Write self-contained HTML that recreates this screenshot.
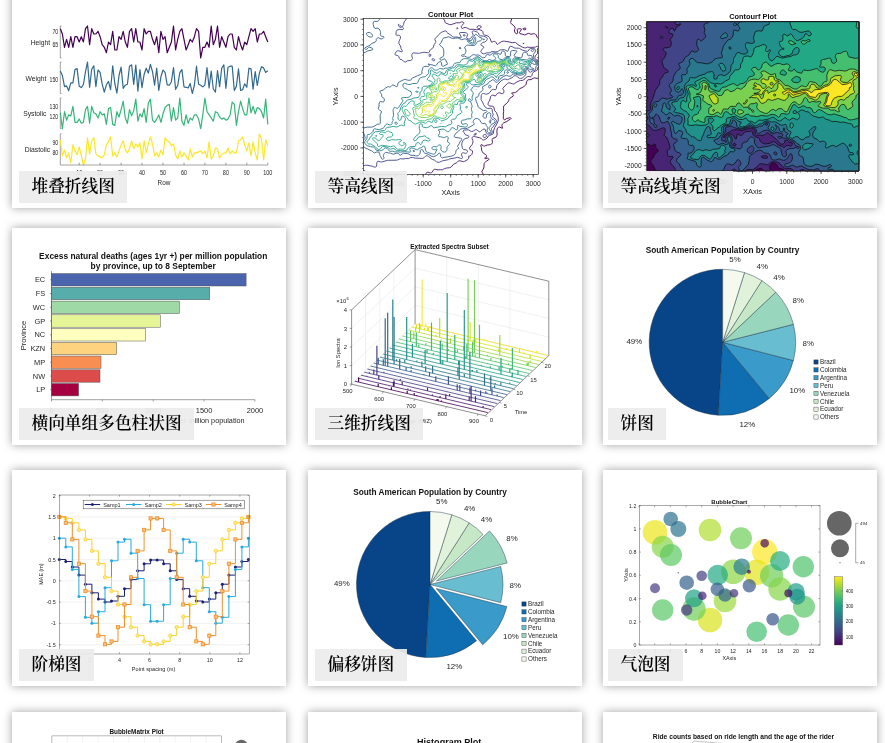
<!DOCTYPE html>
<html lang="zh"><head><meta charset="utf-8"><title>图表</title><style>
html,body{margin:0;padding:0;background:#fff}
body{width:885px;height:743px;overflow:hidden;position:relative;font-family:"Liberation Sans","Noto Sans CJK SC",sans-serif}
.card{position:absolute;background:#fff;box-shadow:0 0 9px rgba(0,0,0,.37);overflow:hidden}
.card svg{position:absolute;left:0;top:0;display:block}
.card svg text{font-family:"Liberation Sans",sans-serif}
.lab{position:absolute;left:7px;bottom:5.5px;height:31.5px;line-height:31px;padding:0 12.5px;background:rgba(236,236,236,.93);font-family:"Liberation Serif","Noto Serif CJK SC",serif;font-size:16.7px;font-weight:600;color:#000;white-space:nowrap}
</style></head><body>
<div class="card" style="left:12px;top:-9px;width:274px;height:217px">
<svg width="274" height="217" viewBox="12 -9 274 217">
<line x1="60.3" y1="26" x2="60.3" y2="58" stroke="#444" stroke-width="0.5"/>
<line x1="60.3" y1="26" x2="61.5" y2="26" stroke="#444" stroke-width="0.5"/>
<line x1="60.3" y1="58" x2="61.5" y2="58" stroke="#444" stroke-width="0.5"/>
<text x="58.2" y="33.7" font-size="6.7" text-anchor="end" fill="#262626" textLength="5.8" lengthAdjust="spacingAndGlyphs">70</text>
<text x="58.2" y="47.1" font-size="6.7" text-anchor="end" fill="#262626" textLength="5.8" lengthAdjust="spacingAndGlyphs">65</text>
<text x="50.2" y="44.8" font-size="6.75" text-anchor="end" fill="#262626">Height</text>
<polyline points="60.3,28.7 62.4,34 64.5,47.3 66.6,39.3 68.7,47.3 70.8,36.7 72.9,47.3 75,36.7 77.1,36.7 79.2,42 81.3,36.7 83.4,42 85.5,28.7 87.5,26 89.6,44.7 91.7,28.7 93.8,34 95.9,34 98,31.3 100.1,36.7 102.2,44.7 104.3,47.3 106.4,52.7 108.5,42 110.6,44.7 112.7,31.3 114.8,50 116.9,50 119,36.7 121.1,39.3 123.2,31.3 125.3,42 127.4,47.3 129.5,31.3 131.6,28.7 133.7,42 135.8,28.7 137.9,42 139.9,42 142,50 144.1,28.7 146.2,34 148.3,31.3 150.4,31.3 152.5,39.3 154.6,44.7 156.7,36.7 158.8,52.7 160.9,31.3 163,39.3 165.1,36.7 167.2,52.7 169.3,47.3 171.4,42 173.5,26 175.6,50 177.7,39.3 179.8,31.3 181.9,28.7 184,39.3 186.1,50 188.2,44.7 190.2,39.3 192.3,42 194.4,36.7 196.5,28.7 198.6,31.3 200.7,58 202.8,47.3 204.9,47.3 207,42 209.1,47.3 211.2,26 213.3,44.7 215.4,39.3 217.5,26 219.6,47.3 221.7,36.7 223.8,42 225.9,47.3 228,36.7 230.1,34 232.2,34 234.3,47.3 236.4,50 238.5,36.7 240.6,44.7 242.6,50 244.7,42 246.8,44.7 248.9,36.7 251,28.7 253.1,31.3 255.2,28.7 257.3,42 259.4,34 261.5,34 263.6,31.3 265.7,36.7 267.8,42" fill="none" stroke="#440154" stroke-width="1.2" stroke-linejoin="round"/>
<line x1="60.3" y1="62" x2="60.3" y2="93.5" stroke="#444" stroke-width="0.5"/>
<line x1="60.3" y1="62" x2="61.5" y2="62" stroke="#444" stroke-width="0.5"/>
<line x1="60.3" y1="93.5" x2="61.5" y2="93.5" stroke="#444" stroke-width="0.5"/>
<text x="58.2" y="82.4" font-size="6.7" text-anchor="end" fill="#262626" textLength="8.7" lengthAdjust="spacingAndGlyphs">150</text>
<text x="46.5" y="80.5" font-size="6.75" text-anchor="end" fill="#262626">Weight</text>
<polyline points="60.3,71 62.4,75.5 64.5,86.6 66.6,85.9 68.7,90.7 70.8,82.8 72.9,82.8 75,69.6 77.1,68.6 79.2,86.2 81.3,87.6 83.4,84.5 85.5,71.7 87.5,62 89.6,87.3 91.7,69.3 93.8,65.8 95.9,86.6 98,70 100.1,72.4 102.2,84.2 104.3,92.1 106.4,84.8 108.5,81.4 110.6,89.7 112.7,65.8 114.8,83.5 116.9,93.2 119,75.5 121.1,67.2 123.2,88.3 125.3,85.2 127.4,84.2 129.5,66.2 131.6,64.8 133.7,84.5 135.8,65.1 137.9,91.1 139.9,69.6 142,87.6 144.1,74.5 146.2,68.2 148.3,73.1 150.4,64.4 152.5,71.7 154.6,85.2 156.7,68.2 158.8,90.4 160.9,76.9 163,70 165.1,72.7 167.2,84.8 169.3,85.2 171.4,81.7 173.5,67.5 175.6,89.3 177.7,85.5 179.8,72.7 181.9,69.6 184,86.9 186.1,87.3 188.2,88 190.2,83.5 192.3,93.5 194.4,85.2 196.5,66.2 198.6,84.2 200.7,85.2 202.8,86.9 204.9,84.8 207,67.5 209.1,88 211.2,71 213.3,89 215.4,92.1 217.5,70.7 219.6,86.6 221.7,68.2 223.8,64.8 225.9,88.3 228,67.2 230.1,66.2 232.2,66.2 234.3,90.4 236.4,86.2 238.5,68.9 240.6,90.4 242.6,89.7 244.7,83.8 246.8,87.3 248.9,68.2 251,68.9 253.1,89.3 255.2,71.7 257.3,85.5 259.4,73.1 261.5,66.8 263.6,67.9 265.7,72.4 267.8,70.7" fill="none" stroke="#31688e" stroke-width="1.2" stroke-linejoin="round"/>
<line x1="60.3" y1="98" x2="60.3" y2="128.6" stroke="#444" stroke-width="0.5"/>
<line x1="60.3" y1="98" x2="61.5" y2="98" stroke="#444" stroke-width="0.5"/>
<line x1="60.3" y1="128.6" x2="61.5" y2="128.6" stroke="#444" stroke-width="0.5"/>
<text x="58.2" y="108.8" font-size="6.7" text-anchor="end" fill="#262626" textLength="8.7" lengthAdjust="spacingAndGlyphs">130</text>
<text x="58.2" y="119.4" font-size="6.7" text-anchor="end" fill="#262626" textLength="8.7" lengthAdjust="spacingAndGlyphs">120</text>
<text x="46.5" y="116.1" font-size="6.75" text-anchor="end" fill="#262626">Systolic</text>
<polyline points="60.3,112.8 62.4,128.6 64.5,111.7 66.6,120.2 68.7,114.9 70.8,115.9 72.9,106.4 75,122.3 77.1,122.3 79.2,119.1 81.3,123.3 83.4,122.3 85.5,109.6 87.5,106.4 89.6,123.3 91.7,106.4 93.8,112.8 95.9,113.8 98,118 100.1,111.7 102.2,114.9 104.3,113.8 106.4,124.4 108.5,108.6 110.6,107.5 112.7,124.4 114.8,125.4 116.9,111.7 119,117 121.1,109.6 123.2,101.2 125.3,118 127.4,123.3 129.5,109.6 131.6,115.9 133.7,110.7 135.8,99.1 137.9,121.2 139.9,113.8 142,117 144.1,108.6 146.2,122.3 148.3,103.3 150.4,99.1 152.5,120.2 154.6,122.3 156.7,119.1 158.8,114.9 160.9,122.3 163,113.8 165.1,107.5 167.2,105.4 169.3,104.3 171.4,121.2 173.5,107.5 175.6,120.2 177.7,118 179.8,98 181.9,121.2 184,125.4 186.1,114.9 188.2,123.3 190.2,118 192.3,120.2 194.4,114.9 196.5,114.9 198.6,119.1 200.7,128.6 202.8,114.9 204.9,98 207,111.7 209.1,114.9 211.2,118 213.3,121.2 215.4,111.7 217.5,112.8 219.6,117 221.7,119.1 223.8,118 225.9,120.2 228,119.1 230.1,114.9 232.2,102.2 234.3,104.3 236.4,125.4 238.5,111.7 240.6,101.2 242.6,108.6 244.7,114.9 246.8,114.9 248.9,98 251,112.8 253.1,106.4 255.2,113.8 257.3,107.5 259.4,108.6 261.5,111.7 263.6,118 265.7,99.1 267.8,124.4" fill="none" stroke="#35b779" stroke-width="1.2" stroke-linejoin="round"/>
<line x1="60.3" y1="133.8" x2="60.3" y2="165" stroke="#444" stroke-width="0.5"/>
<line x1="60.3" y1="133.8" x2="61.5" y2="133.8" stroke="#444" stroke-width="0.5"/>
<text x="58.2" y="145.3" font-size="6.7" text-anchor="end" fill="#262626" textLength="5.8" lengthAdjust="spacingAndGlyphs">90</text>
<text x="58.2" y="155.3" font-size="6.7" text-anchor="end" fill="#262626" textLength="5.8" lengthAdjust="spacingAndGlyphs">80</text>
<text x="50.2" y="152.2" font-size="6.75" text-anchor="end" fill="#262626">Diastolic</text>
<polyline points="60.3,139.8 62.4,155.9 64.5,149.9 66.6,158 68.7,152.9 70.8,163 72.9,144.9 75,150.9 77.1,154.9 79.2,146.9 81.3,155.9 83.4,165 85.5,159 87.5,137.8 89.6,153.9 91.7,140.8 93.8,137.8 95.9,153.9 98,155.9 100.1,156.9 102.2,158 104.3,154.9 106.4,144.9 108.5,141.9 110.6,136.8 112.7,155.9 114.8,152.9 116.9,156.9 119,150.9 121.1,144.9 123.2,140.8 125.3,149.9 127.4,152.9 129.5,148.9 131.6,140.8 133.7,148.9 135.8,143.9 137.9,146.9 139.9,142.9 142,159 144.1,140.8 146.2,152.9 148.3,143.9 150.4,136.8 152.5,143.9 154.6,155.9 156.7,152.9 158.8,156.9 160.9,149.9 163,154.9 165.1,137.8 167.2,140.8 169.3,141.9 171.4,145.9 173.5,143.9 175.6,154.9 177.7,159 179.8,150.9 181.9,156.9 184,152.9 186.1,155.9 188.2,160 190.2,148.9 192.3,156.9 194.4,152.9 196.5,152.9 198.6,151.9 200.7,150.9 202.8,153.9 204.9,150.9 207,158 209.1,141.9 211.2,159 213.3,155.9 215.4,147.9 217.5,148.9 219.6,158 221.7,154.9 223.8,152.9 225.9,152.9 228,147.9 230.1,153.9 232.2,150.9 234.3,152.9 236.4,152.9 238.5,140.8 240.6,139.8 242.6,136.8 244.7,144.9 246.8,150.9 248.9,142.9 251,155.9 253.1,141.9 255.2,152.9 257.3,160 259.4,133.8 261.5,138.8 263.6,160 265.7,139.8 267.8,145.9" fill="none" stroke="#fde725" stroke-width="1.2" stroke-linejoin="round"/>
<line x1="60.3" y1="165" x2="267.8" y2="165" stroke="#444" stroke-width="0.5"/>
<line x1="79.2" y1="165" x2="79.2" y2="162.6" stroke="#444" stroke-width="0.5"/>
<text x="79.2" y="174.6" font-size="6.9" text-anchor="middle" fill="#262626" textLength="6.1" lengthAdjust="spacingAndGlyphs">10</text>
<line x1="100.1" y1="165" x2="100.1" y2="162.6" stroke="#444" stroke-width="0.5"/>
<text x="100.1" y="174.6" font-size="6.9" text-anchor="middle" fill="#262626" textLength="6.1" lengthAdjust="spacingAndGlyphs">20</text>
<line x1="121.1" y1="165" x2="121.1" y2="162.6" stroke="#444" stroke-width="0.5"/>
<text x="121.1" y="174.6" font-size="6.9" text-anchor="middle" fill="#262626" textLength="6.1" lengthAdjust="spacingAndGlyphs">30</text>
<line x1="142" y1="165" x2="142" y2="162.6" stroke="#444" stroke-width="0.5"/>
<text x="142" y="174.6" font-size="6.9" text-anchor="middle" fill="#262626" textLength="6.1" lengthAdjust="spacingAndGlyphs">40</text>
<line x1="163" y1="165" x2="163" y2="162.6" stroke="#444" stroke-width="0.5"/>
<text x="163" y="174.6" font-size="6.9" text-anchor="middle" fill="#262626" textLength="6.1" lengthAdjust="spacingAndGlyphs">50</text>
<line x1="184" y1="165" x2="184" y2="162.6" stroke="#444" stroke-width="0.5"/>
<text x="184" y="174.6" font-size="6.9" text-anchor="middle" fill="#262626" textLength="6.1" lengthAdjust="spacingAndGlyphs">60</text>
<line x1="204.9" y1="165" x2="204.9" y2="162.6" stroke="#444" stroke-width="0.5"/>
<text x="204.9" y="174.6" font-size="6.9" text-anchor="middle" fill="#262626" textLength="6.1" lengthAdjust="spacingAndGlyphs">70</text>
<line x1="225.9" y1="165" x2="225.9" y2="162.6" stroke="#444" stroke-width="0.5"/>
<text x="225.9" y="174.6" font-size="6.9" text-anchor="middle" fill="#262626" textLength="6.1" lengthAdjust="spacingAndGlyphs">80</text>
<line x1="246.8" y1="165" x2="246.8" y2="162.6" stroke="#444" stroke-width="0.5"/>
<text x="246.8" y="174.6" font-size="6.9" text-anchor="middle" fill="#262626" textLength="6.1" lengthAdjust="spacingAndGlyphs">90</text>
<line x1="267.8" y1="165" x2="267.8" y2="162.6" stroke="#444" stroke-width="0.5"/>
<text x="267.8" y="174.6" font-size="6.9" text-anchor="middle" fill="#262626" textLength="9.2" lengthAdjust="spacingAndGlyphs">100</text>
<text x="164" y="184.8" font-size="7.0" text-anchor="middle" fill="#262626" textLength="12.8" lengthAdjust="spacingAndGlyphs">Row</text>
</svg>
<div class="lab">堆叠折线图</div>
</div>
<div class="card" style="left:308px;top:-9px;width:274px;height:217px">
<svg width="274" height="217" viewBox="308 -9 274 217">
<g fill="none" stroke-width="0.9" stroke-linejoin="round">
<path d="M483 174.5l-0.1 -0.7 -1 -1.9 0.1 -0.7 1.8 -3.2 0.3 -3.9 0.2 -0.7 0.6 -0.9 1.4 -1.4 2.1 -1 0.5 -0.6 -0.2 -0.7 -0.9 -0.5 -0.7 -0.2 -1.5 0.5 -1 -0.4 1.7 -0.8 0.2 -1.2 0 -0.6 -0.9 -1.1 -2.2 -1.3 -1.1 -1.5 -0.6 -1.3 -0.2 -2.6 -0.8 -2.7 0.5 -0.5 0.8 0.2 1.4 1.1 0.7 0.2 0.8 -0.1 2.2 -1 2.2 -0.2 1.4 -0.4 1.1 -0.6 0.5 -0.6 0.2 -0.7 -0.4 -2.6 0.1 -0.9 0.7 -0.7 2.2 -0.7 0.8 -0.4 1 -1.8 0.3 -1.3 -0.4 -2.7 0.6 -3.2 0.7 -0.7 0.7 -0.3 0.7 -0.1 2.9 1.2 0.1 -0.1 -0.6 -2.6 0.1 -0.7 0.4 -0.8 1.5 -1.4 2.9 -1.1 2.2 -1.7 1.5 -0.8 0.6 -0.7 -0.6 -0.6 -0.7 -0.1 -3 0.8 -2.2 1.2 -0.7 -0.1 -0.6 -1.2 0.1 -2.6 -0.1 -2 0.4 -2.6 -0.2 -2.6 0.2 -2.6 0.5 -0.6 1.9 -1.5 1.7 -1.8 0.9 -1.3 0.3 -1.4 0.8 -1.1 3.2 -2.1 0.3 -0.6 0 -0.7 -1.3 -1.3 -0.3 -0.6 2.5 -0.3 1.4 -0.4 1.5 -1 2.9 -2.8 2.2 -0.9 1.9 -1.2 1.5 -1.3 0.4 -0.6 0.6 -2.7 0.7 -1.4 0.8 -0.6 2.9 -0.2 2.2 -1.3 1.4 -0.5 2.2 0.6 1.5 -0.4M538.3 58.3l-0.4 -0.6 0.4 -0.9M538.3 38.5l-1 -1 -1.2 -2.7 -0.7 -0.7 -0.8 -0.3 -1.4 0 -2.2 0.5 -2.2 -0.9 -0.7 0 -2.2 1.2 -1.5 0.3 -2.2 -0.8 -2.3 -0.5 -0.5 -0.6 0.2 -0.7 1.7 -2.6 0 -0.7 -0.6 -0.2 -1.4 -0.1 -1.7 0.3 -0.4 0.7 0.5 3.3 -0.6 0.7 -0.8 0 -0.7 -0.4 -0.7 -1 -0.4 -1.3 0.1 -1.3 0.6 -1.3 -0.3 -1.3 -1 -1.3 -2.7 -2.2 -0.4 -0.4 -0.2 -0.7 1.1 -3.9M523.7 29.7l1.4 0.2 0.8 -0.7 0 -0.8 -0.8 -0.4 -1.8 0.4 -0.6 0.6 1 0.7" stroke="#440154"/>
<path d="M425.5 174.5l0.6 -1.3 1 -0.8 0.7 -0.2 2.9 0.8 0.8 -0.2 0.7 -0.8 1.5 -2.3 0.7 -0.4 0.7 0 2.9 0.6 2.2 -0.2 2.2 0.1 2.2 -1.3 2.2 -0.5 3 -0.3 1.4 -0.7 2.5 -2.9 2.6 -1.2 0.8 -0.5 1.4 -1.6 1.5 0 2.9 0.8 0.8 0 0.7 -0.2 3.4 -1.9 0.6 -0.7 0.3 -0.6 0.1 -1.3 -0.3 -0.7 0.3 -0.2 0.7 0.1 1.5 -0.8 0.9 -1 0.7 -2 -0.2 -1.4 -0.7 -0.7 -1.6 -0.5 -0.6 -0.6 0 -0.7 0.5 -1.3 2.2 -2.6 0.5 -1.3 0.3 -1.3 -0.1 -1.3 -0.9 -2 0 -0.6 0.4 -0.9 0.8 -0.8 0.7 -0.3 1.3 0.7 4.6 1.1 1.5 0.8 1.4 1.2 0.7 0.2 0.7 -0.1 1.5 -0.7 1.6 -1.2 1.1 -2 0.7 -0.6 3.2 -0.9 0.7 -0.4 0.5 -0.7 0.2 -2.6 1.1 -3.3 1.7 -2.6 0.8 -1.9 1 -2 0 -3.9 -1.8 -4.6 -1.8 -1.9 -0.5 -2.6 -0.4 -1.1 -0.8 -0.7 -2.9 -0.2 -0.7 -0.2 -0.7 -0.4 -0.5 -0.7 -0.1 -0.6 0.3 -1.4 1.5 -2.6 1 -3.9 0.7 -0.7 0.7 -0.3 0.7 -0.1 2.2 0.8 0.8 -0.3 0.7 -1.3 0.6 -0.7 1.6 -0.8 0.7 0 2.9 0.9 0.8 -0.3 0.6 -1.1 0.2 -1.3 -0.2 -0.6 -0.9 -1.4 -0.2 -0.6 1.2 -1.4 3.7 -3.7 0.7 -0.3 1.5 -0.1 2.9 0.9 0.7 0.2 0.8 -0.1 2.1 -1.5 3 -1.6 1.4 -0.3 2.2 -0.2 0.8 -0.3 1.7 -2 1.9 -1.3 0.8 -0.2 2.2 0.3 0.7 -0.2 0.7 -0.7 0.8 -2.5 0.7 -1 0.7 -0.6 3.2 -1.7 0.4 -0.6 0.4 -2 0.4 -0.7M474.6 135.1l-0.4 -0.4 0.2 -0.6 1 -0.7 0.8 0 0.2 0.7 -0.3 0.3 -1.5 0.7M538.3 60.3l-2.3 -0.6 -0.8 -0.7 -0.3 -0.6 -0.1 -0.7 0.6 -1.9 0.7 -0.9 1.2 -1.1 0.3 -0.6 -0.2 -2.6 0.1 -2 0.8 -1M538.3 46.4l-0.7 -0.1 -0.8 0.1 -1.4 0.7 -0.8 0.1 -4.3 0.2 -3 -0.2 -1.4 0.7 -1.5 -0.1 -1.8 -0.5 -4.6 -2.6 -2.4 -2.2 -0.7 -0.1 -2.2 0.3 -0.7 0 -3 -0.8 -4.4 -0.7 -1.4 0 -1.5 0.4 -2.9 1.8 -0.7 0.8 -0.8 0.3 -0.6 -0.5 -0.3 -1.3 -0.7 -0.6 -1.3 -0.7 -0.7 0 -1.5 0.6 -0.7 0.1 -1.3 -3.3 -0.8 -1.3 -1.6 -1.6 -2.9 -0.8 -0.6 -0.2 -0.8 -0.6 -0.3 -0.7 -0.4 -2 -0.8 -1 -3 -1.1 -2.2 0.3 -2.9 -0.5 -4.4 0 -2.9 -1.5 -1.5 -0.4 -1.3 0.3 -1.6 0.9 -0.7 -0.9 -0.2 -1.3 0.3 -0.6 1.3 -1.1 0.7 -0.9 0.2 -0.6 -0.1 -0.7 -0.8 -0.5 -1.4 -0.1 -2.2 0.9 -3 0 -5.1 1.8 -1.4 0.1 -4.4 -1.9 -0.5 -0.9 -0.4 -2 -1.6 -1.3M522.9 43.4l0.8 0.2 0.4 -0.2 -1.2 0M457.1 29.1l-0.2 -0.7 0.2 -0.8 0.3 0.1 0.4 0.7 -0.7 0.7M477.8 28.4l0.5 0.4 0.7 0 1.5 -0.9 0.8 -0.8 -0.2 -0.7 -1.3 -0.7 -1.4 0.1 -0.8 0.4 -0.6 0.9 0.2 0.6 0.6 0.7" stroke="#482475"/>
<path d="M367.2 174.5l-0.3 -1.3 -0.7 -1.3 -0.6 -0.6 -0.7 -0.4 -1.5 -0.3M363.4 165.7l2.2 -0.5 1.5 0 5.1 1 2.2 0.9 0.7 0.1 0.7 -0.2 0.8 -1 0.2 -3.2 0.5 -1.2 0.7 -0.4 0.8 0.1 1.4 0.5 1.5 0.2 5.8 -1.7 8.8 -0.1 1.5 -0.3 2.2 -1.1 0.7 -0.1 2.2 0.3 2.9 -0.5 2.2 0.1 0.8 -0.1 1.4 -0.8 0.8 -0.2 1.4 0 3 0.6 7.3 0.3 1.4 -0.7 1.5 -1.6 0.7 -0.3 0.8 0 1.4 0.6 3.7 3 2.2 0.7 2.2 1.7 1.4 0.5 1.5 -0.1 3.1 -1.4 5.7 -1.1 1.5 -0.9 5.1 -0.8 2.2 -0.6 0.7 0 2.9 1 0.8 0.1 0.7 -0.2 0.3 -0.8 -1 -2.6 0.2 -1.3 0.5 -0.6 0.7 -0.3 0.8 0.1 1.4 0.6 0.8 -0.1 0.7 -0.3 0.7 -0.7 0.2 -0.6 -0.1 -0.7 -0.8 -1 -2.9 -0.5 -0.8 -0.5 -0.4 -0.6 -0.8 -3.3 0.4 -2.6 0.9 -1.9 1.4 -1.7 0.7 -0.4 2.9 -0.5 0.7 -0.7 0.2 -0.6 -0.2 -0.7 -0.7 -0.5 -2.1 -0.5 -0.8 -0.5 -0.9 -1.7 -1.1 -1.4 0 -0.6 1.3 -0.7 3.6 -0.3 0.8 0.2 2.2 1.4 0.7 0.2 1.5 -0.5 2.2 -1.4 0.7 -0.1 0.7 0.3 2.2 1.6 0.8 0.3 0.7 -0.3 1.3 -1.4 0.9 -0.5 1.4 -0.6 0.8 0.1 1.7 4.3 0.5 0.4 1.4 0.2 2.2 -0.1 1.1 -0.5 0.4 -0.6 0 -1.4 -0.7 -1.9 -0.1 -0.7 0.3 -0.6 1.2 -1.3 2.2 -3 1.3 -2.2 0 -1.3 -0.4 -0.7 -2.5 -2 -0.7 -0.6 -0.3 -0.7 0.7 -1.9 -0.7 -2 -0.4 -3.2 -0.5 -0.7 -0.9 -0.3 -2.9 0.2 -1.3 -0.5 -1.6 -1.2 -1.5 -2.6 -0.8 -2.1 -1.3 -2 -0.2 -0.6 0.1 -3.9 0.5 -1.3 0.8 -0.7 0.9 -0.2 2.2 0.7 1.5 0 2.1 -1.1 0.8 -0.7 1.2 -1.9 1 -0.9 1.5 -0.1 1.4 0.3 0.8 -0.2 0.5 -1.1 0.3 -2.6 0.4 -0.7 3.9 -4.2 2.2 -1.3 1.4 -0.5 0.8 0 2.2 0.6 0.7 -0.2 1.5 -0.9 2.2 -0.9 1.8 -1.7 1.1 -0.4 1.4 0.4 1.1 0.7 1.9 1.5 1.4 0.3 1.5 -0.4 2.5 -2.1 0.9 -1.3 0.5 -2 -0.2 -2 0.1 -0.6 0.6 -0.5 0.7 0 1.1 0.5 1.1 1.9 0.8 0.3 0.7 -0.3 1.4 -1 2.2 -0.8 0.8 -0.5 0.4 -0.9 0 -1.9 0.4 -0.7 0.6 -0.6 1.5 -0.9M483.8 137.3l1.1 0.3 0.7 -0.3 0.6 -0.6 0.2 -0.7 -0.1 -0.6 -0.3 -0.7 -0.4 -0.2 -0.7 0 -0.9 0.2 -0.9 0.7 -0.2 0.6 0.2 0.7 0.7 0.6M538.3 61.1l-1.6 -0.1 -1.3 -0.4 -1.5 -0.9 -0.5 -0.7 -0.2 -1.3 0.4 -3.2 0.2 -0.7 1.4 -1.9 0.3 -1.3 -0.4 -1.3 -1.2 -0.8 -1.5 -0.2 -2.1 0.3 -1.1 0.7 -1.1 1.8 -0.8 0.3 -5.1 -1.3 -2.9 -1.8 -0.8 -0.1 -3.6 -0.1 -2.9 -1.5 -1.5 -0.3 -0.8 0.3 -1.4 3.7 -0.7 1.1 -3 -1.7 -2.2 0 -2.2 0.2 -0.7 0.3 -1 1 -1.2 0.5 -2.2 0.2 -2.9 -0.4 -2.9 1.4 -3 0 -2.2 0.9 -0.7 0 -1.4 -0.6 -0.8 -0.7 -0.3 -0.6 0 -0.7 0.3 -0.5 0.2 -0.8 2.2 -1.9 0.2 -0.7 -0.4 -0.8 -2.2 -1.2 -0.4 -0.6 0.2 -0.7 0.5 -0.6 1.1 -0.7 2.3 -0.8 1.6 -1.1 0.7 -1.3 0.1 -0.7 -0.2 -0.6 -0.8 -0.9 -2.9 -1.2 -2.9 -0.3 -0.7 -0.2 -0.6 -0.7 -0.8 -1.9 -0.8 -0.7 -3 -1.2 -1.4 -0.2 -0.8 0.4 -0.2 0.3 0 0.7 0.9 2.6 -0.1 0.7 -0.6 0.8 -1.4 1.1 -0.9 1.3 -0.6 0.3 -1.5 -0.1 -1.1 -0.8 -0.3 -0.7 0.9 -2.6 0 -0.6 -0.3 -0.7 -0.6 -0.6 -0.7 -0.4 -5.2 -0.1 -0.7 0.1 -0.6 0.4 0.1 0.6 1.7 3.3 0.1 0.6 -0.6 0.3 -3.6 -0.7 -3.7 0 -0.7 -0.3 -2.2 -2 -3 -1.8 -0.7 -0.7 -0.7 -1.3 -0.7 -0.2 -3 1 -1.4 0.8 -2.5 2.3 -1.6 2 -1.6 1.3 -0.3 0.6 -0.1 0.7 0.8 1.9 0 0.7 -0.2 0.6 -1.4 2 -0.8 2.6 -0.5 0.7 -2.5 1.9 -0.5 0.7 -0.5 1.5 -0.5 0.4 -0.3 0.2 -0.7 0 -3.7 -0.4 -1.8 0.2 -2.6 0.7 -1.4 0.1 -4.4 -0.4 -0.7 0.1 -0.8 0.4 -0.5 1.1 -0.1 1.3 0.7 2.6 -0.2 0.6 -0.5 0.7 -0.8 0.6 -0.8 0.2 -2.9 0.3 -1.5 1.2 -0.7 0 -1.5 -0.7 -1.4 -1.4 -2.2 -0.7 -0.7 -0.8 -0.2 -1.3 -0.3 -0.7 -1 -0.7 -2.2 -0.7 -0.7 -0.5 0.2 -0.7 1.2 -2.3 0.8 -0.6 1.4 -0.1 3 0.9 0.7 -0.1 0.1 -0.4 -0.1 -0.6 -1.1 -2 -0.6 -2.6 -1.4 -2 -0.2 -0.6 0.1 -2 1.4 -3.2 0.1 -1.3 -0.2 -0.7 -1 -0.9 -0.8 -0.1 -1.4 0.1 -0.8 -0.2 -0.4 -0.8 0.1 -1.3 0.3 -1.7 0.8 -1.2 2.2 -0.7 0.7 -0.1 2.2 0.4 0.7 -0.2 0.5 -0.5 0.1 -0.6 -0.6 -1 -0.5 -0.3 -0.1 -0.7 0.6 -0.5 0.7 -1.4 0.5 -2.6 1.7 -2 0.6 -1.3M432.9 60.6l-0.8 -0.9 0 -0.7 0.8 -0.2 0.8 0 0.7 0.4 0.3 0.5 -0.1 0.6 -0.2 0.3 -0.7 0.3 -0.8 -0.3M430 56.6l-0.7 -0.3 -0.3 -1.2 0.3 -0.8 0.7 -0.3 0.7 0.4 0.2 0.7 -0.2 0.9 -0.7 0.6M400 27.4l-0.7 -0.6 -0.8 -1.1 -0.1 -0.6 0.1 -0.8 0.8 0.5 0.7 0.8 1.4 0.8 0.2 0.7 -0.9 0.3 -0.7 0" stroke="#414487"/>
<path d="M413.9 151.9l-0.7 -0.9 0 -0.6 0.7 -0.1 0.6 0.7 -0.2 0.7 -0.4 0.2M363.4 146.5l1.2 0.6 1 1.3 2.2 0.6 2.2 1.3 1.4 0.3 0.8 0.4 1.4 1.6 0.8 0.4 2.2 -1 1.4 0 1.1 0.3 0.6 0.7 0.1 1.9 0.2 0.7 0.9 1.3 0.8 1.9 0.7 0.4 0.8 -0.1 0.4 -0.3 0.4 -0.6 0 -0.7 -0.7 -1.3 0 -0.6 0.6 -1.5 0.7 -1 0.8 -0.6 0.7 -0.2 2.2 0.6 2.2 0.3 2.2 0.9 0.7 0.1 2.9 -0.9 1.5 0.1 0.6 0.2 1.6 1.6 0.7 -0.2 2 -1.4 0.9 -0.3 3.7 0.3 1.5 0.4 1.2 0.9 1 0.4 2.9 0.1 1.5 0.4 1.4 0.2 1.4 -0.4 1.4 -1.3 0.6 -1.3 0.1 -2.6 0.5 -0.7 0.4 -0.2 0.7 0 0.8 0.4 1.1 2.4 0.7 0.7 3.8 1.3 3.9 2.3 1.5 0 2.9 -1.1 0.9 -0.6 1.3 -1.7 0.7 0 0.7 0.4 0.3 0.7 0 1.9 0.3 0.7 0.9 0.8 0.7 0.3 1.5 -0.6 6.6 -1 2.9 -1 0.8 -0.5 1.2 -1.3 0.4 -1.3 0.1 -1.3 0.4 -0.9 0.8 -0.7 1.6 -1 0 -0.6 -0.8 -0.7 -0.3 -0.6 0.2 -0.7 1.4 -2 0.7 -1.9 1.7 -2 0.1 -0.6 -0.2 -0.7 -0.8 -0.4 -5.9 -0.9 -0.5 -0.6 0.2 -1.3 1.8 -2.6 2 -1.4 1.7 -1.9 0.7 -0.4 1.5 -0.4 3.7 -0.1 1.7 -0.4 6.3 -3.6 0.4 -0.3 0 -0.7 -1.1 -1.3 -0.1 -0.6 0.5 -1.3 1.1 -1.3 1.4 -0.7 1.5 0.2 1.4 0.9 1.1 0.9 0.8 1.9 1.1 0.9 0.7 0.4 2.2 -0.2 0.7 0.3 0.8 1.9 1.3 1.9 0.1 0.7 -0.8 1.9 0.4 1.3 0.4 0.7 0.8 0.7 1.4 0.2 0.7 -0.2 0.3 -0.7 -0.2 -0.7 -1.2 -1.9 -0.5 -1.3 0.2 -0.7 1.5 -1.9 0.6 -1.3 1.5 -0.6 1.2 -0.7 0.9 -1.3 0 -0.7 -0.5 -0.6 -0.8 -0.7 -1.9 -0.6 -0.3 -0.3 -0.9 -2.4 0.2 -1.9 -0.1 -0.6 -0.7 -1 -0.7 -0.2 -0.8 0.2 -1.4 0.9 -0.5 1.3 -0.4 2.6 -0.6 0.5 -1.5 -0.4 -0.8 -0.7 -0.3 -0.7 0 -0.6 0.6 -2 0.5 -0.7 2.2 -0.7 0.5 -0.5 0.1 -0.7 -0.6 -0.6 -0.7 -0.2 -2.2 0.1 -0.7 -0.3 -4.2 -2.9 -0.4 -0.6 -0.5 -2 -1.5 -3.6 -0.5 -2.3 0 -0.6 0.2 -0.7 0.3 -0.2 1.5 -0.4 0.7 -0.5 0.4 -0.8 0.4 -2 0.3 -0.6 3.2 -2.6 0.3 -0.7 0.1 -0.7 -0.3 -1.1 -0.5 -0.8 3.1 -2 1.8 -0.7 0.7 -0.5 0.7 -1.4 0.7 -0.6 1.5 -0.7 1.5 -1.3 0.7 -0.2 0.8 0.2 1.4 1.7 0.8 0.5 0.7 0.2 0.7 -0.2 1.5 -1.2 2.2 -2.8 2.3 -1.4 2.8 -1.4 0.7 0 1.5 0.8 1.5 0.2 0.9 -0.3 1.3 -1.4 0.7 -0.4 0.7 -0.2 2.2 0.1 2.2 0.8 1.5 0.3 2.2 -0.1 1.4 -0.5 0.8 -0.3 0.9 -0.9 0.4 -1.3 0 -2.6 0.5 -0.7 1.1 -0.3 2.4 0.3 2 1.1 2.3 -0.4 0.6 -0.6 0 -0.1 -0.7 -0.5 -1.5 -0.3 -0.8 -0.5 -0.4 -0.6 -0.2 -1.3 0.3 -1.3 0.4 -0.6 0.7 -0.2 0.7 0 2.2 1 0.8 0.1 2.9 -0.8M363.4 132.3l1.4 3.7 0.2 1.3 -0.1 1.4 -0.8 1 -0.7 0.6M490 123.1l-0.2 -2.1 0.1 -0.6 0.8 -0.6 0.3 0.6 -0.5 1.9 0.2 0.7 -0.7 0.1M476.1 89.2l0 -0.2 0 0.2M489 87.7l0.3 0.4 0.7 -0.1 0.7 -0.6 0.4 -1 -0.4 -0.7 -0.7 -0.3 -0.7 0 -0.5 0.4 -0.1 0.6 0.3 1.3M507.6 73.2l-0.7 -0.5 -0.1 -0.6 0.8 -0.5 0.9 0.5 0 0.6 -0.9 0.5M538.3 61.9l-2.9 -0.3 -1.4 -0.6 -0.8 -0.6 -1.1 -1.4 -0.1 -2.6 -0.3 -0.7 -0.7 -0.4 -2.2 0.5 -0.7 -0.2 -0.4 -0.5 -0.1 -1.3 -0.4 -0.6 -1.3 -0.7 -1.5 -0.2 -0.8 0.2 -0.6 0.7 -1.1 3.9 -0.4 0.6 -0.8 0.1 -4.4 -0.6 -1.4 -0.6 -0.4 -0.2 -0.4 -0.6 0.1 -0.7 0.7 -1.1 1.7 -2.1 0.2 -0.7 -0.5 -0.4 -0.7 -0.1 -2.9 -0.2 -0.7 0.1 -0.8 0.4 -0.5 0.9 -0.1 0.6 0 3.3 -0.8 0.6 -0.8 0.1 -2.8 -0.1 -0.8 -0.6 -0.3 -3.3 -0.5 -0.8 -0.6 -0.5 -0.8 -0.2 -0.8 0.1 -0.7 0.5 -0.7 2.5 -0.8 0.3 -2.1 -1 -1.5 -0.4 -2.2 -0.1 -1.5 0.2 -1.2 0.7 -1 1.2 -0.7 0.3 -2.2 -0.8 -0.7 0.1 -0.8 0.5 -0.7 1.4 -0.7 0.9 -1 0.3 -1.2 0 -0.7 -0.3 -2.2 -1.8 -0.8 -0.4 -0.7 -0.2 -2.9 0.1 -2.2 -0.6 -0.8 0.4 -1.3 1.5 -1.3 0.7 -1 0.2 -1.5 0 -0.7 -0.2 -2.2 -1.1 -2.2 0.4 -0.7 -0.6 0.2 -0.7 0.5 -0.4 1.5 0 0.7 -0.2 0.7 -0.8 0.5 -1.2 0.3 -1.3 0 -1.3 -1.1 -1.9 -0.1 -0.7 1.1 -1.3 0.8 -0.7 0.7 -0.2 5.9 0.4 1.4 -0.2 0.9 -0.6 1.3 -2.3 0.8 -0.7 0.7 -0.4 2.2 -0.5 1 -0.7 0.4 -0.6 0.2 -1.3 -2.3 -0.9 -0.8 -0.4 -1.4 -1.5 -1.5 -0.9 -0.7 -0.2 -2.7 3.9 -0.9 1.9 -0.8 0.6 -1.5 -0.2 -4.4 -1.7 -3.6 0.9 -3 -1.5 -0.7 -0.2 -2.2 0 -2.2 0.5 -0.7 0 -1.5 -0.5 -2.2 -1.2 -0.7 0 -2.2 0.8 -2.2 0.3 -0.7 0.4 -0.7 1.2 -1.3 3.2 -1.6 1.3 -0.1 0.7 0.5 0.6 1.7 1.3 1.6 2 0.4 1.3 0.1 3.9 -0.3 2 -0.3 0.7 -0.8 0.5 -1.4 0.6 -0.8 0.6 -0.2 0.2 0 0.6 0.2 0.6 0.8 0.6 0.7 -0.1 2.2 -1.1 0.7 -0.1 0.8 0.7 1.8 3.4 0.2 0.6 0 0.7 -2 0.8 -1.5 0.9 -0.7 0.3 -0.8 -0.1 -0.5 -0.6 -0.6 -3.3 -0.3 -0.5 -0.8 -0.3 -1.6 0.8 -0.7 0.7 -1.3 1.9 -0.8 0.7 -0.7 0.2 -2.9 -0.9 -2.2 -0.3 -1.5 -0.8 -0.3 0.5 1.1 0.6 -0.1 0.7 -0.7 0.9 -0.7 0.2 -1.5 -0.4 -1.4 0.1 -1.4 0.5 -0.6 0.6 -0.2 1.3 -0.9 2.6 0.2 2 -0.5 0.6 -1.1 0.7 -2.8 0.9 -3 1.5 -2.3 0.9 -0.5 0.6 -0.2 0.7 -0.4 0.6 -1 0.3 -1.4 0.1 -1.5 -0.2 -2.2 -0.8 -0.7 0.1 -5.1 2.5 -0.9 0.6 -0.7 1.3 0 2 -0.6 0.8 -0.8 0 -2.2 -1.2 -1.4 -0.4 -0.8 0.4 -1.4 1.5 -0.8 0.1 -1.4 -0.3 -0.8 0.2 -2.1 1.3 -2.2 1.9 -3 0.8 -0.3 0.8 0.3 0.6 1.3 2 0.4 2.6 0.5 0.5 1.5 0.8 0.3 0.6 0.2 1.3 -0.5 1.5 -0.7 0.4 -0.8 0 -2.2 -0.7 -0.7 1.2 -0.5 1.6 0.1 1.9 -0.6 2 -0.1 0.6 0.2 0.7 0.7 0.6 2 1.3 0.2 0.7 -1.1 2.6 -0.3 1.3 0.3 5.9 -0.2 1.7 -0.7 0.8 -2.2 0.1 -3 1.9 -1.7 0.7 -1.9 0.3 -3.6 -0.1 -3.7 1M363.4 52.7l2.2 -0.6 2.2 -1.2 4.4 -1 0.7 -0.6 -0.1 -0.7 -0.6 -0.4 -2.2 -0.9 -0.7 -0.1 -0.8 0.2 -0.7 0.6 -0.7 1 -0.8 0.5 -0.7 -0.1 -0.7 -0.6 -0.2 -0.2 0 -0.6 3.5 -2 1.8 -0.6 1.1 -1.4 0.7 -0.6 3.2 -1.3 0.9 -0.7 0.4 -0.6 -0.1 -1.3 0.3 -0.7 0.7 -0.6 0.8 -0.4 0.8 0 2.2 1.2 1.4 -0.3 0.8 -0.4 0.7 -0.8 0 -0.6 -0.7 -0.5 -1.5 -0.2 -0.7 -0.3 -0.4 -0.3 -0.3 -1.3 0.3 -2 -0.1 -0.7 -0.5 -1.3 -0.8 -1.3 -0.4 -0.4 -0.8 -0.4 -2.9 0.2 -0.7 -0.4 -0.5 -0.9 -0.7 -2.6 -0.1 -1.3 0.5 -1.4 0.8 -0.4 2.9 0 0.7 -0.3 0.7 -0.5 0.5 -0.7 0.4 -1.3M531.6 51.2l0.8 0.4 0.8 -0.3 0.6 -0.7 -0.1 -0.7 -0.5 -0.4 -0.8 0 -0.9 0.4 -0.3 0.7 0.4 0.6M460 48.7l-1 -0.7 0.3 -0.4 0.7 -0.1 1 0.5 -0.2 0.6 -0.8 0.1M483.1 39.5l0.3 0.2 1 -0.2 -0.3 -0.7 -1 0.7M370 37l-1.5 -0.5 -1.1 -0.9 -0.8 -1.3 -0.1 -0.7 0.2 -0.6 1.1 -0.5 1.5 -0.1 1.4 0.5 0.7 0.7 1 1.3 0.2 0.7 0.1 0.6 -0.9 0.7 -1.8 0.1M463.3 35.6l1.1 0.4 0.7 -0.4 0 -0.7 -0.7 -0.2 -1 0.2 -0.1 0.7" stroke="#355f8d"/>
<path d="M431.2 153.6l1.7 0.5 0.8 0 1.2 -0.5 0.6 -0.6 0.6 -2 0.8 -1.3 -0.1 -0.6 -0.2 -0.1 -0.8 0.4 -1.4 0.3 -1.9 -0.6 -0.6 -0.7 0 -0.6 0.4 -0.7 0.6 -0.5 0.8 -0.2 0.7 0.1 2.2 0.5 1.1 -1.2 1 -0.7 0.8 -0.2 0.7 0.1 0.8 0.6 0.2 0.9 -0.4 3.2 1 1.3 0.9 0.7 1.2 0.3 0.7 0.1 1.3 -0.4 0.9 -1.2 0.2 -0.8 0 -2.6 0.3 -0.6 2.1 -2 0.2 -0.7 -0.1 -0.6 -0.5 -0.6 -1.5 -0.7 -0.1 -0.7 0.6 -1.9 0.2 -1.3 -0.2 -0.7 -0.4 -0.5 -0.8 -0.3 -0.7 0.1 -1.5 1 -0.7 0 -2.2 -0.6 -2.9 -0.4 -0.3 -0.6 0 -0.6 0.9 -2 0.3 -1.3 -0.2 -0.9 -0.3 -0.4 -0.4 -0.5 -0.6 -0.2 3.5 -0.9 1.5 -0.1 1.4 0.4 2.3 1.9 0.7 0.3 0.7 0 0.7 -0.3 1.2 -1.3 0.5 -0.6 0.5 -1.3 0.7 -0.5 0.8 0 1.4 0.5 1.5 1.3 0.7 0.3 0.8 -0.3 0.6 -1.3 -0.1 -2 0.2 -0.7 0.7 0 1.5 0.9 2.2 0.2 2.9 0.6 1.3 -0.3 0.7 -0.7 0.3 -0.6 0 -0.7 -0.3 -0.6 -0.5 -0.5 -0.7 -0.2 -0.8 0.1 -2.2 0.7 -0.7 -0.3 -0.7 -1.1 -0.2 -1.3 0.2 -0.9 0.7 -0.5 2.9 -0.5 2.2 -0.9 2.9 -0.1 0.8 -0.4 0.7 -0.7 0.2 -0.6 -0.3 -2 0 -0.6 0.7 -2 -0.1 -0.6 -0.8 -2 0 -0.6 0.6 -2.6 0 -1.3 -1.5 -4 -1.7 -0.3 -0.3 -0.3 -0.1 -0.7 0.4 -1 0.7 -0.3 1.1 0.7 0.4 0.9 0.7 0.2 0.6 -0.5 0.1 -0.6 -0.3 -1.3 0 -1.3 1 -2.6 0.1 -1.3 -0.2 -0.7 -0.6 -0.8 -1.5 -1.1 0.1 -0.7 1.9 -2.6 0.8 -0.7 0.9 -0.3 1.5 0.1 1.5 0.6 0.7 0 0.7 -0.3 1.6 -1.4 2.9 -1.3 0.6 -0.6 0.7 -2 1.5 -1.6 0.8 -0.6 2.2 -0.8 1.4 -1.2 0.8 -0.2 1.4 0.3 1.5 1.2 1.5 1.6 0.7 0.4 0.7 0 0.9 -1 0.6 -2.4 0.6 -0.9 3.8 -0.9 0.6 -0.4 0.6 -0.7 0.2 -0.6 0 -2 0.2 -0.6 0.6 -0.7 0.7 -0.2 2.2 0.3 1.5 0.5 1.4 1.4 0.8 0.5 3.6 0.6 2.9 0.8 1.5 0 2.9 -0.7 0.8 -0.4 0.4 -0.8 -0.1 -2.6 0.4 -1.1 0.7 -0.6 3 -0.1 0.5 -0.2 0.4 -0.6 0.2 -2 0.3 -1.3 0.8 -0.8 2.3 -1.1 -0.2 -0.7 -2.1 -3 -0.8 0.1 -0.6 0.3 -1.4 1.3 -0.9 0.3 -2.2 -0.4 -2.9 -0.1 -2.2 -0.9 -1.5 -0.4 -3.6 -0.2 -0.8 0.4 -0.4 0.6 -0.3 1.7 -0.6 1 -0.9 0.2 -0.7 -0.2 -0.2 -0.7 0 -2 -0.2 -0.6 -0.9 -0.7 -1.6 -0.2 -1.5 0.1 -1.5 0.5 -1.4 1.2 -0.8 0.3 -1.4 0 -1.4 -0.6 -0.9 -0.6 -0.4 -0.7 0 -1.9 -1 -1.3 -0.7 -0.4 -1.5 -0.3 -1.4 0.4 -0.4 0.3 -0.1 0.6 0.3 0.7 1.9 1.9 0.3 0.7 0 0.6 -0.8 0.7 -2 0.7 -1.9 -0.1 -1.7 -0.9 -1.5 0.9 -1.5 0.5 -2.2 -0.2 -2.1 -0.8 -0.8 -0.5 -2.2 -2.3 -1.4 -0.4 -0.8 0.1 -1.4 0.6 -3 2.1 -0.7 0.1 -2.2 -0.5 -5.1 -0.4 -1.2 0.4 -2.1 1.3 -1.1 2.1 -0.7 0.3 -2.2 0 -2.7 0.9 -0.7 0.7 -0.3 1.3 -0.6 0.6 -1.2 0.7 -2.6 0.9 -1.4 0.3 -2.2 0 -2.2 1 -3 -0.7 -0.7 0.1 -1.2 1 -1 0.5 -1.5 0.2 -1.4 -0.4 -2.2 -2 -0.7 -0.1 -0.8 0.3 -1.2 0.8 -0.6 0.7 -0.2 0.6 0 2.6 -0.1 0.7 -0.5 0.6 -2.5 2.5 -0.7 0.3 -2.2 0.2 -2.5 1 -0.7 0.6 -1.9 4.2 -0.8 0.6 -4.4 0.2 -2.4 0.9 -1.2 0.1 -1.5 -0.3 -2.2 -1 -0.7 0 -1.1 0.5 -0.4 1.3 0.1 1.3 0.3 0.7 1.1 1 3 1.6 1.4 1 2.2 0.9 0.6 2 0 0.7 -0.4 0.6 -1.7 2 -0.7 0.3 -2.2 0.4 -3 -0.2 -2.3 0.8 0.2 0.6 1.1 1.3 0.2 0.7 -0.1 0.6 -2.9 4 -1.3 2.2 -0.7 0.7 -0.7 0 -1.5 -0.7 -0.7 -0.2 -0.8 0.5 -0.4 0.7 -0.4 0.7 -0.2 1.3 0.5 4.5 -0.8 2.6 -0.1 0.7 0.5 2 -0.2 0.6 -0.7 0.7 -0.3 0.6 0.2 1.3 -0.4 0.7 -1.3 0.6 -0.8 0 -2.2 -0.8 -0.7 0 -0.7 0.3 -0.7 0.8 -1.5 2.3 -0.7 0.6 -3.7 1.5 -1.5 0.1 -2.9 -0.9 -0.7 0 -0.8 0.4 -0.2 0.3 -0.3 1.9 -0.5 0.7 -1.9 1.3 -0.7 0.8 -0.7 0.3 -1.5 -0.1 -0.4 0.3 -0.2 0.7 -0.3 3.2 -2 2.6 -0.3 0.7 0.3 1.3 0.8 1.3 1.8 1.3 3.2 0.9 2.8 0.4 0.9 0.5 0.7 0.8 0.7 1.3 1.2 0.7 2.5 0.4 2.2 -0.3 1.4 -0.8 1.1 -1.3 1.2 -0.4 0.7 0 0.9 0.4 0.7 0.7 1.3 1.7 0.7 0.4 0.8 0.2 2.2 -0.2 2.2 0.7 2.9 0 2.9 0.2 3.7 -0.4 5.8 0.5 0.4 -0.5 -0.1 -0.7 -0.7 -1.3 -0.1 -0.6 0.5 -0.7 1.5 -0.4 1.5 0.2 3.6 1.6 0.8 -0.1 1.6 -1.3 2 -0.8 2.2 -1.4 0.7 -0.2 0.8 0.8 0.7 3.6 0.7 1.3 1.1 0.6 3.8 1.3M396.3 124.3l-0.7 -0.2 -0.7 -0.5 -0.2 -0.6 0.4 -0.7 1.2 -0.1 1.1 0.8 0 0.6 -0.3 0.5 -0.8 0.2M418.3 88.4l-0.7 -0.7 0.7 -0.3 0.7 0.3 -0.7 0.7M503.2 66.5l-0.5 -0.3 -0.6 -0.6 0.3 -0.6 0.8 -0.2 0.7 0.1 0.7 0.6 0.4 0.7 -0.4 0.7 -1.4 -0.4M535 63l1.1 0.3 1.9 -0.3 -1.2 -0.3 -1.4 0.1 -0.4 0.2M471.4 44l1 0.2 1.5 -0.1 0.7 -0.6 1.2 -3.4 -0.2 -1.9 -0.2 -0.9 -0.8 0.4 -0.2 0.5 -0.5 1.8 -0.2 2.1 -0.5 0.9 -0.8 0 -4.4 -2.2 -0.7 -0.1 -0.3 0.1 0.4 0.6 1.4 1.4 0.9 0.6 1.7 0.6" stroke="#2a788e"/>
<path d="M396.4 150.4l1.4 0.3 2.9 -0.1 2.2 0.2 3.4 -0.4 0.9 -0.7 0.6 -1.3 0.5 -0.6 1.2 -0.7 1.5 -0.4 4.1 -0.2 0.5 -0.7 0.4 -2 0.8 -0.9 1.5 -0.3 0.7 0.2 0.5 0.4 0.7 1.3 0.3 0.2 0.7 -0.3 0.5 -0.6 0.4 -1.9 0.4 -0.7 1.6 -1 1.5 0 2.2 0.7 0.7 0.1 1.2 -0.4 0.4 -0.7 -0.2 -0.6 -0.6 -0.7 -2.2 -0.7 -1.1 -1.2 -1.1 -0.8 -0.8 0 -2.2 0.7 -2.9 0.3 -0.7 0.3 -1.5 2.4 -1.4 0.9 -0.8 0.2 -0.5 -0.1 -0.5 -0.7 0.3 -1.2 1.4 -2 3.3 -2.6 1 -1.3 0.4 -2 -0.7 -2.6 -0.1 -2.6 0.2 -0.7 0.3 -0.5 0.8 -0.5 0.7 -0.1 1.1 0.5 0.1 0.6 -0.2 1.3 0.3 0.7 0.9 0.4 2.9 0.4 1.3 -0.2 1.4 -0.6 1.7 -1.3 0.8 0.1 1.8 1.8 1.1 0.2 7.3 -1.3 3.7 0.4 0.7 -0.3 2.2 -1.4 2.6 -0.8 0.8 -0.7 0.1 -0.6 0 -0.7 -0.8 -1.9 0.2 -0.4 0.3 -0.3 1.2 -0.5 2.2 -0.1 0.7 -0.3 0.5 -1.1 0.3 -1.3 0.7 -0.9 3.9 -2.3 0.7 -0.7 0.1 -0.6 -0.3 -0.7 -1.2 -1.9 0.1 -2.6 -0.5 -2.6 0.3 -0.7 0.5 -0.3 3 0 0.6 -0.4 1.5 -2.6 0.1 -1.3 -0.4 -1.9 0.1 -2 -0.1 -0.6 -0.4 -0.5 -1.7 -0.8 -0.3 -0.7 0.6 -1.1 2.9 -2.2 1.2 -1.3 0.2 -0.6 -0.1 -0.7 -1.3 -1.3 -0.3 -0.6 0.1 -0.7 0.9 -0.6 1.5 -0.3 0.7 0 0.8 0.3 1.4 1.3 0.7 0.3 0.8 0 2.9 -0.4 2.2 0.4 3.5 -1.6 0.6 -0.7 1 -1.7 2.9 -3.1 3 -2.4 2.2 -0.8 1.4 -0.1 1.1 0.3 0.7 0.7 1.2 1.9 0.7 0.2 0.4 -1.5 0.4 -0.6 6.2 -5.9 0.3 -0.7 -0.2 -0.6 -2.5 -2 -0.3 -0.6 0.1 -0.7 0.7 -0.6 0.7 -0.2 1.5 0 0.7 0.2 0.8 0.4 1.4 1.5 0.4 2 0.4 0.4 0.7 0.4 2.2 0.5 2.2 2 5.8 1.7 1.5 0 2.2 -0.6 0.9 -0.5 0.3 -0.7 -0.5 -3.2 -0.1 -1.3 0.1 -0.5 0.8 -0.3 0.7 0 2.2 0.5 0.7 -0.1 0.4 -0.3 0.9 -2.6 0.9 -1.1 1.5 -0.8 0.5 -0.7 -0.4 -0.7 -0.8 -0.5 -0.8 0.2 -2.2 1.2 -1.4 0.4 -2.2 -0.6 -2.2 -0.4 -2.2 -1.2 -1.5 -0.5 -2.2 -0.1 -0.8 0.2 -0.6 0.7 -0.8 2.4 -0.6 0.9 -1.6 0.3 -1.2 -0.3 -0.7 -0.7 -0.2 -0.6 0.2 -2 -0.2 -0.7 -0.7 -0.6 -0.8 -0.2 -1.5 0.3 -2.7 1.8 -1.7 0.5 -3.6 0.4 -3 -0.5 -4.4 0.8 -5.1 0.1 -4.4 -0.3 -0.7 -0.5 -1.5 -2.4 -0.7 -0.5 -0.7 -0.2 -0.8 0.1 -1.4 0.8 -2.2 2.3 -0.8 0.4 -2.9 -0.8 -0.7 0.1 -0.7 0.4 -0.3 1.3 -0.7 1.3 -0.6 0.7 -1.2 0.6 -1.6 0.2 -5.9 -0.4 -1.5 0.4 -0.5 0.5 -0.9 1.5 -0.8 0.5 -3.6 1 -3.7 1.5 -0.6 0.7 -0.8 2.2 -0.8 0.5 -1.4 -0.2 -3 -1.5 -0.7 -0.1 -1.1 0.4 -1.1 1.2 -0.7 -0.1 -2.9 -1.3 -2.2 -1.9 -0.8 0.2 -0.2 0.6 0.1 1.9 -0.2 1.3 -1.2 2.7 -1.4 1.3 -0.4 0.6 -0.1 0.7 0.5 0.9 0.7 0.5 3.1 0.5 0.5 0.7 0.2 0.6 -0.1 0.7 -0.4 0.6 -1.5 1.3 -1.8 0.8 -1.4 0.4 -3 -0.1 -0.7 0.2 -0.7 0.5 -0.5 0.8 -0.3 2.7 -0.7 1.1 -1.3 0.8 -0.1 0.7 0.2 1.3 -0.2 1.3 -0.8 1.1 -0.7 0.6 -1.5 0.4 -2.9 0.3 -2.9 1.3 -3 0.5 -0.8 0.3 -0.7 0.7 -0.7 1.3 -0.8 0.6 -2 1.4 -0.8 0.8 -1.3 2.4 -1.2 3.9 -0.4 0.6 -1 0.7 -0.6 0.7 0.5 2.6 -0.2 1.9 0.1 1.4 0.3 0.6 0.9 0.6 0.7 0.1 0.7 -0.5 0.4 -0.8 0.4 -2.3 0.2 -0.4 0.5 -0.3 0.7 0.2 1.5 0.8 0.7 0.6 0.3 0.7 0 1.3 -1.3 3.3 0 0.6 0.4 1.3 -0.1 0.7 -0.8 0.2 -2.1 -0.8 -0.8 0.2 -3.6 1.7 -0.8 0.1 -2.9 -0.6 -3.7 0.8 -2.2 0.1 -0.7 0.2 -0.7 0.9 -0.7 1.3 -0.8 0.7 -0.7 0.2 -2.9 0.2 -3 0.9 -2.2 0 -0.7 0.2 -2.6 2.2 -0.4 0.6 -0.3 1.3 -1.8 1.3 -0.3 0.7 -0.2 1.3 -1.7 1.2 -0.6 0.7 -0.1 0.7 0.1 0.6 0.6 1 0.7 0.5 0.8 0.1 1.4 -0.2 0.7 0.2 0.9 1 2.8 1.4 2.2 2.4 0.7 0.4 0.8 0.1 1.3 -0.3 0.7 -0.7 0.9 -1.3 0.7 -0.5 1.5 -0.1 3.2 0.6 2.6 1.8 0.8 0.3 2.9 -0.7 0.7 0.2 2.3 1.7M375.8 136.3l-0.4 -0.3 0.4 -0.4 0.8 0.1 0.3 0.3 -0.3 0.3 -0.8 0M435.1 122.4l-0.5 -0.7 0 -0.7 0.3 -0.6 0.2 -0.3 0.7 -0.3 0.8 0.2 0.4 0.4 0.1 0.6 -0.2 0.7 -0.3 0.5 -0.8 0.4 -0.7 -0.2M465.6 107.3l0.3 0.4 0.7 0.2 0.8 -0.6 0 -0.6 -0.8 -0.3 -0.7 0.3 -0.3 0.6M416.8 92.3l0.9 0 0.6 -0.6 -1.4 -0.7 -0.8 0.1 -0.6 0.6 0.6 0.4 0.7 0.2M478.3 76l-0.6 -0.6 0.1 -0.7 1.2 -0.8 0.8 -0.1 0.5 0.2 0.3 0.7 -0.1 0.7 -0.8 0.6 -0.7 0.1 -0.7 -0.1M501.6 73.4l0.2 0 -0.2 0" stroke="#21918c"/>
<path d="M397.4 149.1l1.1 0.2 2.2 -0.2 2.2 0.2 0.9 -0.2 0.7 -0.7 1 -1.9 0.4 -1.4 -0.1 -1.3 -0.7 -0.9 -0.7 -0.5 -0.8 0 0.5 1.4 0 0.7 -0.4 0.6 -0.8 0.5 -0.7 0.1 -0.7 -0.1 -0.9 -0.5 -1.6 -1.3 -0.4 -0.6 0.2 -0.7 0.5 -0.4 0.7 -0.5 0.9 -0.4 0.7 -0.6 -0.5 -0.7 -1.1 -0.3 -1.5 0 -2.9 0.4 -3.7 -0.4 -0.7 0.2 -2.2 0.9 -0.7 -0.1 -1.2 -0.7 -0.6 -0.6 -0.2 -0.7 0.5 -0.6 1.5 -0.8 2.9 -0.3 0.4 -0.2 0.8 -0.7 0.4 -1.3 -0.2 -1.3 -0.5 -0.6 -2.4 -0.9 -1.4 -0.9 -0.8 0 -1 1.1 -1.1 0.6 -1.5 -0.1 -1 -0.5 -1.2 -0.1 -0.8 0.1 -1 0.7 -0.4 0.6 0.2 0.7 0.5 0.3 0.8 0.2 1.4 -0.1 0.6 0.2 0.2 0.7 -0.3 1.3 -0.5 0.6 -1.6 1.3 -0.7 1.3 -0.6 0.6 -0.7 0.2 -0.8 -0.1 -0.9 -0.7 -0.9 -1.3 -1.1 -0.6 -1.5 -0.2 -1 0.2 -0.2 0.6 0.4 0.7 1.7 1.9 3 2.6 0 2 0.5 0.7 0.8 0.1 2.2 -1.1 1.4 -0.2 4.4 0.6 3.7 0.9 2.9 -0.9 0.7 0.2 0.8 0.5 1.4 1.7 1.1 0.8M414.2 123.6l1.2 0.5 0.7 -0.2 3.5 -1.6 1.6 -0.2 1.5 0.2 2.2 0.9 0.7 0 0.7 -0.4 1.5 -1.3 0.7 -0.3 0.8 0.1 0.7 0.3 1.5 1 0.7 -0.1 1.5 -3.6 0.7 -0.7 0.7 -0.2 2.2 0.4 1.5 0.4 1.3 0.9 0.9 0.9 0.7 0.4 4.4 -1.6 1.5 -0.9 2.2 -2.7 2.1 -1.4 0.5 -0.6 0.3 -0.6 -0.2 -2.6 0.2 -0.7 1.1 -1.9 0.1 -0.7 -0.2 -1.9 0.1 -0.7 0.3 -0.4 0.8 -0.2 2.2 0.6 0.7 -2.2 0.7 -0.9 0.8 -0.2 2.9 0.2 0.7 -0.1 0.8 -0.5 0.6 -0.9 0.2 -1.3 -0.5 -2.6 -0.3 -0.8 -1.8 -1.8 -0.3 -1.3 0.3 -1.3 2.8 -3.3 0.3 -0.6 -0.7 -3.3 0.1 -0.6 0.7 -0.5 5.9 -1.2 1.4 -1.6 0.8 -0.4 0.7 0 1.3 0.4 0.4 0.7 0 1.3 0.5 0.3 2.2 0.7 1.5 0 0.7 -0.2 1.1 -0.8 3.7 -4.6 2.1 -1.9 1.1 -1.8 0.8 -0.3 3.6 -0.5 0.8 0.1 2.2 0.8 0.7 -0.1 2.4 -2.2 3.2 -1.9 0.5 -0.7 -0.1 -0.6 -2.2 -2 -0.3 -0.6 0.2 -0.7 0.6 -0.6 1.5 -0.7 1.5 -0.1 1.5 0.4 2.2 1.6 1.4 0.7 4.4 3.9 2.2 0.5 2.9 1.7 0.8 0.1 1.6 -0.3 1.2 -0.7 0.2 -0.6 -1.2 -3.9 -0.1 -0.7 0.2 -0.6 1 -0.7 4.4 -0.7 0.7 -0.4 3.3 -2.8 -0.3 -0.3 -0.8 0.2 -3.6 2.1 -3 0.1 -2.9 0.6 -0.3 -0.1 -0.4 -0.6 0.6 -1.3 -0.1 -0.7 -0.5 -0.7 -1.5 -0.8 -1.5 -0.1 -0.8 0.3 -0.7 0.6 -0.3 1.4 -0.1 1.9 -0.2 0.7 -0.8 0.1 -2.9 -0.5 -1.5 -0.7 -0.6 -0.9 0 -2.6 -0.8 -0.7 -0.8 0 -0.7 0.3 -2.5 1.7 -4.8 1.5 -0.7 0.1 -2.2 -1.1 -1.5 -0.1 -3.7 1 -3.6 -0.3 -3 0.1 -1.4 0.3 -1.5 0.6 -0.7 -0.1 -0.7 -0.7 -1.1 -2.6 -0.4 -0.6 -0.7 -0.3 -0.8 0.1 -0.7 0.3 -1.1 1.1 -0.6 1.4 -0.5 2 -0.7 0.8 -1.6 1.1 -1.4 0.6 -2.2 -0.2 -2.9 0.7 -3.6 -0.6 -2.2 -0.1 -1.5 0.2 -2.9 3.3 -0.3 1.3 -0.5 0.7 -1.1 -0.1 -1.9 -1.3 -1.3 0.1 -1.5 0.6 -0.7 0.6 -0.2 0.7 -0.1 1.9 -0.5 0.9 -0.7 0.5 -0.7 0.1 -3 -1.4 -1.4 -0.4 -0.8 0.2 -1.4 1.9 -0.8 0.3 -0.7 -0.1 -2.9 -1.7 -0.7 -0.2 -0.8 0.1 -0.5 0.5 -0.2 0.7 0.1 1.3 0.6 0.8 1.9 1.8 0.3 0.6 -0.1 0.7 -0.8 1.9 -0.3 0.7 -1.2 1.3 -2 1.3 -4.6 2.6 -1.2 1.3 -0.8 1.3 -0.3 1.3 0.1 0.7 1 1.8 0 0.8 -0.8 0.7 -2.2 0.2 -1.1 1 -0.8 1.3 0 0.7 1 1.9 0 0.7 -0.4 0.6 -3.8 2.2 -2.2 0.4 -0.7 -0.6 0.4 -2 -0.2 -1.3 -0.9 -0.5 -1.5 0.1 -1.5 0.5 -0.7 0.6 -1.3 2 -1.5 1.3 -0.9 1.2 -1.4 -0.6 -0.8 0.2 -0.7 0.7 -0.6 1.1 -0.3 1.3 0.3 1.3 1.9 3.9 0.8 1.3 2.2 1.9 0.9 2 0.7 0.5 2.2 0.8 1.3 1.3 1.9 1.3M440.9 123l0.1 0.4 0 -0.4 -0.1 0M449 78.9l-0.6 -0.3 0.1 -0.6 1.3 -1.3 1.4 -0.7 0.7 0 0.9 0.7 0.1 0.6 -0.2 0.7 -0.8 0.7 -1.4 0.4 -1.5 -0.2M476.8 76.7l-1.1 -1.3 0 -0.7 0.7 -0.7 1.9 -1 1.5 -0.5 1.4 0 0.7 0.2 0.2 0.7 0 1.3 -0.2 0.7 -0.7 0.8 -0.7 0.5 -1.5 0.5 -1.4 -0.1 -0.8 -0.4" stroke="#22a884"/>
<path d="M423.9 121l1 0 1.9 -1.3 1 -0.3 1.5 -0.3 2.2 -0.1 1.1 -1.9 0.7 -0.7 1.1 -0.5 0.7 0 2.2 1.2 2.2 0.4 2.2 0.9 0.7 0.2 2.2 -0.5 1.5 -0.8 0.6 -0.9 0.1 -1.3 -0.3 -0.6 -1.3 -1.3 0 -0.7 0.9 -0.6 0.7 0.3 0.8 0.7 0.7 0.3 1.5 -0.2 0.7 -0.5 0.3 -0.6 0.3 -2 1 -1.9 0.2 -0.7 -0.2 -3.2 0.6 -1.3 0.7 -0.6 1.5 -0.5 1.1 -1.6 1.1 -0.5 0.7 0 3.7 1 0.7 -0.2 0.5 -0.3 0.5 -0.6 0.1 -1.3 -0.3 -1.3 -0.8 -1.2 -1.1 -0.8 -0.3 -0.6 -0.4 -2.6 0.1 -0.7 0.4 -0.6 1.9 -2 0.7 -1.3 0 -1.3 -0.6 -2 -0.1 -0.6 0.2 -0.7 0.7 -0.6 0.7 -0.2 4.4 -0.5 1.4 -0.6 2.9 -3.3 -0.3 -1.3 0.1 -0.6 0.5 -0.7 0.8 -0.7 4.8 -2.2 3.7 -0.8 2.2 -1.1 0.7 -0.1 0.7 0.3 1.5 1.4 0.7 0.2 1.5 0.1 3.7 -0.4 2.2 0.5 4.3 -2 1.4 -1.1 0 -0.6 -1.9 -2 -0.2 -0.6 0.2 -0.7 0.5 -0.6 1 -0.7 1.2 -0.4 1.5 -0.2 1.5 0.2 2.2 1.4 2.9 1.2 0.5 0.4 1.5 2 0.9 0.5 0.8 0.2 2.1 -0.7 0.8 0.2 1.4 1.5 0.8 0.3 0.7 -0.8 0.1 -0.6 0 -1.3 -0.5 -1.3 0.2 -0.6 0.6 -0.7 -0.4 -0.1 -2.9 0.2 -1.5 1.4 -0.7 0.4 -0.7 0.1 -0.8 -0.4 -0.7 -0.9 -0.7 -0.5 -2.2 -0.8 -1.2 -0.7 -0.9 -1.3 -0.4 -2 -0.5 -0.3 -2.9 1.4 -5.1 1.9 -0.7 0.1 -0.8 -0.2 -1.4 -1 -1.5 -0.3 -1.5 0.3 -2.2 0.9 -0.7 0 -2.9 -0.5 -3 0.2 -1.2 0.8 -0.9 2.4 -0.8 0.3 -0.7 -0.8 -0.6 -1.2 -1.5 -2 -0.7 -2 -0.9 -0.2 -0.9 0.9 -0.5 2 -0.8 1.4 -1.1 1.2 -1.8 1 -1.5 0.5 -2.9 0.3 -0.7 0.3 -1.5 1.3 -0.7 -0.2 -1.5 -1.2 -1.4 -0.2 -0.8 0.2 -3.6 1.9 -0.5 0.6 -0.1 0.7 0.9 1.9 0 0.7 -0.3 0.2 -0.8 0.2 -2.2 -0.2 -1.3 0.4 1.1 2 0.3 1.3 -0.7 1.3 -1.6 1.1 -3.6 1.2 -3.7 0 -2.2 1.1 -1.4 0 -0.7 -0.1 -0.6 -0.7 0.3 -1.9 -0.2 -0.7 -0.3 -0.3 -0.7 -0.2 -0.8 0.1 -0.6 0.4 -0.2 0.7 0 3.2 -0.3 0.7 -0.3 0.3 -2.9 1.2 -3.8 2.4 -0.6 0.6 -0.1 0.7 0.3 0.6 2 1.9 0.2 0.8 -0.2 0.6 -0.8 0.7 -1.4 0.1 -1.5 -0.2 -0.8 0.1 -0.4 3.2 0.3 2 -0.1 0.6 -0.5 0.5 -0.7 0.2 -2.3 0 -0.5 0.6 0.1 2 -0.3 0.6 -0.5 0.7 -2.4 1.4 -1.4 1.5 -0.7 0.4 -3 0.3 -1.9 1 -0.1 0.6 0.8 2 0.3 2.6 0.6 1.9 0 0.7 -0.7 1.9 0.3 0.6 0.7 0.3 2.7 0.5 0.7 0.6 0.4 0.7 0.6 0.4 3.7 -0.1 1.2 0.3M406.4 115.1l0.9 0.5 1.5 0.1 0.8 -0.6 0.3 -0.6 0.1 -0.7 -0.2 -0.6 -1.8 -2 -0.7 -1.3 -0.7 -0.4 -0.8 -0.2 -0.7 0.1 -0.5 0.5 -0.1 0.7 1.3 3.9 0.6 0.6M441 108.1l-0.3 -0.8 0.3 -0.9 0.7 -0.4 0.7 0.1 0.6 0.6 0.3 0.6 -0.1 0.6 -0.8 0.6 -0.7 0.1 -0.7 -0.5M430.7 100.3l-0.4 -0.2 -0.3 -0.6 0.7 -0.6 1.1 -0.1 0.2 0.7 -0.5 0.6 -0.8 0.2M435.8 89.8l-0.2 -0.8 0.2 -0.5 0.8 -0.6 0.3 0.5 0 0.6 -0.3 0.7 -0.8 0.1M478.9 81.9l0.9 0 0.7 -0.2 0.7 -0.6 2.3 -2.5 0.7 -1.9 0.5 -0.7 1 -0.6 0.5 -0.7 0 -0.7 -0.6 -0.5 -0.7 -0.1 -0.8 0.2 -0.3 0.4 -0.6 2 -0.9 0.7 -1.8 0.9 -2.9 1 -0.3 0.7 0.1 1.3 0.4 0.6 1.1 0.7M450.2 73.4l0.3 0.3 0.5 -0.3 -0.5 -0.4 -0.3 0.4M515.8 63l0.5 0.4 0.8 0.1 0.7 -0.7 0.3 -0.5 -0.3 -0.3 -0.7 0.4 -0.9 -0.7 0.1 -0.8 0.8 -0.3 0.7 -0.1 0.1 -0.2 -1.6 -0.1 -0.7 0.5 -0.3 1 0.1 0.6 0.4 0.7" stroke="#44bf70"/>
<path d="M420.2 117.1l1.7 0.4 4.4 0.1 1.5 -0.3 4.4 -1.7 2.2 -1.3 1.1 -1.1 1.1 -3.1 1 -0.8 0.4 -0.6 0.6 -2 1.6 -1.8 1.5 -0.7 2.2 -0.5 1.3 -1 2.4 -1.2 0.7 -0.3 2.2 0.3 3.6 -3.1 0.5 -0.2 0.3 -0.4 0.7 -0.3 -1.5 -0.2 -0.7 -0.4 -0.6 -0.7 -0.2 -0.6 0.1 -0.7 0.7 -1.2 0.7 -0.5 0.8 -0.2 1.4 0.2 1.5 0.7 0.7 0 0.3 -0.3 0.2 -0.6 -0.2 -2 0.3 -0.6 0.6 -0.7 1.8 -1.3 0.9 -1.3 -0.1 -1.3 -0.8 -2 0 -0.6 0.7 -1.3 0.7 -0.7 0.8 -0.3 4.3 -0.1 1.5 -0.5 0.7 -0.8 0.6 -0.9 0.4 -2.6 0.3 -0.6 1.7 -1.7 5.8 -2.8 3 -0.6 1.4 -0.6 2.5 -1.5 1.2 -1.8 0.7 -0.4 0.4 0.2 0.5 0.7 -0.1 0.6 -0.9 1.3 0.1 0.7 0.7 0.8 0.8 0.2 2.9 -0.2 0.7 -0.2 2.2 -1.1 2.2 0.8 0.8 0 1.4 -0.3 1 -0.7 0.1 -0.6 -1.2 -1.3 -0.4 -0.7 -0.1 -0.6 0.2 -0.7 1.3 -1.3 -0.2 -0.2 -2.1 0.7 -0.8 -0.2 -1.4 -1.1 -1.5 -0.5 -1.5 0.4 -2.2 1.1 -0.7 0 -2.9 -0.8 -2.2 0.2 -0.9 0.4 -0.4 0.7 -0.2 1.3 -0.7 1.2 -0.7 0.7 -0.8 0.2 -0.7 -0.1 -0.6 -0.7 -0.7 -2 -0.9 -1.1 -0.7 -0.5 -0.8 -0.1 -0.7 0.6 -1.5 1.8 -1.4 1.2 -2.2 1 -3 0.3 -0.7 0.4 -0.3 0.3 -0.5 1.3 -0.6 0.6 -1.5 0 -0.7 -0.5 -0.8 -0.9 -0.7 -0.4 -0.7 0.3 -2.5 1.6 0.3 0.8 2.2 1.4 0.7 0.9 0.3 0.8 -0.2 1.3 -2.3 2.9 -0.7 0.3 -0.8 -0.2 -0.3 -0.4 -0.1 -0.6 0.3 -1.3 -0.1 -0.7 -0.5 -0.4 -1.6 -0.2 -0.6 0.1 -0.2 0.5 -0.1 1.3 -0.7 1.3 -1.2 1.1 -2.5 1.5 -0.7 0.7 -0.4 0.8 -0.8 0.3 -2.2 -0.9 -1.4 -0.2 -3 1 -2.2 0.3 -0.7 0.2 -0.7 0.8 -0.4 0.9 0.2 3.3 -0.3 1.3 -0.6 1.3 -0.4 0.4 -0.7 0.3 -2.9 0 -1.1 1.3 -0.8 0.6 -3.3 1.2 -0.4 0.8 -0.1 0.6 0.2 0.7 0.3 0.3 0.8 0.4 2.9 -0.3 2.2 -0.6 0.5 0.2 0.1 0.6 -0.3 0.7 -1.3 1.9 -1.9 1.7 -1.5 0.6 -2.9 -0.2 -1.5 0.3 -1.5 1.6 -0.7 0.4 -2.2 0.7 -0.7 0.7 -0.8 2.1 -0.7 0.8 -0.7 0.2 -2.2 -0.6 -0.8 0.2 -0.2 0.7 0.7 1.3 0 1.9 0.3 1 1.5 2.3 0.9 0.6 1.7 0.7M443.4 115.8l0.5 0.2 0.2 -0.2 -0.2 -0.3 -0.5 0.3M448.8 108l1 0 0.7 -0.4 0.4 -0.9 -0.1 -1.3 -0.3 -1.3 -0.7 -0.6 -1.9 1.2 -0.7 0.7 -0.3 0.6 0.2 0.7 0.5 0.6 1.2 0.7M460.3 98.8l0.4 0.4 0.8 0.1 0.5 -0.5 0.2 -0.6 -0.7 -0.9 -0.8 0.1 -0.5 0.8 0.1 0.6M432 89.7l0.9 0.4 0.8 -0.5 1.3 -2.5 0.2 -0.7 -0.1 -0.6 -0.7 -0.3 -0.7 0.1 -2.7 1.5 -0.5 0.6 0.1 0.7 0.5 0.6 0.9 0.7M478.9 80.6l0.9 0.3 0.7 -0.3 1.1 -1.3 0.4 -0.7 0 -0.2 -1.5 0.2 -1.5 0.7 -0.3 0.6 0.2 0.7M494.4 67.2l-0.7 -0.4 -0.5 -0.6 -0.1 -0.6 0.6 -0.9 0.7 -0.3 0.7 0.3 0.4 0.9 0 0.6 -0.4 0.8 -0.7 0.2M508.2 64.3M507.3 63.6l0.3 0.2 0.2 -0.2 -0.2 -0.3 -0.3 0.3M500.6 63l0.4 0.2 1 -0.2 -0.3 -0.2 -0.7 0 -0.4 0.2M506.5 63l0.3 0.2 0.3 -0.2 -0.3 -1 -0.7 -0.6 -3.8 0.9 0.9 0.3 2.2 -0.1 0.7 0.1 0.4 0.4" stroke="#7ad151"/>
<path d="M421.9 115.8l0.8 -0.1 2.2 -1.1 0.7 -0.2 0.7 0.1 1.5 0.8 2.2 0.2 2.2 -0.7 1.5 -0.9 1 -1.4 0.2 -0.6 -0.2 -2 0.3 -1.3 0.8 -1.4 0.8 -0.7 3 -2.4 1.4 -1.9 0.7 -0.5 3.7 -0.6 1.6 -1 3.1 -3.9 2.6 -4.6 2.2 0.1 1.4 -0.2 0.8 -0.5 1.4 -1.9 1.9 -1.4 0.4 -0.6 -0.1 -0.5 -1.1 -1.5 0 -0.6 1.1 -2 1.5 -1.5 0.7 -0.6 1.5 -0.4 2.9 0.2 1.6 -0.3 0.7 -0.6 0.3 -0.7 0.3 -2.6 0.4 -0.6 1.2 -1.4 1.4 -1 5.1 -2.7 1.5 -0.4 2.2 -0.3 0.7 -0.3 2.1 -1.8 1.2 -1.9 0.7 -0.7 0.4 -0.1 1 0.1 2.6 1.3 0.8 -0.3 0.6 -1 0.8 -0.8 2.1 -1.1 -1.4 0 -2.9 1.6 -0.7 -0.1 -2.9 -1 -1.7 0.1 -0.8 0.7 -0.6 1.9 -0.6 0.9 -1.2 1.1 -1 0.4 -0.7 0 -1 -0.4 -0.4 -0.7 -0.3 -1.3 -0.5 -1.2 -0.7 -0.5 -0.8 0 -0.7 0.5 -1.5 2.1 -0.7 0.8 -2.9 1.9 -0.4 -0.3 -1.1 -0.4 -0.7 -0.1 -0.8 0.4 0 0.7 0.8 0.5 1.4 0 -0.1 0.8 -0.6 0.9 -0.7 0.3 -1.5 -0.8 -0.7 -0.1 -1.5 0 -0.8 0.4 -0.7 0.6 -0.2 0.7 0 2 -0.4 1.3 -2.3 2.6 -0.7 0.5 -1.5 0.4 -0.8 -0.3 -1.4 -0.8 -0.7 0.2 -2.7 1.9 -0.5 0.7 0.1 0.6 1.9 1.3 0.1 0.7 -0.4 0.7 -5.1 -0.6 -2.2 -1.4 -1.4 -0.4 -3 0.9 -2.2 0.5 -0.7 0.9 0 0.7 0.7 2.4 0.8 0.2 1.4 -0.5 0.8 0.1 0.6 0.4 0.2 0.6 -0.8 0.9 -0.8 0.2 -0.7 -0.1 -0.7 -0.5 -0.8 0 -1 2.8 -0.7 0.7 -1.5 0.6 -0.4 0.4 -0.2 0.3 0.2 1.9 -0.2 1.3 -0.7 1.3 -3.3 3.9 -0.7 2 -1 0.2 -2.2 -0.6 -1.4 0.2 -1.5 0.9 -2.9 1.3 -0.4 0.6 -0.1 0.7 0.5 3.9 -0.8 1.3 -1.3 1.3 0 0.6 0.6 0.5 0.7 0.2M430.5 96.2l1 0 0.7 -0.3 0.4 -0.3 -0.1 -0.7 -1 0.1 -1.3 0.6 0.3 0.6M432 87.7l0.2 0.5 0.7 0 0.4 -0.5 -0.1 -0.6 -0.4 0 -0.8 0.6M491 68.2l0.5 0.4 0.7 -0.1 0.2 -0.3 -0.2 -0.6 -0.7 -0.6 -0.5 0.5 0 0.7M497.3 68.2l0.8 0.3 0.6 -0.3 -0.6 -1.5 -0.7 -0.5 0.2 -0.6 -0.3 -0.6 -0.3 2.5 0.3 0.7M496.4 64.3l0.2 0.5 0.1 -0.5 -0.3 0M495.4 63.6l0.5 0.3 0.1 -0.3 -0.1 -0.1 -0.5 0.1" stroke="#bddf26"/>
<path d="M429.5 114.5l1.2 0.1 0.8 -0.2 1.1 -0.6 0.8 -0.6 0.4 -0.7 0.2 -0.6 -0.4 -2 0.3 -1.3 1.9 -2.7 2.9 -2.5 0.8 -2.6 0.7 -0.6 0.8 -0.1 2.2 0.3 1.4 -0.1 0.8 -0.3 0.7 -0.5 4.1 -5.9 0.7 -1.9 0.3 -3 0.7 -0.2 2.1 1.9 0.9 0.3 0.7 -0.1 0.7 -0.3 2 -2.6 0.1 -0.6 -0.1 -2.6 0.6 -1.3 3.3 -2.9 1.5 -0.9 1.4 -0.4 2.2 0.5 1.2 -0.2 0.5 -0.7 0.3 -2.6 0.3 -0.6 2.1 -2 4.8 -3.3 -0.4 -0.4 -0.7 0.1 -3 1.2 -1.3 1.1 -1.6 1.9 -0.7 0.2 -2.2 -1.6 -0.7 -0.2 -0.8 0.1 -0.4 0.2 -0.5 0.7 -0.1 0.6 -0.4 2.7 -0.8 1.1 -2.1 2.1 -0.8 0.5 -1.5 0.6 -1.7 0.2 -0.8 0.7 -0.1 3.9 -0.3 1 -0.4 0.3 -0.3 0.1 -2.2 -1.2 -0.8 -0.2 -2.9 -0.3 -0.7 -0.2 -2.2 -1.5 -0.7 -0.1 -0.8 0.1 -3.6 1.3 0 0.8 2.9 1.2 1.8 1.3 0.1 0.6 -2.5 2.7 -0.1 0.6 1.4 0.4 1.5 0 0.7 0.3 0 0.6 -0.7 1.1 -0.9 0.9 -1.3 0.9 -0.7 0.1 -0.9 -0.4 -1.3 -1.7 -0.8 -0.2 -1.4 0.3 -0.8 0.5 -0.9 3.1 -3.2 4.5 -0.9 2.7 -0.6 0.6 -0.9 0.5 -0.8 0.2 -0.7 -0.1 -1.5 -0.7 -0.7 0 -2.2 0.6 -1.4 0.8 -0.4 0.7 0 0.6 0.3 1.2 0.8 1.4 0.7 0.5 0.7 0.1 2.2 -0.9 0.9 0.3 0.2 0.7 -0.8 1.3 0 0.6 0.7 0.7M476.6 69.5l0.5 0 -0.5 0" stroke="#fde725"/>
</g>
<rect x="363.4" y="18.6" width="174.9" height="155.9" fill="none" stroke="#222" stroke-width="0.7"/>
<line x1="360.4" y1="173.7" x2="363.4" y2="173.7" stroke="#222" stroke-width="0.7"/>
<text x="358" y="176.1" font-size="6.75" text-anchor="end" fill="#262626">-3000</text>
<line x1="368.2" y1="174.5" x2="368.2" y2="177.5" stroke="#222" stroke-width="0.7"/>
<text x="368.2" y="185.9" font-size="6.75" text-anchor="middle" fill="#262626">-3000</text>
<line x1="360.4" y1="147.9" x2="363.4" y2="147.9" stroke="#222" stroke-width="0.7"/>
<text x="358" y="150.3" font-size="6.75" text-anchor="end" fill="#262626">-2000</text>
<line x1="395.7" y1="174.5" x2="395.7" y2="177.5" stroke="#222" stroke-width="0.7"/>
<text x="395.7" y="185.9" font-size="6.75" text-anchor="middle" fill="#262626">-2000</text>
<line x1="360.4" y1="122.2" x2="363.4" y2="122.2" stroke="#222" stroke-width="0.7"/>
<text x="358" y="124.6" font-size="6.75" text-anchor="end" fill="#262626">-1000</text>
<line x1="423.2" y1="174.5" x2="423.2" y2="177.5" stroke="#222" stroke-width="0.7"/>
<text x="423.2" y="185.9" font-size="6.75" text-anchor="middle" fill="#262626">-1000</text>
<line x1="360.4" y1="96.4" x2="363.4" y2="96.4" stroke="#222" stroke-width="0.7"/>
<text x="358" y="98.8" font-size="6.75" text-anchor="end" fill="#262626">0</text>
<line x1="450.7" y1="174.5" x2="450.7" y2="177.5" stroke="#222" stroke-width="0.7"/>
<text x="450.7" y="185.9" font-size="6.75" text-anchor="middle" fill="#262626">0</text>
<line x1="360.4" y1="70.7" x2="363.4" y2="70.7" stroke="#222" stroke-width="0.7"/>
<text x="358" y="73.1" font-size="6.75" text-anchor="end" fill="#262626">1000</text>
<line x1="478.2" y1="174.5" x2="478.2" y2="177.5" stroke="#222" stroke-width="0.7"/>
<text x="478.2" y="185.9" font-size="6.75" text-anchor="middle" fill="#262626">1000</text>
<line x1="360.4" y1="44.9" x2="363.4" y2="44.9" stroke="#222" stroke-width="0.7"/>
<text x="358" y="47.3" font-size="6.75" text-anchor="end" fill="#262626">2000</text>
<line x1="505.7" y1="174.5" x2="505.7" y2="177.5" stroke="#222" stroke-width="0.7"/>
<text x="505.7" y="185.9" font-size="6.75" text-anchor="middle" fill="#262626">2000</text>
<line x1="360.4" y1="19.2" x2="363.4" y2="19.2" stroke="#222" stroke-width="0.7"/>
<text x="358" y="21.6" font-size="6.75" text-anchor="end" fill="#262626">3000</text>
<line x1="533.2" y1="174.5" x2="533.2" y2="177.5" stroke="#222" stroke-width="0.7"/>
<text x="533.2" y="185.9" font-size="6.75" text-anchor="middle" fill="#262626">3000</text>
<line x1="361.9" y1="173.7" x2="363.4" y2="173.7" stroke="#222" stroke-width="0.5"/>
<line x1="368.2" y1="174.5" x2="368.2" y2="176" stroke="#222" stroke-width="0.5"/>
<line x1="361.9" y1="168.5" x2="363.4" y2="168.5" stroke="#222" stroke-width="0.5"/>
<line x1="373.7" y1="174.5" x2="373.7" y2="176" stroke="#222" stroke-width="0.5"/>
<line x1="361.9" y1="163.4" x2="363.4" y2="163.4" stroke="#222" stroke-width="0.5"/>
<line x1="379.2" y1="174.5" x2="379.2" y2="176" stroke="#222" stroke-width="0.5"/>
<line x1="361.9" y1="158.2" x2="363.4" y2="158.2" stroke="#222" stroke-width="0.5"/>
<line x1="384.7" y1="174.5" x2="384.7" y2="176" stroke="#222" stroke-width="0.5"/>
<line x1="361.9" y1="153.1" x2="363.4" y2="153.1" stroke="#222" stroke-width="0.5"/>
<line x1="390.2" y1="174.5" x2="390.2" y2="176" stroke="#222" stroke-width="0.5"/>
<line x1="361.9" y1="147.9" x2="363.4" y2="147.9" stroke="#222" stroke-width="0.5"/>
<line x1="395.7" y1="174.5" x2="395.7" y2="176" stroke="#222" stroke-width="0.5"/>
<line x1="361.9" y1="142.8" x2="363.4" y2="142.8" stroke="#222" stroke-width="0.5"/>
<line x1="401.2" y1="174.5" x2="401.2" y2="176" stroke="#222" stroke-width="0.5"/>
<line x1="361.9" y1="137.6" x2="363.4" y2="137.6" stroke="#222" stroke-width="0.5"/>
<line x1="406.7" y1="174.5" x2="406.7" y2="176" stroke="#222" stroke-width="0.5"/>
<line x1="361.9" y1="132.4" x2="363.4" y2="132.4" stroke="#222" stroke-width="0.5"/>
<line x1="412.2" y1="174.5" x2="412.2" y2="176" stroke="#222" stroke-width="0.5"/>
<line x1="361.9" y1="127.3" x2="363.4" y2="127.3" stroke="#222" stroke-width="0.5"/>
<line x1="417.7" y1="174.5" x2="417.7" y2="176" stroke="#222" stroke-width="0.5"/>
<line x1="361.9" y1="122.2" x2="363.4" y2="122.2" stroke="#222" stroke-width="0.5"/>
<line x1="423.2" y1="174.5" x2="423.2" y2="176" stroke="#222" stroke-width="0.5"/>
<line x1="361.9" y1="117" x2="363.4" y2="117" stroke="#222" stroke-width="0.5"/>
<line x1="428.7" y1="174.5" x2="428.7" y2="176" stroke="#222" stroke-width="0.5"/>
<line x1="361.9" y1="111.9" x2="363.4" y2="111.9" stroke="#222" stroke-width="0.5"/>
<line x1="434.2" y1="174.5" x2="434.2" y2="176" stroke="#222" stroke-width="0.5"/>
<line x1="361.9" y1="106.7" x2="363.4" y2="106.7" stroke="#222" stroke-width="0.5"/>
<line x1="439.7" y1="174.5" x2="439.7" y2="176" stroke="#222" stroke-width="0.5"/>
<line x1="361.9" y1="101.6" x2="363.4" y2="101.6" stroke="#222" stroke-width="0.5"/>
<line x1="445.2" y1="174.5" x2="445.2" y2="176" stroke="#222" stroke-width="0.5"/>
<line x1="361.9" y1="96.4" x2="363.4" y2="96.4" stroke="#222" stroke-width="0.5"/>
<line x1="450.7" y1="174.5" x2="450.7" y2="176" stroke="#222" stroke-width="0.5"/>
<line x1="361.9" y1="91.2" x2="363.4" y2="91.2" stroke="#222" stroke-width="0.5"/>
<line x1="456.2" y1="174.5" x2="456.2" y2="176" stroke="#222" stroke-width="0.5"/>
<line x1="361.9" y1="86.1" x2="363.4" y2="86.1" stroke="#222" stroke-width="0.5"/>
<line x1="461.7" y1="174.5" x2="461.7" y2="176" stroke="#222" stroke-width="0.5"/>
<line x1="361.9" y1="81" x2="363.4" y2="81" stroke="#222" stroke-width="0.5"/>
<line x1="467.2" y1="174.5" x2="467.2" y2="176" stroke="#222" stroke-width="0.5"/>
<line x1="361.9" y1="75.8" x2="363.4" y2="75.8" stroke="#222" stroke-width="0.5"/>
<line x1="472.7" y1="174.5" x2="472.7" y2="176" stroke="#222" stroke-width="0.5"/>
<line x1="361.9" y1="70.7" x2="363.4" y2="70.7" stroke="#222" stroke-width="0.5"/>
<line x1="478.2" y1="174.5" x2="478.2" y2="176" stroke="#222" stroke-width="0.5"/>
<line x1="361.9" y1="65.5" x2="363.4" y2="65.5" stroke="#222" stroke-width="0.5"/>
<line x1="483.7" y1="174.5" x2="483.7" y2="176" stroke="#222" stroke-width="0.5"/>
<line x1="361.9" y1="60.4" x2="363.4" y2="60.4" stroke="#222" stroke-width="0.5"/>
<line x1="489.2" y1="174.5" x2="489.2" y2="176" stroke="#222" stroke-width="0.5"/>
<line x1="361.9" y1="55.2" x2="363.4" y2="55.2" stroke="#222" stroke-width="0.5"/>
<line x1="494.7" y1="174.5" x2="494.7" y2="176" stroke="#222" stroke-width="0.5"/>
<line x1="361.9" y1="50.1" x2="363.4" y2="50.1" stroke="#222" stroke-width="0.5"/>
<line x1="500.2" y1="174.5" x2="500.2" y2="176" stroke="#222" stroke-width="0.5"/>
<line x1="361.9" y1="44.9" x2="363.4" y2="44.9" stroke="#222" stroke-width="0.5"/>
<line x1="505.7" y1="174.5" x2="505.7" y2="176" stroke="#222" stroke-width="0.5"/>
<line x1="361.9" y1="39.8" x2="363.4" y2="39.8" stroke="#222" stroke-width="0.5"/>
<line x1="511.2" y1="174.5" x2="511.2" y2="176" stroke="#222" stroke-width="0.5"/>
<line x1="361.9" y1="34.6" x2="363.4" y2="34.6" stroke="#222" stroke-width="0.5"/>
<line x1="516.7" y1="174.5" x2="516.7" y2="176" stroke="#222" stroke-width="0.5"/>
<line x1="361.9" y1="29.5" x2="363.4" y2="29.5" stroke="#222" stroke-width="0.5"/>
<line x1="522.2" y1="174.5" x2="522.2" y2="176" stroke="#222" stroke-width="0.5"/>
<line x1="361.9" y1="24.3" x2="363.4" y2="24.3" stroke="#222" stroke-width="0.5"/>
<line x1="527.7" y1="174.5" x2="527.7" y2="176" stroke="#222" stroke-width="0.5"/>
<line x1="361.9" y1="19.2" x2="363.4" y2="19.2" stroke="#222" stroke-width="0.5"/>
<line x1="533.2" y1="174.5" x2="533.2" y2="176" stroke="#222" stroke-width="0.5"/>
<text x="450.7" y="16.8" font-size="7.48" text-anchor="middle" font-weight="bold" fill="#111">Contour Plot</text>
<text x="450.7" y="195" font-size="7.28" text-anchor="middle" fill="#262626">XAxis</text>
<text x="338" y="96.4" font-size="7.28" text-anchor="middle" fill="#262626" transform="rotate(-90 338 96.4)">YAxis</text>
</svg>
<div class="lab">等高线图</div>
</div>
<div class="card" style="left:603px;top:-9px;width:274px;height:217px">
<svg width="274" height="217" viewBox="603 -9 274 217">
<rect x="646.7" y="21.7" width="212.1" height="149.3" fill="#440154"/>
<g stroke="#0a0a0a" stroke-width="0.72" stroke-linejoin="round" fill-rule="evenodd">
<path d="M655.4 171l99.5 0 0.7 -0.9 1.5 -0.8 4.1 -1.2 0.9 1.4 0.8 0.6 0.9 0.3 1.1 0.6 5.4 0 0 -0.9 -0.8 -2.6 0.3 -1.7 1.1 -1.9 0.9 -0.6 0.9 -0.3 1.8 0.2 1.6 0.8 0.8 0.9 1.2 2.6 0.8 0.8 3.6 0.6 0.9 0.4 1.7 1.7 2.3 0 1.3 -0.3 0.7 0.3 69.4 0 0 -149.3 -212.1 0 0 67 0.7 1.1 0.1 0.9 -0.8 1.3 0 4.2 0.6 0.6 0.5 0.9 0 0.8 -1.1 1.1 0 44.1 4.4 1.8 0.9 0 1.8 -1.1 0.9 -0.3 0.9 0.5 0.2 1.1 -0.1 1.7 0.5 0.9 2 1.7 0 0.9 -0.7 0.9 -2.1 1.7 -0.7 0.9 -1 2.6 -2.2 2.6 -0.5 0.9 -0.3 0.9 0.2 0.9 1.9 2.6 1.5 2.6 0.7 1.8z" fill="#482475"/>
<path d="M675.5 171l56.8 0 0.1 -0.9 0.4 -0.7 0.9 -0.3 0.9 0.1 0.8 0.5 1.1 1.3 8.9 0 0.9 -0.9 1.6 -0.6 1.7 -0.1 2.7 0.4 0.9 -0.2 4.2 -3 1.3 -1.7 0.7 -0.7 0.9 -0.4 1.8 0 4.4 0.9 0.9 0.1 0.9 -0.5 2.2 -2 1.3 -0.5 0.9 -0.1 4.5 0.5 1.7 0.6 1.5 1.2 2.1 2.6 1.8 1.2 1.7 0.9 0.9 0.1 2.7 -0.4 1.8 0.3 0.9 0.6 0.5 0.8 0.1 0.9 6.1 0 1.2 -0.8 1.8 -0.6 1.8 0.3 1.5 1.1 53.5 0 0 -149.3 -183.6 0 0 1.7 0.8 1.2 1.8 0 0.8 -0.1 1.8 -0.9 0.4 0.7 -0.9 0.9 -3.3 1.7 -1 1.8 -0.5 1.8 -0.9 0.6 -0.9 -2.4 -0.9 -0.4 -1.8 0.4 -0.8 0.5 -0.9 2.1 -0.2 0.9 0.2 0.5 0.3 0.4 3.2 0.8 0.5 0.9 0 0.9 -0.4 0.8 -1.5 1.8 -0.5 0.9 0 0.8 0.8 2.7 0 0.8 -0.2 1.8 -0.4 0.8 -0.9 1 -1.8 0.5 -3.6 0.3 -1.1 0.9 -0.1 0.8 0.4 0.9 2.2 1.8 0.5 0.8 -0.2 0.9 -1.7 3.9 -2.1 2.2 -0.3 0.9 0 0.9 1.6 5.2 0.8 1 1.8 1 0.9 0.9 1 1.5 -0.1 0.5 -0.1 0.3 -2.6 0.7 -0.9 0.5 -1.1 1.5 -1.5 2.8 -1.8 2.1 -0.3 1.2 0 2.6 -0.3 0.9 -4.2 6.1 -0.7 2.6 -2.1 6.1 -2 4.4 -0.2 1.7 0.5 2.6 -0.2 0.9 -0.4 0.9 -0.7 0.6 -0.9 0.3 -1.8 0.2 0 5 1.1 0.9 0.3 0.8 -0.1 0.9 -0.4 0.9 -0.9 0.8 0 4 2.7 1.4 0.8 0.9 1.8 2.5 0.9 0.8 0.9 0.4 0.9 0.1 1.8 -0.2 2.6 -0.8 2.7 -1.2 1.8 -0.4 0.8 0.1 0.3 0.3 0.4 0.9 0.2 1.7 -0.3 1.8 -0.8 1.7 0 0.9 0.8 0.9 1.2 0.9 0.9 1.1 1.8 4.8 1.1 3.7 0.1 0.8 -0.3 1.4 -0.9 0.8 -1.1 0.4 -0.7 0.9 0.3 1.8 0.2 2.6 0.4 0.6 0.9 0.6 0.9 0 2.6 -0.2 0.8 0.7 -0.3 0.9 -2.3 2.6 -0.3 0.9 0.1 0.9 0.8 1.7 3 3.1 0.9 2.2zM733.7 145.8l-0.5 -0.1 -0.4 -0.4 -0.2 -0.5 1.1 -1.4 0.9 -0.4 0.8 0.7 0.7 1.1 -0.6 0.9zM762.1 157.9l-0.7 -0.9 0.1 -0.8 0.6 -0.2 3.5 -0.3 0.9 0.1 0.7 0.4 0.5 0.8 -0.3 1 -0.9 0.4zM784.3 147.5l-0.9 -0.2 -1.8 -1.1 -3.6 -1.4 -2.6 -2.4 -0.9 -0.5 -0.9 -0.1 -0.9 0.1 -2.6 1.4 -4.5 0.6 -0.9 0 -1.7 -0.7 -1.8 -1 -0.9 -0.9 -0.9 -2.8 -0.9 -0.7 -3 -0.9 -1.4 -0.9 -1.2 -1.7 -0.5 -2.6 -1 -0.7 -6.2 1 -1 0.6 -1.7 2.1 -0.8 0.7 -0.9 0.2 -0.9 -0.3 -1.8 -1.1 -0.9 -0.2 -0.8 4.7 -1 0.3 -1.6 -2.9 -0.7 -0.9 -2.1 -1.2 -1.8 0 -1.7 0.6 -1.8 1.3 -1.8 2.1 -0.2 -0.2 -0.1 -0.9 0.3 -0.9 2.7 -2.6 3.2 -1.7 2.8 -1.7 3.7 -0.5 2.3 0.5 1.3 0.5 1.8 0 3.5 -0.9 4.2 -1.4 2 0 2.4 0.9 0.9 0.9 0.4 0.8 0.2 2.7 0.3 0.8 1.1 0.9 0.9 0.2 2.7 -0.3 2.7 0.4 1.7 -0.8 1.8 -1.5 0.9 -0.5 0.9 0.4 1.8 1.5 2.5 1.5 1.9 1.7 1.8 1.2 1.3 1.4 1.8 2.7 1.3 0.8 0.9 0.2 0.9 0 0.9 -0.4 0.8 -0.6 0.4 -0.9 0.3 -1.8 1.1 -0.4 0.9 0.1 0.6 0.3 1.2 1.2 0.9 0.7 2.6 0.6 0.2 0.2 0.1 0.8 -0.9 1.8 -0.2 0.2 -0.9 0.2 -2.7 -0.7 -0.9 0.1 -0.9 0.5zM646.7 136.1l0 0.4 0.9 0.1 0.9 -0.3 0.5 -0.2 0.5 -0.9 -0.9 -0.9 -1 -0.4 -0.9 -0.1zM660.9 38.3l1.3 0 0.8 -0.9 -0.3 -0.5 -0.9 -0.5 -1 0.1 -0.3 0.9zM666.1 27.8l1 0.3 0.9 -0.3 -0.6 -0.9 -1.2 -0.4 -0.8 0.4z" fill="#414487"/>
<path d="M684 171l38.3 0 1.6 -2 1.8 -3.9 0.9 -0.8 0.9 -0.4 0.8 -0.1 0.9 0.2 1.8 0.8 0.9 0.2 0.9 -0.2 0.9 -0.5 1.4 -1.2 2.1 -3 0.9 -0.5 0.9 0.3 0.6 0.6 1 1.8 0.3 0.8 -0.1 0.9 -0.4 0.9 -1.4 1.7 -0.5 0.9 0.2 0.9 1.2 2 0.6 0.6 1.5 0 6 -6.1 0.4 -0.9 0.8 -3.5 0.1 -3.5 0.3 -1 0.6 -0.7 0.3 -0.3 3 -1.5 1.6 -1.7 0.8 -0.6 2.6 -0.7 1.8 -0.3 0.9 0.2 0.8 0.5 1.8 1.8 3.6 0.7 1.8 0.7 0.9 1.2 0.5 0.9 0.7 2.6 0.9 0.8 1.4 0.4 1.8 0.1 3.5 -1.1 0.9 0 2.7 1.2 0.9 0.1 1.7 -0.2 1.8 -1.3 0.8 -0.9 2 -3.5 0.8 -0.7 0.9 0.1 0.4 0.6 0.4 1.6 0.2 1.9 -0.2 1.7 -0.8 1.6 -0.9 1 -0.9 0.6 -3.6 0.9 -0.9 0.4 -0.5 0.8 0.2 0.9 1.2 0.9 0.9 0.2 1.9 -0.3 2.6 -1.3 0.8 -0.2 0.9 0.2 2.7 1.5 0.9 0.2 0.9 0 2.6 -1 0.9 -0.1 0.9 0.3 5.3 2.9 1.8 0.5 1.8 0.1 2.6 0.5 2.7 -1.3 0.9 -0.2 0.9 0 0.9 0.6 0.6 0.8 0.2 0.9 39.1 0 0 -149.3 -149.7 0 -1.2 1 -0.9 0.4 -1.7 0.5 -0.9 0.5 -0.4 1.1 -0.1 0.9 1 3.5 0 0.8 -0.8 1.8 0.1 0.9 1.2 1.7 0.3 0.9 0 0.8 -0.3 0.9 -0.8 0.9 -2.9 2.4 -0.9 0.1 -1.7 -1.6 -0.9 -0.2 -0.9 0.7 -0.5 2.1 0 2.6 0.4 1.7 1.2 2.7 0.1 0.8 -0.4 0.9 -1 0.9 -1.6 0.7 -0.9 0 -2.6 -1.2 -0.9 0.4 -2.1 3.6 -1.3 0.9 -1.7 0.8 -0.9 0.9 -1.8 3.5 -1.1 0.9 -3.3 1.7 -0.1 0.9 1.3 2.6 0.1 0.9 -0.2 0.8 -2.6 1.8 -0.9 0.9 -2.7 4.3 -0.5 1.8 -0.2 2.6 -0.7 1.7 -0.9 1 -1.3 0.8 -0.9 0.9 0 0.8 0.2 0.9 1.9 3.5 -0.1 0.9 -1.4 2.6 0 0.9 0.8 1 1.7 0.7 0.6 0.9 -0.9 0.9 -1.4 0.3 -2.7 1 -0.9 0.2 -0.9 -0.2 -2.6 -0.8 -1.8 -0.1 -0.9 0.6 -0.9 1.6 -0.9 1 -0.9 0.3 -2.6 0.1 -1.8 0.9 -1 1.2 -0.5 0.8 -0.1 0.9 0.3 3.5 -0.2 0.9 -1.2 1.7 -0.9 0.8 -1.5 1 -0.2 0.8 0.9 1.2 0.6 1.5 0.1 1.7 -0.3 2.6 0.2 0.9 1 0.9 2.8 1.7 0.5 0.9 0.1 0.9 0.4 0.8 0.8 0.2 0.9 -0.2 0.4 -0.8 -0.1 -0.9 -0.3 -0.5 -1.2 -0.4 -0.7 -0.8 -0.6 -1.8 -0.2 -3.2 -2 -0.3 -0.1 -0.9 1.2 -0.4 0.9 0 0.5 -0.4 1.3 -2.5 0.9 -0.2 0.8 0.5 1.5 1.3 0.4 0.9 1.7 4.9 0.9 0.9 1.8 0.1 1.7 -0.5 1.8 -0.9 0.9 0.2 1.6 3.1 0.7 1.8 0.4 3.5 0.8 2.6 0.2 3.5 0.7 1.7 0.9 0.8 2.7 0.3 1 0.7 0.2 0.8 -0.3 1.1 -0.9 0.9 -1.8 1 -0.5 0.5 -0.2 0.9 1.8 6.1 0.8 0.9 3.4 1.1 0.8 0.6 0.6 0.9 -0.2 0.9 -2.9 2.6 -0.9 1.2 -0.5 1.4 0.1 0.9 2.9 2.6 1.3 3.5 2.3 1.8 0.7 0.8zM748.8 153l-1.4 -1.2 -0.3 -0.9 0.2 -1.7 0.6 -0.9 1.7 -1.3 1.8 -1 0.9 0 0.9 0.7 0.5 0.7 0.3 1.8 -0.2 0.8 -1.2 1.8 -1.2 1.3 -0.9 0.3 -0.9 -0.1zM775.4 154.8l-0.8 -0.4 -0.6 -0.9 -0.1 -0.8 0.6 -0.7 0.9 -0.1 0.9 0.4 0.4 0.4 0.4 0.8 -0.2 0.9 -0.6 0.4zM783.4 156.5l-1 -1.2 -0.4 -0.9 -1 -4.4 -0.3 -0.8 -0.6 -0.9 -1.2 -0.9 -1.7 -0.7 -3.3 -1.9 -1.2 -0.1 -3.5 1.3 -4.5 0.8 -3.5 0.5 -1.8 0.5 -0.9 0.1 -0.9 -0.2 -0.9 -1 -2.1 -3.6 -0.2 -0.9 0.2 -2.6 -0.5 -0.9 -0.8 -0.9 -1 -0.6 -0.9 -0.3 -0.9 0.3 -1 0.6 -0.8 0.9 -1.3 2.6 -0.4 0.5 -1.8 0.2 -2.7 1.3 -0.4 0.6 -0.1 2.7 -0.2 0.8 -1 1 -0.9 0.4 -0.9 0.1 -1.8 -0.4 -2.6 -0.9 -1.8 -0.2 -0.9 -0.3 -0.9 -0.8 -0.3 -0.6 0 -0.9 0.2 -0.9 1.3 -2.6 0.2 -0.9 -0.3 -1.7 -0.5 -1.8 -0.6 -0.9 -0.9 -0.5 -0.9 -0.1 -1.6 0.7 -0.9 0.8 -0.6 0.9 -0.4 1.8 0.2 0.8 0.5 0.9 0 0.9 -0.7 0.2 -0.9 -1.5 -2.7 -0.3 -0.3 -0.2 -0.2 -0.8 0.2 -2.7 0.5 -0.8 2.1 -2.6 1 -1.8 0.3 -1.7 -0.1 -1.8 0.3 -0.9 4.2 -0.9 1.8 0 1.8 1 5.3 1.6 1.8 0.3 3.5 -0.7 4.5 -1.7 1.7 -0.2 3.6 1.3 1.7 1.1 0.6 0.9 0.6 2.6 0.6 0.8 0.9 0 0.9 -0.3 1 -0.5 1.7 -1.5 1.7 -0.2 2.7 -0.7 0.9 -0.1 0.9 0.3 1.9 2.2 0.7 0.6 0.9 0.4 0.9 0.2 0.9 -0.2 2.7 -1.3 0.9 0 1.7 0.7 2.9 0.5 0.7 0.3 0.4 0.5 -0.4 1.5 -0.8 1.1 0.3 0.9 1.4 0.3 2.6 0 0.9 0.2 0.9 0.5 1.8 1.6 0.9 0.5 2.6 0.6 0.9 0.8 0.9 2.3 0.9 1.5 2.7 0.2 0.7 1.1 -0.5 0.9 -0.2 0.2 -0.9 -0.3 -0.9 -0.5 -0.9 -0.2 -2.7 1 -3.5 0.1 -1.7 0.6 -1.1 0.8 -0.7 0.9 -0.3 0.9 0.7 1.7 0.1 0.9 -0.1 0.9 -0.6 0.9 -0.8 0.5 -0.8 0.1zM668 119.4l-0.3 -0.8 0.3 -0.9 0.9 -0.6 0.9 0.4 0.1 0.2 -0.5 0.9 -0.5 0.5zM765.6 125l-0.2 -0.3 0 -0.8 0.2 -0.3 0.9 -0.6 0.9 0.4 0.3 0.5 -0.3 0.9 -0.9 0.5zM778.5 137.8l0.4 0.4 0.9 0.3 1.5 -0.7 -0.3 -0.9 -2.1 -0.6 -0.8 0.6z" fill="#355f8d"/>
<path d="M833.7 170.1l0.3 0.9 24.8 0 0 -149.3 -118.6 0 -0.3 0.6 -0.9 0.9 -0.9 0.8 -0.8 0.3 1.7 2.4 0.6 1.1 0.2 0.9 -0.2 0.9 -0.6 0.7 -0.9 0.6 -0.9 0 -2.6 -0.8 -0.9 0.3 -0.4 0.9 0 3.5 -0.3 0.9 -1.6 2.6 -0.8 0.9 -2.3 0.7 -0.8 0.5 -4.1 5.7 -0.3 0.9 -0.3 1.8 -1 2.6 -0.4 1.7 0.1 0.9 0.9 1.8 0.1 0.8 -0.2 0.9 -1.1 0.4 -2.6 0.1 -3.6 0.9 -0.9 0.7 -0.8 1.4 -0.9 0.9 -3.8 1.7 -1.6 0.3 -6.2 -1.1 -3.5 -0.2 -0.9 -0.6 -2.6 -2.8 -1 -0.6 -0.8 -0.2 -0.9 0.2 -1.2 0.6 -0.6 0.9 0 0.9 0.6 2.6 -0.1 0.9 -0.5 1 -2.4 3.3 -0.1 0.9 0.5 1.8 -0.1 0.8 -0.3 0.9 -0.7 0.9 -1.3 0.7 -2.7 -0.2 -0.5 0.4 -0.1 0.8 0.5 4.4 -0.2 0.9 -0.6 0.8 -2.7 0.9 -1.7 1 -1.7 1.6 -0.4 0.9 -0.1 1.8 0.4 1.8 0.4 0.8 0.9 0.8 1.4 0.7 0.8 0 0.9 -0.5 0.9 -1 0.9 -1.5 0.9 -0.4 0.9 0.9 0.3 1 0.1 1.7 -0.4 1.1 -0.9 1.2 -0.7 0.3 -2 0.4 -1.1 0.5 -0.8 0.9 -0.7 1.9 -0.9 1 -0.9 0.3 -2.7 0.1 -1.7 0.2 -1.6 0.9 -0.8 0.8 -0.2 0.9 0.4 0.9 1.3 1.7 0.3 0.9 0.1 1.7 -0.4 1.7 -0.9 -0.3 -0.9 -0.6 -0.9 -0.8 -0.6 -0.8 -0.4 -0.9 -0.3 -2.6 -0.5 -0.6 -0.9 -0.4 -0.4 0.1 -0.4 0.2 -0.5 0.7 -0.5 3.5 -1.3 3.5 0.3 0.8 2 1.1 1.7 1.9 0.9 0.3 0.9 -0.3 1.8 -1.6 0.9 -0.4 0.9 0.3 3.5 3 0.9 0.2 1.8 -0.7 0.9 -0.1 0.8 0.2 1.8 0.7 0.9 0.7 0.6 0.8 0.3 1.8 -0.4 1.7 -0.9 1.8 -1.4 1.2 -0.9 0 -1.7 -0.6 -3.6 -2 -0.9 -0.2 -0.8 0.7 -0.1 0.9 1.5 2.6 0.6 1.7 0.2 2.7 0.4 1.5 0.9 1.9 0.9 0 0.9 -0.7 1.7 -2.2 2.7 0.5 0.9 0.5 0.6 1.1 -0.1 0.9 -1.6 3.4 0.1 0.9 1 0.6 3.5 0.1 0.9 0.2 0.9 0.7 0.6 1 0.3 3.5 0.5 0.9 1.3 0.7 2.6 -0.3 0.9 0.9 0.5 2.2 -0.5 1.5 -0.9 1.5 -0.8 1.1 -0.9 0.6 -0.9 0.2 -1.8 0 -0.5 0.3 0.2 1.8 -0.1 0.9 -0.7 1.7 0 0.9 1.1 0.6 4.5 1.1 2.4 0.9 0.8 0.9 0.7 2.6 1.4 1.6 0.9 0.5 0.8 0 0.9 -0.3 0.4 -0.9 -0.1 -2.7 0.2 -4.3 0.3 -0.9 1 -0.6 0.9 -0.1 0.9 0.4 1.9 2 4.3 2 0.9 0 0.9 -0.5 0.5 -0.6 1.2 -2.3 0.9 -0.8 2.7 1.6 1.8 0.3 0.9 -0.2 0.8 -0.5 2.7 -2.1 3.6 -1.5 0.8 -0.9 0.9 -1.6 0.9 -0.8 0.9 -0.1 1.8 0.3 0.9 -0.2 0.9 -0.6 0.4 -1.1 -0.3 -0.8 -1 -0.5 -2.7 -0.8 -0.9 -0.8 -0.6 -1.4 -0.2 -1.8 0.3 -0.8 0.5 -0.7 0.6 -1.1 0.2 -0.9 -0.1 -1.7 -0.7 -1.8 -0.9 -0.3 -0.9 0.3 -0.7 0.9 -0.2 0.9 0.8 2.6 0.2 1.8 -0.4 0.8 -1.4 0.7 -0.9 0 -2.7 -1.4 -0.9 0.1 -2.6 1.2 -0.9 0.1 -0.9 -0.2 -2.8 -2.2 -0.8 -0.9 -0.2 -0.9 1.6 -0.8 3.1 -1.3 0.5 -0.5 0.8 -1.7 2.2 -1.5 1 -1.1 0.4 -0.9 0.4 -1.8 -0.6 -2.6 0.1 -0.9 0.6 -0.8 1.7 -0.8 2.6 -0.2 2.3 -0.8 1 -0.8 1.2 -3.8 0.9 -0.3 0.9 0.7 1.9 2.5 0.5 3.5 0.7 0.8 2.2 1 1.8 0 3.5 -0.9 2.1 -0.9 2.3 -1.5 0.9 -0.2 2.5 1.7 2 0.8 1.7 0.4 2.7 -1.5 2.7 -0.2 0.8 -0.4 1.5 -2.6 1.2 -0.9 0.9 -0.2 1.5 0.2 1.1 0.9 0.4 0.9 0 0.8 -1.5 2.6 0.2 0.9 2.6 3.5 1 0.7 0.9 0 1.3 -0.7 0.9 -0.9 1.2 -1.7 0.3 -0.9 0.1 -0.9 -0.4 -0.8 -0.8 -0.9 -0.2 -0.9 0.3 -0.1 0.9 0.4 2.3 2.3 0.5 0.9 0.2 1.8 0.3 0.8 1.1 0.8 0.9 0.2 0.9 -0.2 0.8 -0.8 0.3 -0.8 -0.3 -0.9 0 -0.9 1 -0.3 0.3 0.3 0.1 0.9 -0.2 1.7 0.5 0.9 1 0.7 1.8 0.7 0.3 0.4 -0.4 0.8 -1.4 0.9 -0.5 0.9 4.7 3.5 3.6 0.8 0.8 0.7 1.8 2.3 2.6 1.3 0.7 1 0.5 1.7 0 0.9 -0.3 1.2 -1.3 2.3 -0.3 0.9 0 0.8 0.7 1.8 0.9 0.6 1.2 0.3 1.3 0.8 0.4 0.9 0.9 5.2 0.4 0.9 0.7 0.9 2.2 1 2.7 0.5 2.7 -0.4 2.6 -1.7 0.9 -0.1 2.7 0.4 3.5 1.4 1.8 0.3 2.7 -0.3 1.7 -1.1 0.9 -0.3 0.9 0.1 0.4 0.2 0.6 0.9 -0.3 0.8 -0.7 0.5 -1.8 0.4 -0.7 0.9 0.3 0.9 0.4 0.1 3.6 -0.1 0.9 0.2zM730.1 49.2l-0.7 -0.4 -0.5 -0.9 0.3 -1 0.9 -0.1 1 1.1 -0.1 1zM654.1 106.4l0.6 0.4 0.9 0.2 1.1 -1.5 0.1 -0.9 -0.3 -0.6 -0.9 -0.3 -0.9 0.4 -0.5 0.5 -0.3 0.9zM721 38.3l0.2 0.2 0.9 0.1 4.5 -1.2 0.8 -0.9 0.2 -0.8 -0.2 -0.9 -0.8 -1.3 -0.9 -0.8 -0.9 0.1 -1.8 1.3 -1.6 1.6 -0.6 0.8 -0.2 0.9zM733.9 25.2l0.7 0.4 0.8 -0.3 1.7 -1 -1.1 -0.9 -1.4 -0.6 -0.9 0.9 -0.1 0.6z" fill="#2a788e"/>
<path d="M853.7 163.1l0.7 0.6 0.9 0.3 3.5 -0.5 0 -7.9 -1.3 -1.2 -0.4 -0.9 0 -0.8 0.2 -0.9 0.5 -0.9 1 -0.6 0 -128.6 -89.4 0 -0.1 1.7 -0.3 0.9 -3.4 1.1 -1.3 0.7 -0.6 0.8 -0.9 2.7 -0.7 1.4 -0.9 0.1 -1.8 -0.4 -0.9 0.1 -2.5 0.5 -0.9 0.9 -1.6 5.2 0.2 1.8 0.6 1.7 0.1 0.9 -0.4 0.9 -0.8 0.4 -1.8 0.3 -4.4 -0.7 -0.9 0.4 -0.3 0.4 -0.4 0.9 0 0.9 0.2 1.7 0.6 1.8 1.5 1.7 0.1 0.9 -0.4 0.9 -0.7 0.8 -1.5 0.8 -1.8 0.2 -1.7 -0.3 -2.7 -1.2 -0.9 -0.1 -0.9 0.3 -0.9 0.9 -0.9 2.1 -1.8 2.6 -0.3 4.3 -0.5 0.9 -1.8 1.8 -0.2 3.4 -0.4 1.8 -0.3 0.9 -0.9 1.1 -3.5 2.6 -0.9 0.4 -0.9 0 -2.7 -0.9 -0.8 0 -0.9 0.3 -1.4 0.8 -0.7 0.9 -0.4 1.8 -0.2 0.3 -0.9 0.4 -0.9 -0.2 -1.2 -0.5 -0.1 -0.9 0.4 -2.6 -0.4 -1.8 -0.5 -0.9 -0.8 -0.6 -0.9 -0.1 -4.1 0.7 -2.5 1.8 -5.8 1.7 -2.7 1.6 -0.9 0.4 -1.8 0.1 -3.5 -0.3 -0.6 0.9 -0.7 2.6 -0.5 0.5 -1.8 1.1 -1.7 2.3 -0.6 1.3 0.1 1.8 1.3 3.4 0.4 1.8 -0.4 1.2 -1.4 2.3 -0.3 0.4 -0.9 0.6 -2.7 0.3 -0.9 0.3 -1.2 1.9 -1 0.9 -1.3 0.4 -2.7 0.4 -1.4 0.9 0 0.9 0.5 1.1 2.2 2.4 1.1 1.7 -0.4 0.9 -1.1 1.2 -0.2 0.5 0.2 0.2 1.2 0.7 3.2 0.5 3.6 1 0.9 0.3 0.9 0.9 0.4 1.7 0.4 3.5 -0.3 1.7 -0.9 1.8 -0.2 1.7 0.6 1.5 1.7 2.4 1.1 3.1 0.7 0.8 1.8 1 1.8 2 0.9 0.5 1.7 0 0.9 0.3 1.8 2 0.9 0.6 2.6 0.9 0.9 0 0.3 -0.3 1 -3.5 1.4 -2.4 0.8 -2.8 1 -1.7 1.3 -2.7 1.3 -0.7 0.9 -0.1 0.9 0.5 0.3 0.3 0.4 2.7 1 3.5 -0.3 0.8 -0.5 0.5 -2.7 0.6 -0.9 0.6 0.1 0.9 0.8 0.6 0.9 0.3 2.7 -0.4 2.6 0.4 0.9 -0.3 0.9 -0.6 0.6 -0.8 1.2 -2.9 0.9 -0.6 1.8 0.9 0.8 -0.3 0.5 -0.6 0.2 -0.9 -0.6 -2.6 0.5 -1.8 0.6 -0.8 0.9 -0.9 1.5 -0.8 3.5 -0.5 1.1 -0.4 0.6 -0.9 0.7 -3.5 1.2 -1.2 0.9 -0.4 0.9 -0.1 0.9 0.2 0.7 0.6 1.9 2.1 0.9 0.4 3 1 0 0.9 -1.2 1.6 -0.3 1 0.2 0.9 1 0.4 1.7 0 2.7 -0.5 1.6 -0.8 2.8 -2.6 0.9 -0.1 0.9 0.2 2.7 2.5 1.8 0.4 0.8 -0.3 2.7 -1.6 1.8 -0.3 0.9 -0.4 1.5 -1.3 1.1 -0.6 1.8 -0.6 0.9 -0.1 1.8 0.4 1.7 0.7 0.9 0.1 1.8 -0.2 1.8 0.2 1.8 0.8 2.9 1.9 1.5 0.5 1.8 -0.2 1.7 -0.8 0.9 0.4 0.6 1 0.3 1.1 0.3 2.4 0.4 0.9 3.2 1.7 0.2 0.9 -1.7 3.5 0.2 0.8 0.8 0.9 1.1 0.4 0.8 0.1 0.9 -0.2 2.7 -1.6 0.9 0 1.3 0.4 2.2 2 1.8 0.7 0.9 0.1 0.9 -0.4 1.8 -2 2.6 -0.4 0.9 -0.4 0.9 -1.3 0.1 -0.9 -1.1 -2.6 0.2 -0.9 0.8 -0.8 3.5 -2.9 0.9 -0.4 0.9 0 0.7 0.6 -0.1 0.9 -2.8 4.4 -0.4 1.7 0.2 1.8 0.3 0.8 0.8 0.9 3.1 1.5 2.7 2.7 1.8 -0.7 1.7 -0.1 0.9 0.2 1.3 0.8 0.6 0.9 0.1 0.8 -0.8 2.7 0 0.8 0.6 0.5 0.9 0 0.8 -0.4 2.7 -1.5 1.8 -0.6 1.8 0.2 1.7 0.9 0.9 -0.1 5.3 -3 0.9 -0.2 0.9 0.2 0.8 0.5 1.9 1.8 0.9 1 1.7 4.5 0.9 1.4 1.8 -0.1 0.9 0.2 1 0.8 0.1 0.9 -0.2 0.2 -0.9 0.3 -0.9 0 -1.8 -0.2 -0.9 0.5 -0.2 1 0.2 0.8 0.4 0.9 1.4 1.7 0.9 1.5zM849 145.8l0.1 -1 0.8 -0.6 0.9 0 0.7 0.6 0 0.9 -0.7 0.4 -0.9 0.1zM696.9 159.6l1.3 0 1.8 -2.6 0.8 -0.9 0.9 -0.5 1.8 -0.3 0.9 0.2 0.9 0.5 1.7 1.4 1.8 1.1 0.9 0.4 0.9 -0.1 0.9 -0.7 1.2 -2.8 1.2 -1.8 1.1 -0.9 0.9 -0.3 0.9 0.1 0.4 0.3 0.5 0.8 -0.2 2.7 0.4 0.8 0.7 0.5 0.9 0.2 0.9 -0.4 1.8 -2 2.3 -1.8 0.7 -0.8 -0.1 -0.9 -0.6 -0.9 0.7 -0.9 0.2 -0.8 0.1 -1.8 -0.3 -0.8 -1.3 -1 -0.9 -0.4 -0.9 -0.2 -1.3 0.7 -0.4 0.6 -0.6 2 -0.3 0.3 -3.6 0.5 -2.6 0.1 -0.9 0.3 -1.8 1 -0.9 0.1 -3.5 -0.8 -0.9 0 -2.7 1 -0.9 -0.2 -1.8 -1 -1.7 0.1 -1.8 0.6 -0.9 0.6 -0.8 0.9 -0.9 1.7 -0.9 0.9 -1.8 1.5 -0.5 1.1 0.3 0.9 1.6 0.9 2.1 0.5zM803.3 149.2l0.5 0.4 0.9 0.3 4.4 -1.5 3.6 -3.1 0.3 -0.5 -0.1 -0.9 -0.2 -0.2 -0.9 -0.1 -1.8 0.1 -2.7 -0.6 -1.7 0.3 -0.9 0.4 -1.8 1.8 -0.3 1 0.2 1.7zM771.4 130l0.4 0.5 0.9 0 0.7 -0.5 0.5 -0.9 0 -0.9 -0.6 -0.9 -0.6 -0.3 -0.9 0 -0.4 0.3 -0.4 0.9 0 0.9zM677.6 89.8l0.2 0.1 0.8 -0.3 0.4 -0.7 0.2 -1.7 -0.6 -1 -0.8 0.3 -1 1.6 0.1 0.9zM722 70.6l1 0.5 0.9 0 0.9 -0.2 0.3 -0.3 0.5 -0.9 0 -0.9 -0.8 -2.4 -1.1 -1.9 -0.7 -0.6 -0.9 -0.4 -1.7 -0.1 -0.9 0.5 -0.5 0.6 -0.1 0.9 1.3 1.7 1 2.6z" fill="#21918c"/>
<path d="M713.2 130l0.9 0.7 0.9 -0.1 1.8 -2 2.7 -1.8 1.7 -1.5 1.8 -1.1 2.6 -1.2 0.8 -0.9 -0.1 -2.6 0.3 -0.9 0.9 -0.6 1.7 -0.3 3.6 -1.2 1.8 0 0.8 0.3 2.7 2.2 1.8 0.5 2.6 0 0.9 -0.3 1.8 -1 0.9 -0.1 0.9 0.8 0.9 1.7 0.9 0.5 2.6 0.2 0.9 0.3 1.8 1.3 0.9 0.3 0.9 -0.3 1.7 -2.1 0.9 -0.5 0.9 -0.2 2.7 0.2 4.1 -0.8 3 -0.7 2.6 -1.4 0.9 -0.1 0.9 0.1 0.6 0.3 3 2.5 1.7 0.7 0.9 0.1 0.9 -0.2 3.6 -2.9 0.8 -0.3 0.9 0.3 1.6 1.6 1.1 0.5 0.9 0.1 2.6 -1.8 0.9 -0.1 0.9 0.2 2.7 1.3 0.9 -0.1 0.9 -0.6 0.8 -1.3 0.3 -0.8 0 -0.9 -0.3 -1.1 -0.8 -1.6 -0.7 -0.8 0.8 -0.9 1.2 -0.8 1.3 -0.7 0.9 -0.1 0.9 0.1 2.7 1.4 2.6 0.4 0.9 0.4 1.8 2.1 1.8 1.3 6.2 2 1.7 -0.1 1.8 -0.7 0.9 0.2 2.7 2.2 3.5 0.9 1.8 1.1 0.9 0.3 3.5 -0.3 4.5 1 3.5 -0.2 4.5 1.2 3.4 0.6 0.7 0.8 0.5 1.8 0.7 0.5 0.9 0.3 4.4 -1.9 0 -103.7 -69.1 0 0.8 3.3 1.5 3.7 0.9 0.9 1.1 0 0.9 -0.3 0.9 0.2 3.5 2.4 1.8 0.4 0.9 0 2.7 -0.7 3.5 -0.7 0.9 0.3 0.9 0.8 1 1.1 0.5 0.8 -0.3 0.9 -1.2 0.8 -0.9 0.2 -0.9 -0.2 -0.8 -0.8 -1 -1.2 -0.8 0 -2.2 3.8 -1 0.9 -3.3 1.7 -1.5 0.6 -0.9 0 -1 -0.6 -2.3 -2.6 -0.8 -1.7 -1.2 -1.5 -0.9 -0.2 -2.7 1.9 -0.9 -0.1 -1.8 -1.4 -0.8 -0.2 -1.2 0.6 -0.4 0.9 0.3 2.6 -0.2 1.7 -0.3 0.6 -0.9 0.7 -1.8 0.2 -0.3 0.3 -0.2 0.9 0.4 1.7 1 2.2 0.9 1.1 0.9 0.5 0.9 0 0.8 0.6 -0.8 0.5 -1.8 -0.1 -1.8 1.3 -0.7 0.9 -0.4 0.9 0 0.8 0.9 1.8 2 1.5 1.8 0.3 6.2 -1.5 2 -1.2 0.6 -0.9 0.9 -2.6 1.1 -1.7 1.2 -0.9 1.3 -0.4 0.9 0.1 0.5 0.3 0.8 0.9 0.3 0.8 -0.1 1.8 -0.3 0.9 -1.2 1.9 -0.9 0.4 -0.9 0.2 -2.7 0.3 -1.7 1.1 -1.2 0.4 -3.3 0.5 -4.4 1 -1.8 -0.4 -2.7 -1.2 -0.8 -0.1 -0.9 0.2 -3 3.5 -1.5 0.7 -0.9 -0.2 -0.8 -0.7 -1.1 -1.5 -0.6 -1.8 -0.1 -0.8 0.4 -1.8 0.8 -1.7 0.7 -0.9 0.2 -0.9 -0.3 -0.7 -0.9 0.1 -1 1.5 -0.8 0.3 -1.1 -0.3 -1 -0.9 0.1 -0.9 1 -1.7 -0.1 -1.8 -0.5 -0.8 -1.1 -0.6 -0.9 -0.1 -1.7 0.3 -2.7 1.3 -3.5 0.8 -1.3 0.9 -0.6 0.9 -0.5 3.5 -1.1 2.6 -1.1 1.7 -0.8 0.5 -1.7 -0.9 -1.8 -0.2 -2.7 0.5 -0.9 0.7 -0.4 1.2 -0.5 3 -1.5 2.2 -0.4 0.9 0 2.6 -0.4 0.9 -1.2 1.3 -0.9 0.5 -2.7 0.1 -0.8 0.5 -1.2 1.9 -3.2 3.5 -0.5 0.9 -0.1 1.8 -0.5 0.8 -3.4 1.6 -2.7 2.1 -1.4 0.7 -1.2 0.3 -3.6 -0.5 -1.4 0.2 -0.4 0.6 -0.5 -0.6 -2.1 -0.4 -1.8 -0.6 -2.2 -1.6 -2.2 -2.6 -0.9 -0.5 -1.8 -0.2 -1.8 0.6 -1.8 1.1 -3.6 1.6 -1.4 0.8 -0.1 0.9 1.6 2.4 0 0.9 -0.9 0.2 -1.8 -1.1 -1.7 -0.3 -3.6 0.3 -0.9 0.3 -0.9 0.6 -0.5 1.1 0 0.9 2.1 5.2 0 0.9 -0.3 0.8 -0.9 1.8 -0.3 0.9 0.1 3.5 -0.2 0.4 -0.9 0.4 -1 -0.8 -0.7 -0.4 -0.9 -0.1 -0.9 0.1 -0.6 0.4 -0.5 0.8 -0.3 2.6 -0.4 0.9 0 0.9 0.2 0.9 0.7 1.5 3.2 2 2.1 1 0.9 0.9 1.7 2.4 0.1 0.9 -1.4 2.6 -0.1 0.9 0.4 2.6 -0.5 2.6 3.4 0.9 4.4 -0.8 5.3 0.7 4.5 -0.5 2.5 -1.1 1 -0.9 0.1 -0.9 -0.8 -2.6 0.4 -0.9 1.2 -0.4 1.8 0 1.3 0.4 0.9 0.9 0 0.9 -0.4 0.8 -2.5 1.8 0 0.9 2.1 2.6 -0.1 2.6zM715.9 87.2l-1.3 -0.9 -0.4 -0.9 0.8 -0.8 0.9 0.5 0.8 1.2zM794 113.5l-1.1 -1 0.1 -0.9 1 -0.9 0.9 -0.1 0.9 0.3 1 0.7 0.5 0.9 -1.5 0.9zM697.3 107.2l-0.3 -0.8 0.3 -1.3 0.6 1.3zM790.2 127.3l0.3 0.5 0.9 0.4 0.8 -0.4 0.9 -1.1 0.3 -2 -0.3 -0.8 -0.9 -0.7 -0.8 -0.3 -0.5 0.1 -0.4 0.1 -0.4 0.8 -0.1 1.7z" fill="#22a884"/>
<path d="M702.6 122.1l0.9 0.3 0.9 0.1 0.6 -0.4 0.1 -0.9 -0.3 -1.7 0.4 -1.8 0.7 -0.8 1.1 -0.4 6.3 0.1 3.5 -0.9 0.9 0.3 1.8 1.1 1.7 0.3 1.2 -0.5 0.6 -1 0.8 -2.5 0.6 -0.9 0.4 -0.5 0.9 -0.3 0.9 0.1 0.9 0.3 2.6 2.1 0.9 0.3 1.4 -0.3 0.9 -0.8 -0.5 -0.7 -0.4 -1.1 -0.4 -1.7 0.1 -0.9 0.7 -0.5 0.9 0 0.9 0.3 1 1.1 0.1 0.9 -0.3 1 -0.8 1.4 -0.4 0.2 0.4 0.8 4.4 2.8 0.9 0.3 1.8 -0.1 0.8 -0.2 3.6 -2.4 1.8 -0.5 0.9 0.2 1.7 1.7 3.6 0 2.6 0.8 4.5 -1.4 5.3 0.7 1.8 -0.4 2.6 -1.2 1.8 -0.1 3.1 0.7 1.2 0.9 1 1 0.9 0.2 0.9 -0.7 0.8 -2.3 1 -0.6 1.8 0 3.5 0.6 0.9 0 0.9 -0.3 0.4 -0.5 0.8 -2.6 1.6 -2.7 0.7 -2 0.9 -1.1 0.9 -0.4 0.9 0 0.9 0.7 1.8 1.9 0.9 0.4 0.8 0 0.9 -0.3 1.8 -1.1 0.9 -0.3 0.9 0 0.9 0.3 1.7 1.2 0.9 0.3 2.7 0 0.9 0.4 0.9 0.9 1.1 2.6 0.6 0.8 0.9 0.3 1.2 -0.2 0.6 -0.5 0.9 -1.3 0.9 -0.8 0.9 -0.2 0.9 0 0.8 0.3 1.7 0.8 3.7 2.6 1.7 0.9 2.7 0.5 0.9 -0.1 2.7 -0.8 0.8 0.2 1.8 0.7 4.5 1.2 2.6 1.2 2.7 0.5 1.7 1.8 0.9 0.3 1.8 0.1 1.8 -0.2 4.4 -1.1 1.8 -0.8 0 -58.5 -1.8 -1.6 -0.8 0.7 -0.9 0 -5.4 -1.2 -0.9 -0.4 -0.8 -1.1 -1 -3.4 -0.7 -0.9 -1 -0.2 -0.9 0.2 -1.8 0.6 -1.7 1.1 -0.9 0.3 -2.7 0.1 -0.9 0.4 -0.8 1 -0.4 0.9 -0.1 0.8 1.1 2.6 0.3 0.9 0 0.9 -0.4 0.9 -0.6 0.6 -0.9 0.5 -0.8 0.3 -0.9 -0.1 -1 -0.5 -0.6 -0.8 -0.5 -2.7 -0.6 -0.8 -0.9 -0.3 -0.9 0.1 -2.6 0.8 -2.7 0.5 -1.8 0.6 -0.6 0.9 0.2 2.6 -0.2 0.9 -1.2 1.7 -0.2 0.9 3.8 -0.1 0.9 0.2 0.9 0.7 0.2 0.9 -0.4 1.8 -0.7 1 -0.9 0.5 -0.9 0.1 -1.8 -0.6 -1.5 -1 -2 -1.9 -0.9 0 -1.8 0.4 -3.5 1.1 -2.7 0.4 -1.8 -0.1 -2.6 -0.7 -0.7 0.8 -1.1 2.1 -0.9 0.5 -1.8 -0.4 -2.6 -1 -1.4 -1.2 -1.3 -1.7 -1.2 1.7 -0.6 0.4 -1.7 0 -1.7 -0.4 -0.5 -0.9 0.3 -0.9 1.3 -1.7 0.2 -0.9 -0.5 -0.8 -0.9 -0.9 -0.9 -0.4 -0.9 -0.2 -3.5 0.8 -1.8 -0.4 -1.8 -0.8 -0.9 -0.2 -0.9 0.1 -2.6 0.7 -3.6 2.1 -0.9 -0.1 -0.8 -0.3 -0.9 -0.8 -1.8 -2.2 -0.9 -0.6 -0.9 -0.1 -1.6 0.6 -1.1 0.9 -0.6 0.9 -1 3.5 -0.8 0.8 -1.1 0.8 -0.9 0.4 -0.9 -0.2 -1.7 -2.3 -0.9 -0.2 -1.8 0.4 -0.9 0.6 -0.6 0.5 -0.2 0.9 0.5 0.9 1.8 1.7 0.4 0.9 0.2 0.9 -0.2 0.9 -1 1 -0.9 0.3 -2.7 0.5 -0.8 0.5 -1.7 2.9 -2.8 2.8 -0.9 0.4 -2.6 0.3 -0.9 0.4 -1.8 1.3 -0.9 0.2 -0.9 -0.3 -1.7 -1.2 -0.9 -0.4 -0.9 0 -0.9 0.3 -3.6 1.5 -2.6 1.4 -2.7 0.3 -0.9 0.4 -0.9 1 -1.7 2.6 -0.9 0.2 -3.6 -1 -3.5 -1.5 -0.9 -0.5 -0.9 -1.2 -0.5 -1.8 -0.8 -1.7 -0.7 -0.9 -2.4 -2 -0.9 -0.3 -0.9 0 -0.9 0.3 -3.1 2 -0.4 0.9 0.1 0.9 0.8 1.7 0 0.9 -0.4 0.9 -1.4 1.2 -0.9 0.3 -0.9 0 -0.9 -0.5 -2.6 -1.9 -0.9 -0.3 -1.8 0.1 -0.9 0.4 -0.8 0.7 -0.1 0.8 0.1 0.9 1.5 3.5 0 1.7 -0.2 1.8 0.1 0.9 0.8 1.7 0 0.9 -0.3 0.9 -1.3 1.7 -0.4 0.9 -0.2 0.8 0 1.8 0.2 0.9 1.5 2 0.9 0.7 0.9 0.1 0.8 -0.4 1 -1.6 0.9 -5.2 0 -1.7 -0.2 -0.9 -1 -1.8 -0.3 -0.8 4.1 -1.2 0.9 -0.2 0.9 0.1 0.8 0.4 0.5 0.9 0.5 3.5 0 0.8 -0.4 2.6 0.4 3.5 -0.3 0.9 -1.8 2.6 -0.7 1.8 -0.7 0.8 -2.8 0.8 -0.9 0.5 -0.5 0.5 -0.9 1.7 0 0.9 0.3 0.9 1.1 1.3 0.9 0.7 0.9 0.1 0.9 -0.4 0.9 -1.2 0.9 -0.2 1.7 1.4zM784.3 75.2l-3.6 -0.8 -0.4 -0.3 -0.2 -0.9 0.3 -0.9 1.2 -1.8 0.9 -0.6 0.9 0.2 0.8 0.5 1.2 0.9 0.8 0.8 0.2 0.9 -0.1 0.9 -0.3 0.5 -0.9 0.5zM794 82.3l-0.9 -0.4 -0.9 -0.8 -0.5 -0.9 0.1 -0.9 0.9 -0.8 3.1 -2 0.9 0 3.2 1.1 0.4 0.9 0 1.7 -0.2 0.9 -0.7 0.8 -0.9 0.5 -1.8 0.3zM791.1 44.4l1.1 0.4 3.8 -1.3 -1.1 -0.3 -1.9 -1.4 -1.6 -0.9 -1.8 -0.2 -0.7 0.2 -0.2 0.9 0.2 0.9 0.7 0.9zM802.3 43.5l0.6 0.4 0.9 0.2 0.9 -0.2 2.6 -2 0.9 -0.4 1.8 -0.3 0.1 -1.2 -1 -0.4 -0.9 0 -2.6 1.3 -2.7 -0.2 -1 0.2 -0.9 0.9zM856.8 27.8l2 0.8 0 -6.9 -2.1 0 -0.1 2.6 -0.6 2.6z" fill="#44bf70"/>
<path d="M709.9 114.2l1.6 0.4 1.8 -0.1 0.8 -0.4 2.7 -1.8 0.9 -0.2 1 0.4 1.7 1.6 0.8 -0.3 0.9 -1.8 0.7 -2.1 0.2 -0.4 0.8 -0.5 1 -0.1 2.7 0.3 0.7 -0.2 1 -1.7 0.9 -0.6 0.9 -0.3 4.6 0 0.7 -0.8 0.7 -1.8 1.1 -0.8 0.9 0 0.9 0.4 0.9 0.8 1.7 2.1 0.9 0.8 0.9 0.2 2.7 -0.2 1.1 0.2 0.8 1.7 0.7 0.4 0.9 0 0.1 -0.4 -1 -1.2 -0.7 -0.5 -0.3 -0.9 0.3 -0.9 0.7 -0.9 0.9 -0.6 0.9 -0.3 2.7 0 1.8 -1 0.8 0.1 0.6 1 0.1 0.8 -0.6 1.8 0 0.9 0.3 0.8 0.6 0.9 1.7 1.8 0.9 0.6 3.5 1.5 1.8 0.5 0.9 0 0.9 -0.3 1 -0.6 1.7 -1.6 1.7 -1.2 0.9 -0.3 0.9 0.1 1.8 1.2 0.9 -0.3 1.7 -1.4 1.8 -0.5 1.8 0.2 0.9 0.6 1.4 1.5 1.2 0.8 0.9 0.2 0.9 -0.1 0.6 -0.9 3.2 -6.2 0.7 -1 0.8 -0.9 1.8 -0.9 0.9 0 0.9 0.4 1.8 1.9 0.7 0.5 1 0.2 0.9 -0.5 1.7 -1.4 0.6 -0.9 1.5 -3.5 0.7 -0.9 0.9 -0.1 1.2 1 0.5 0.9 0.9 2.3 0.9 0.7 0.9 -0.1 1.8 -0.7 0.9 -0.1 3.5 0.5 0.9 -0.1 1.8 -0.6 0.9 0 0.8 0.5 0.2 0.2 -0.1 0.9 -1.9 1.7 -0.6 0.9 0.3 0.9 1.8 0.9 2.1 0.7 0.9 0.2 3.9 -0.1 1.4 0.6 1.8 1.2 0.9 0.3 2.7 -0.2 0.8 0.1 2.7 1.5 0.9 0.2 0.9 0 0.2 -0.2 -0.7 -1.7 -0.2 -0.9 0.1 -0.9 1.1 -1.7 1.3 -1.4 0.8 -0.5 0.9 -0.1 1.2 0.2 1.2 0.9 0.5 0.9 0.7 1.9 0.4 0.7 0.5 0.4 0.9 0.2 3.5 -2.3 1 -0.9 0.2 -0.9 -0.7 -1.7 -0.2 -0.9 0.1 -0.9 0.5 -0.9 2.8 -2.6 0.5 -0.8 0.1 -1.8 0.5 -0.9 2.3 -1.7 0 -22.2 -1.6 -0.5 -1.9 -1.1 -1.8 -0.5 -3.6 0.1 -0.9 0.1 -2 1.4 -1.5 0.4 -1.8 -0.1 -4.4 -0.6 -3.6 0.7 -0.9 0 -1.7 -0.4 -1.8 -0.7 -0.9 -0.1 -0.9 0.2 -0.8 0.6 -0.5 0.9 -1.4 3.5 0.3 5.2 -0.2 0.9 -0.9 0.5 -1.8 0.4 -0.9 0.8 -1 1.8 -0.7 0.8 -1 0.6 -0.8 0.2 -0.9 -0.1 -0.9 -0.7 -1.8 -2.4 -0.9 -0.4 -4.4 -1 -0.9 0 -0.9 0.7 -1.5 3.1 -1.2 1.1 -0.8 0.2 -0.9 -0.1 -1.8 -0.7 -0.9 -0.1 -0.9 0.2 -3.5 2.6 -0.9 0.3 -1.8 0.2 -0.9 -0.1 -1.8 -0.9 -3.5 -2.2 -0.9 -0.2 -1.8 -0.1 -0.9 -0.3 -2.6 -2.5 -1.4 -1.7 -1.3 -1.2 -0.9 -0.3 -1.7 -0.4 -0.9 -0.6 -0.4 -1 -0.5 -3.8 -0.9 -0.2 -1.8 0.9 -1.8 0.1 -1.3 -0.5 -4.9 -3 -1.7 -0.1 -1.3 0.5 -0.7 0.8 0.2 0.9 1.1 1.8 0 0.8 -0.5 0.9 -3.3 2.8 -0.9 0.3 -1.7 -0.6 -1.8 -0.1 -2.7 0.5 -1.8 0.7 -1.7 1.3 -1.2 1.2 -1.7 3.5 -1.6 1.1 -1.7 1.5 -0.9 0.4 -0.9 -0.3 -1.8 -0.8 -0.9 0 -0.9 0.3 -0.5 0.4 -1.2 1.5 -3.6 1.3 -1.1 -0.2 -1.6 -1.7 -0.8 -0.1 -0.9 0.2 -1.7 0.8 -0.9 0.8 -1.2 2.7 -0.7 0.9 -0.9 0.4 -0.8 0.1 -1.8 -0.1 -0.8 -0.5 -1.9 -2.5 -0.9 -0.5 -1.7 -0.2 -1.8 0.3 -0.9 0 -0.8 -0.6 -1.2 -1.7 -0.7 -4.4 -0.3 -0.8 -0.7 -0.9 -1.6 -1.1 -0.9 -0.3 -0.9 0.1 -0.8 0.4 -0.6 0.9 -0.1 0.9 0.5 1.7 0.1 0.9 -1.8 4.7 -0.3 0.5 -0.6 0.3 -3.7 1.5 1.1 0.3 1.8 -0.1 1.7 0.3 2.6 1.2 0 0.9 -0.6 2.6 0.2 0.9 0.5 0.8 1.8 1 2.6 2 2.7 0.9 1 0.5 0.2 0.9 -2.7 1.7 -0.3 0.9 0 1.8 -0.2 1.7 0.1 0.9zM739.8 114.2l2.7 -1 1 -0.7 0.2 -0.9 -1.2 -1 -1.9 -0.7 -1.6 -0.3 -0.9 0.5 -0.5 2.4 0.2 0.9 0.3 0.3 0.9 0.5zM752.1 111.6l1.1 0.8 0.9 -0.8 -0.3 -0.8 -0.6 -0.6 -0.9 -0.3 -0.9 -0.1 -0.4 0.1 0.4 0.4z" fill="#7ad151"/>
<path d="M712.6 110.8l0.7 0.5 0.8 -0.3 0.5 -1.1 -0.5 -0.4 -0.8 0.2 -0.3 0.2zM830.2 107.3l1.1 0.2 1.8 0.1 1.7 -0.1 0.9 -0.4 1.1 -0.7 1.1 -1.8 0.2 -0.8 -0.2 -2.6 1 -0.9 2.2 -0.8 0.8 0.1 1.8 0.6 0.9 -0.3 1 -1.4 0.8 -0.7 2.3 -1 1.2 -1.9 3.6 -1.5 1 -1 0 -0.9 -0.9 -1.7 -0.2 -0.9 0.4 -2.6 0 -0.9 -0.8 -2.6 -0.2 -1.7 0.5 -0.9 2 -1.1 1.8 -1.5 1.7 -1 0 -3.6 -4.4 -1.4 -0.9 0.1 -0.9 0.6 -0.4 0.9 0.2 0.9 1.1 1.7 0.3 0.9 -0.3 1.1 -0.9 1 -2.7 1.5 -1.7 1.6 -0.9 0.5 -0.9 0.2 -3.6 -0.4 -0.7 -0.3 -1 -0.8 -0.6 -0.9 0 -0.9 0.7 -1.7 0.1 -0.9 -0.2 -0.9 -0.9 -0.4 -0.9 0 -3.6 0.3 -0.9 0.2 -4.1 2.6 -0.3 0.8 -0.1 1.8 -0.2 0.8 -0.5 0.9 -0.8 0.9 -1.6 0.9 -2.1 0.5 -0.9 0.4 -3.6 2.5 -1.7 0.3 -1.8 -0.4 -0.9 -0.6 -1 -1.9 -0.8 -0.7 -0.9 -0.4 -1.7 0 -0.9 0.6 -0.4 0.5 -0.7 2.7 -0.7 0.7 -0.9 0.2 -6.2 0.4 -2.7 1.3 -4.4 1 -0.9 0 -0.9 -0.3 -2.6 -2.1 -1.8 -0.9 -0.9 -0.1 -2.7 1 -0.8 0 -0.9 -1.1 -0.7 -1.9 -0.6 -0.9 -2.3 -1.9 -0.9 -0.4 -0.9 0.6 -0.2 0.9 0.1 2.6 -0.7 1.7 -0.9 1.4 -0.9 0.6 -2.7 0.3 -1.8 0.4 -2.6 1.8 -0.5 -1 0.1 -0.9 -0.2 -0.8 -0.3 -0.2 -0.9 0.1 -0.9 0.4 -0.7 0.5 -0.7 0.9 -1.2 5.3 -0.9 1 -1 -0.2 -0.8 -1.2 -0.4 -1.4 -0.5 -0.5 -0.9 -0.7 -0.9 -0.1 -2.6 0.3 -1.8 0.4 -1.8 1 -0.9 0.8 -1.2 0.6 0.3 0.2 1.8 -0.4 2.7 0.3 2.6 -0.1 0.9 0.4 0.4 0.4 2.3 3.8 0.9 0.8 0.9 0.3 1.7 -0.4 2 -1 0.8 -0.8 0.8 -1.6 0.9 -0.4 3.5 1.2 0.9 -0.1 4.5 -1.6 0.8 -0.1 0.9 0.1 3.6 1.5 1.8 0.1 0.8 -0.2 0.9 -0.5 1.7 -1.9 0.5 -0.9 0 -2.6 0.5 -0.3 0.9 0.5 0.8 1.5 1 1.1 0.8 0.5 0.9 0.1 2.7 -1 3.5 -0.8 3.2 -1.6 1.3 -0.5 0.9 -0.1 0.9 0.1 0.9 0.5 1.7 2.6 0.9 0.9 0.9 0.5 1.8 0.4 2.6 1.3 0.9 0.2 0.9 -0.1 0.9 -0.4 1.3 -1.1 0.6 -0.8 0.6 -1.8 0.7 -0.9 1.7 -0.8 1.3 -0.5 1.6 -0.4 1.1 0 0.9 0.3 0.5 0.6 0 0.8 -1.1 2.7 -0.7 3.5 -1.8 3.4 0.1 0.9 1.6 0.9zM774.5 96l-0.9 -0.6 -0.2 -0.4 0.2 -0.4 0.9 -0.5 0.9 0.2 0.5 0.7 -0.5 0.8zM714.2 103.8l0.8 0.2 0.9 -0.1 1.7 -1 0.5 -0.9 -0.2 -2.6 0.4 -0.9 -1.9 -1.7 -1.5 -2.6 -0.8 -0.5 -0.8 0 -2.7 1.4 -0.9 0.1 -0.6 0.7 0.6 1.8 2.4 4.3 0.8 0.9zM743.3 103.8l1 0.3 0.9 -0.2 1.1 -1 0.7 -1.1 0.1 -0.6 0.2 -0.9 -0.3 -0.8 -0.7 0.8 -1.1 2.2 -0.9 0.7 -0.9 -0.1zM760.2 94.2l1 0.7 0.9 -0.3 0.7 -2.2 0.6 -0.9 0.7 -0.8 1.5 -1.3 1.8 -2.2 0.9 -0.4 0.9 0.1 1.7 1.4 0.9 0.3 0.9 -0.9 0.6 -1.4 1 -1.7 2.9 -2.3 0.8 -0.5 0.9 -0.1 0.4 -0.6 -3.9 -0.3 -0.7 -0.6 -0.4 -0.9 -0.6 -2.6 -1 -0.3 -2.6 0 -1.3 0.3 -0.1 2.6 -0.4 0.5 -0.9 0.2 -1.8 -0.2 -1.8 -1 -0.8 -0.1 -0.9 0.4 -1 1.1 0.1 1.6 0.5 1 0.4 0.4 2.6 0.6 0.9 0.6 0.6 1 0 0.9 -0.6 0.9 -0.9 0.8 -0.9 0.4 -0.8 0 -0.9 -0.3 -0.7 -0.9 -0.3 -0.9 -0.8 -1.1 -2.7 -0.9 -2.6 -1.7 -0.3 0.2 -1 2.6 0.4 0.3 0.9 -0.2 0.9 0.2 0.7 0.6 -3.4 1.4 -0.2 0.4 0 0.8 6.4 0.5 0.7 0.4 0.2 0.9 -0.5 0.8 -0.4 0.3 -2.7 1.2 -2.9 0.3 2.1 0.4 3.5 0.2zM770.9 85l-0.6 -0.4 -0.2 -0.9 0.3 -0.9 0.5 -0.5 0.9 0 0.9 0.5 0.5 0.9 -0.3 0.9 -1.1 0.5zM705 89.8l0.3 0.3 0.2 -0.3 0.7 -2.6 0 -1.3 -0.9 -0.4 -0.4 2.6z" fill="#bddf26"/>
<path d="M826.5 105.5l1.2 0.3 1.8 -0.1 0.9 -0.3 1 -0.8 0.1 -1.7 0.7 -1.6 1.6 -2.8 1 -0.6 3.6 -1.5 2.7 0 0.8 -0.2 0.9 -0.5 1.8 -1.5 1.8 -2.1 1.9 -1.4 0.8 -0.9 0.4 -0.9 -0.5 -0.9 1.8 -0.7 0.8 -1.9 0 -0.8 -0.2 -0.9 -0.6 -0.9 -0.9 -0.2 -2.2 1.1 -1.3 0.4 -3.6 0.5 -0.9 0 -2.6 -2.7 -2.7 -2.1 -0.9 -0.4 -0.9 0 -0.8 0.3 -1 0.5 -2.2 3.5 -0.9 0.9 -1.3 0.8 -4.4 1.7 -3.6 2.2 -0.8 0.2 -3.6 0 -1.8 0.5 -1 0.7 -1.6 1.9 -0.9 -0.2 -1.1 -0.9 -1.7 -0.8 -0.8 -0.3 -1.7 -0.1 -2.7 0.4 -3.6 1 -5.3 1.2 -0.9 -0.2 -2.6 -2.2 -1.8 -0.6 -0.9 0 -0.9 0.3 -2.6 1.5 -2 0.7 0.3 0.9 0.8 0.7 0.9 0.4 0.8 -0.3 0.6 -0.8 1.4 -0.9 1.6 -0.4 0.9 0.1 0.9 0.6 1.7 2 0.9 0.4 0.9 -0.2 2.7 -1 4.4 -0.9 2.7 -0.7 1.8 -0.1 0.8 0.3 0.9 0.7 1.7 2.7 1 0.7 5.3 0.9 0.9 -0.7 1.5 -2.6 1.2 -0.7 6.2 -1.1 2.6 0.1 0.9 0.6 0.3 1.1 -0.1 0.8 -1.4 2.7 -0.6 3.5 -1.2 2.6 0 0.8zM855.2 75.8l0.9 0.4 1 -0.4 0.9 -0.8 -0.3 -0.9 -2 -0.9 -0.4 -0.1 -0.9 0.1 -0.2 0.9z" fill="#fde725"/>
</g>
<rect x="646.7" y="21.7" width="212.1" height="149.3" fill="none" stroke="#222" stroke-width="0.6"/>
<line x1="643.7" y1="165.7" x2="646.7" y2="165.7" stroke="#222" stroke-width="0.7"/>
<text x="641.7" y="168.1" font-size="6.7" text-anchor="end" fill="#262626">-2000</text>
<line x1="643.7" y1="148.5" x2="646.7" y2="148.5" stroke="#222" stroke-width="0.7"/>
<text x="641.7" y="150.9" font-size="6.7" text-anchor="end" fill="#262626">-1500</text>
<line x1="643.7" y1="131.2" x2="646.7" y2="131.2" stroke="#222" stroke-width="0.7"/>
<text x="641.7" y="133.6" font-size="6.7" text-anchor="end" fill="#262626">-1000</text>
<line x1="643.7" y1="114" x2="646.7" y2="114" stroke="#222" stroke-width="0.7"/>
<text x="641.7" y="116.4" font-size="6.7" text-anchor="end" fill="#262626">-500</text>
<line x1="643.7" y1="96.7" x2="646.7" y2="96.7" stroke="#222" stroke-width="0.7"/>
<text x="641.7" y="99.1" font-size="6.7" text-anchor="end" fill="#262626">0</text>
<line x1="643.7" y1="79.5" x2="646.7" y2="79.5" stroke="#222" stroke-width="0.7"/>
<text x="641.7" y="81.9" font-size="6.7" text-anchor="end" fill="#262626">500</text>
<line x1="643.7" y1="62.2" x2="646.7" y2="62.2" stroke="#222" stroke-width="0.7"/>
<text x="641.7" y="64.6" font-size="6.7" text-anchor="end" fill="#262626">1000</text>
<line x1="643.7" y1="44.9" x2="646.7" y2="44.9" stroke="#222" stroke-width="0.7"/>
<text x="641.7" y="47.3" font-size="6.7" text-anchor="end" fill="#262626">1500</text>
<line x1="643.7" y1="27.7" x2="646.7" y2="27.7" stroke="#222" stroke-width="0.7"/>
<text x="641.7" y="30.1" font-size="6.7" text-anchor="end" fill="#262626">2000</text>
<line x1="645.2" y1="169.2" x2="646.7" y2="169.2" stroke="#222" stroke-width="0.45"/>
<line x1="645.2" y1="165.7" x2="646.7" y2="165.7" stroke="#222" stroke-width="0.45"/>
<line x1="645.2" y1="162.2" x2="646.7" y2="162.2" stroke="#222" stroke-width="0.45"/>
<line x1="645.2" y1="158.8" x2="646.7" y2="158.8" stroke="#222" stroke-width="0.45"/>
<line x1="645.2" y1="155.4" x2="646.7" y2="155.4" stroke="#222" stroke-width="0.45"/>
<line x1="645.2" y1="151.9" x2="646.7" y2="151.9" stroke="#222" stroke-width="0.45"/>
<line x1="645.2" y1="148.5" x2="646.7" y2="148.5" stroke="#222" stroke-width="0.45"/>
<line x1="645.2" y1="145" x2="646.7" y2="145" stroke="#222" stroke-width="0.45"/>
<line x1="645.2" y1="141.6" x2="646.7" y2="141.6" stroke="#222" stroke-width="0.45"/>
<line x1="645.2" y1="138.1" x2="646.7" y2="138.1" stroke="#222" stroke-width="0.45"/>
<line x1="645.2" y1="134.7" x2="646.7" y2="134.7" stroke="#222" stroke-width="0.45"/>
<line x1="645.2" y1="131.2" x2="646.7" y2="131.2" stroke="#222" stroke-width="0.45"/>
<line x1="645.2" y1="127.8" x2="646.7" y2="127.8" stroke="#222" stroke-width="0.45"/>
<line x1="645.2" y1="124.3" x2="646.7" y2="124.3" stroke="#222" stroke-width="0.45"/>
<line x1="645.2" y1="120.9" x2="646.7" y2="120.9" stroke="#222" stroke-width="0.45"/>
<line x1="645.2" y1="117.4" x2="646.7" y2="117.4" stroke="#222" stroke-width="0.45"/>
<line x1="645.2" y1="114" x2="646.7" y2="114" stroke="#222" stroke-width="0.45"/>
<line x1="645.2" y1="110.5" x2="646.7" y2="110.5" stroke="#222" stroke-width="0.45"/>
<line x1="645.2" y1="107.1" x2="646.7" y2="107.1" stroke="#222" stroke-width="0.45"/>
<line x1="645.2" y1="103.6" x2="646.7" y2="103.6" stroke="#222" stroke-width="0.45"/>
<line x1="645.2" y1="100.2" x2="646.7" y2="100.2" stroke="#222" stroke-width="0.45"/>
<line x1="645.2" y1="96.7" x2="646.7" y2="96.7" stroke="#222" stroke-width="0.45"/>
<line x1="645.2" y1="93.2" x2="646.7" y2="93.2" stroke="#222" stroke-width="0.45"/>
<line x1="645.2" y1="89.8" x2="646.7" y2="89.8" stroke="#222" stroke-width="0.45"/>
<line x1="645.2" y1="86.3" x2="646.7" y2="86.3" stroke="#222" stroke-width="0.45"/>
<line x1="645.2" y1="82.9" x2="646.7" y2="82.9" stroke="#222" stroke-width="0.45"/>
<line x1="645.2" y1="79.5" x2="646.7" y2="79.5" stroke="#222" stroke-width="0.45"/>
<line x1="645.2" y1="76" x2="646.7" y2="76" stroke="#222" stroke-width="0.45"/>
<line x1="645.2" y1="72.5" x2="646.7" y2="72.5" stroke="#222" stroke-width="0.45"/>
<line x1="645.2" y1="69.1" x2="646.7" y2="69.1" stroke="#222" stroke-width="0.45"/>
<line x1="645.2" y1="65.7" x2="646.7" y2="65.7" stroke="#222" stroke-width="0.45"/>
<line x1="645.2" y1="62.2" x2="646.7" y2="62.2" stroke="#222" stroke-width="0.45"/>
<line x1="645.2" y1="58.8" x2="646.7" y2="58.8" stroke="#222" stroke-width="0.45"/>
<line x1="645.2" y1="55.3" x2="646.7" y2="55.3" stroke="#222" stroke-width="0.45"/>
<line x1="645.2" y1="51.9" x2="646.7" y2="51.9" stroke="#222" stroke-width="0.45"/>
<line x1="645.2" y1="48.4" x2="646.7" y2="48.4" stroke="#222" stroke-width="0.45"/>
<line x1="645.2" y1="44.9" x2="646.7" y2="44.9" stroke="#222" stroke-width="0.45"/>
<line x1="645.2" y1="41.5" x2="646.7" y2="41.5" stroke="#222" stroke-width="0.45"/>
<line x1="645.2" y1="38" x2="646.7" y2="38" stroke="#222" stroke-width="0.45"/>
<line x1="645.2" y1="34.6" x2="646.7" y2="34.6" stroke="#222" stroke-width="0.45"/>
<line x1="645.2" y1="31.1" x2="646.7" y2="31.1" stroke="#222" stroke-width="0.45"/>
<line x1="645.2" y1="27.7" x2="646.7" y2="27.7" stroke="#222" stroke-width="0.45"/>
<line x1="645.2" y1="24.2" x2="646.7" y2="24.2" stroke="#222" stroke-width="0.45"/>
<line x1="649.6" y1="171" x2="649.6" y2="174" stroke="#222" stroke-width="0.7"/>
<text x="649.6" y="184.1" font-size="6.7" text-anchor="middle" fill="#262626">-3000</text>
<line x1="683.9" y1="171" x2="683.9" y2="174" stroke="#222" stroke-width="0.7"/>
<text x="683.9" y="184.1" font-size="6.7" text-anchor="middle" fill="#262626">-2000</text>
<line x1="718.2" y1="171" x2="718.2" y2="174" stroke="#222" stroke-width="0.7"/>
<text x="718.2" y="184.1" font-size="6.7" text-anchor="middle" fill="#262626">-1000</text>
<line x1="752.5" y1="171" x2="752.5" y2="174" stroke="#222" stroke-width="0.7"/>
<text x="752.5" y="184.1" font-size="6.7" text-anchor="middle" fill="#262626">0</text>
<line x1="786.8" y1="171" x2="786.8" y2="174" stroke="#222" stroke-width="0.7"/>
<text x="786.8" y="184.1" font-size="6.7" text-anchor="middle" fill="#262626">1000</text>
<line x1="821.1" y1="171" x2="821.1" y2="174" stroke="#222" stroke-width="0.7"/>
<text x="821.1" y="184.1" font-size="6.7" text-anchor="middle" fill="#262626">2000</text>
<line x1="855.4" y1="171" x2="855.4" y2="174" stroke="#222" stroke-width="0.7"/>
<text x="855.4" y="184.1" font-size="6.7" text-anchor="middle" fill="#262626">3000</text>
<line x1="649.6" y1="171" x2="649.6" y2="172.5" stroke="#222" stroke-width="0.45"/>
<line x1="656.5" y1="171" x2="656.5" y2="172.5" stroke="#222" stroke-width="0.45"/>
<line x1="663.3" y1="171" x2="663.3" y2="172.5" stroke="#222" stroke-width="0.45"/>
<line x1="670.2" y1="171" x2="670.2" y2="172.5" stroke="#222" stroke-width="0.45"/>
<line x1="677" y1="171" x2="677" y2="172.5" stroke="#222" stroke-width="0.45"/>
<line x1="683.9" y1="171" x2="683.9" y2="172.5" stroke="#222" stroke-width="0.45"/>
<line x1="690.8" y1="171" x2="690.8" y2="172.5" stroke="#222" stroke-width="0.45"/>
<line x1="697.6" y1="171" x2="697.6" y2="172.5" stroke="#222" stroke-width="0.45"/>
<line x1="704.5" y1="171" x2="704.5" y2="172.5" stroke="#222" stroke-width="0.45"/>
<line x1="711.3" y1="171" x2="711.3" y2="172.5" stroke="#222" stroke-width="0.45"/>
<line x1="718.2" y1="171" x2="718.2" y2="172.5" stroke="#222" stroke-width="0.45"/>
<line x1="725.1" y1="171" x2="725.1" y2="172.5" stroke="#222" stroke-width="0.45"/>
<line x1="731.9" y1="171" x2="731.9" y2="172.5" stroke="#222" stroke-width="0.45"/>
<line x1="738.8" y1="171" x2="738.8" y2="172.5" stroke="#222" stroke-width="0.45"/>
<line x1="745.6" y1="171" x2="745.6" y2="172.5" stroke="#222" stroke-width="0.45"/>
<line x1="752.5" y1="171" x2="752.5" y2="172.5" stroke="#222" stroke-width="0.45"/>
<line x1="759.4" y1="171" x2="759.4" y2="172.5" stroke="#222" stroke-width="0.45"/>
<line x1="766.2" y1="171" x2="766.2" y2="172.5" stroke="#222" stroke-width="0.45"/>
<line x1="773.1" y1="171" x2="773.1" y2="172.5" stroke="#222" stroke-width="0.45"/>
<line x1="779.9" y1="171" x2="779.9" y2="172.5" stroke="#222" stroke-width="0.45"/>
<line x1="786.8" y1="171" x2="786.8" y2="172.5" stroke="#222" stroke-width="0.45"/>
<line x1="793.7" y1="171" x2="793.7" y2="172.5" stroke="#222" stroke-width="0.45"/>
<line x1="800.5" y1="171" x2="800.5" y2="172.5" stroke="#222" stroke-width="0.45"/>
<line x1="807.4" y1="171" x2="807.4" y2="172.5" stroke="#222" stroke-width="0.45"/>
<line x1="814.2" y1="171" x2="814.2" y2="172.5" stroke="#222" stroke-width="0.45"/>
<line x1="821.1" y1="171" x2="821.1" y2="172.5" stroke="#222" stroke-width="0.45"/>
<line x1="828" y1="171" x2="828" y2="172.5" stroke="#222" stroke-width="0.45"/>
<line x1="834.8" y1="171" x2="834.8" y2="172.5" stroke="#222" stroke-width="0.45"/>
<line x1="841.7" y1="171" x2="841.7" y2="172.5" stroke="#222" stroke-width="0.45"/>
<line x1="848.5" y1="171" x2="848.5" y2="172.5" stroke="#222" stroke-width="0.45"/>
<line x1="855.4" y1="171" x2="855.4" y2="172.5" stroke="#222" stroke-width="0.45"/>
<text x="752.8" y="19.4" font-size="7.41" text-anchor="middle" font-weight="bold" fill="#111">Contourf Plot</text>
<text x="752.5" y="194.4" font-size="7.4" text-anchor="middle" fill="#262626">XAxis</text>
<text x="621" y="96.7" font-size="7.4" text-anchor="middle" fill="#262626" transform="rotate(-90 621 96.7)">YAxis</text>
</svg>
<div class="lab" style="left:5px">等高线填充图</div>
</div>
<div class="card" style="left:12px;top:228px;width:274px;height:217px">
<svg width="274" height="217" viewBox="12 228 274 217">
<text x="153.2" y="258.8" font-size="8.42" text-anchor="middle" font-weight="bold" fill="#111">Excess natural deaths (ages 1yr +) per million population</text>
<text x="153.2" y="269" font-size="8.42" text-anchor="middle" font-weight="bold" fill="#111">by province, up to 8 September</text>
<rect x="51.5" y="273.6" width="194.6" height="12.4" fill="#4a64ad" stroke="#555" stroke-width="0.5"/>
<line x1="50" y1="279.8" x2="51.5" y2="279.8" stroke="#444" stroke-width="0.5"/>
<text x="45.2" y="282.4" font-size="7.4" text-anchor="end" fill="#262626">EC</text>
<rect x="51.5" y="287.3" width="158.3" height="12.4" fill="#56adaa" stroke="#555" stroke-width="0.5"/>
<line x1="50" y1="293.5" x2="51.5" y2="293.5" stroke="#444" stroke-width="0.5"/>
<text x="45.2" y="296.1" font-size="7.4" text-anchor="end" fill="#262626">FS</text>
<rect x="51.5" y="301.1" width="127.8" height="12.4" fill="#9fd9a5" stroke="#555" stroke-width="0.5"/>
<line x1="50" y1="307.3" x2="51.5" y2="307.3" stroke="#444" stroke-width="0.5"/>
<text x="45.2" y="309.9" font-size="7.4" text-anchor="end" fill="#262626">WC</text>
<rect x="51.5" y="314.8" width="108.8" height="12.4" fill="#e6f598" stroke="#555" stroke-width="0.5"/>
<line x1="50" y1="321" x2="51.5" y2="321" stroke="#444" stroke-width="0.5"/>
<text x="45.2" y="323.6" font-size="7.4" text-anchor="end" fill="#262626">GP</text>
<rect x="51.5" y="328.6" width="93.9" height="12.4" fill="#ffffbf" stroke="#555" stroke-width="0.5"/>
<line x1="50" y1="334.8" x2="51.5" y2="334.8" stroke="#444" stroke-width="0.5"/>
<text x="45.2" y="337.4" font-size="7.4" text-anchor="end" fill="#262626">NC</text>
<rect x="51.5" y="342.3" width="65.1" height="12.4" fill="#fdd380" stroke="#555" stroke-width="0.5"/>
<line x1="50" y1="348.5" x2="51.5" y2="348.5" stroke="#444" stroke-width="0.5"/>
<text x="45.2" y="351.1" font-size="7.4" text-anchor="end" fill="#262626">KZN</text>
<rect x="51.5" y="356" width="49.5" height="12.4" fill="#f98e52" stroke="#555" stroke-width="0.5"/>
<line x1="50" y1="362.2" x2="51.5" y2="362.2" stroke="#444" stroke-width="0.5"/>
<text x="45.2" y="364.8" font-size="7.4" text-anchor="end" fill="#262626">MP</text>
<rect x="51.5" y="369.8" width="48.5" height="12.4" fill="#dc4c4b" stroke="#555" stroke-width="0.5"/>
<line x1="50" y1="376" x2="51.5" y2="376" stroke="#444" stroke-width="0.5"/>
<text x="45.2" y="378.6" font-size="7.4" text-anchor="end" fill="#262626">NW</text>
<rect x="51.5" y="383.5" width="27.1" height="12.4" fill="#a5003f" stroke="#555" stroke-width="0.5"/>
<line x1="50" y1="389.7" x2="51.5" y2="389.7" stroke="#444" stroke-width="0.5"/>
<text x="45.2" y="392.3" font-size="7.4" text-anchor="end" fill="#262626">LP</text>
<line x1="51.5" y1="271" x2="51.5" y2="399.7" stroke="#444" stroke-width="0.5"/>
<line x1="51.5" y1="399.7" x2="254.9" y2="399.7" stroke="#444" stroke-width="0.5"/>
<line x1="51.5" y1="399.7" x2="51.5" y2="401.5" stroke="#444" stroke-width="0.5"/>
<text x="51.5" y="413.2" font-size="7.45" text-anchor="middle" fill="#262626">0</text>
<line x1="102.3" y1="399.7" x2="102.3" y2="401.5" stroke="#444" stroke-width="0.5"/>
<text x="102.3" y="413.2" font-size="7.45" text-anchor="middle" fill="#262626">500</text>
<line x1="153.2" y1="399.7" x2="153.2" y2="401.5" stroke="#444" stroke-width="0.5"/>
<text x="153.2" y="413.2" font-size="7.45" text-anchor="middle" fill="#262626">1000</text>
<line x1="204.1" y1="399.7" x2="204.1" y2="401.5" stroke="#444" stroke-width="0.5"/>
<text x="204.1" y="413.2" font-size="7.45" text-anchor="middle" fill="#262626">1500</text>
<line x1="254.9" y1="399.7" x2="254.9" y2="401.5" stroke="#444" stroke-width="0.5"/>
<text x="254.9" y="413.2" font-size="7.45" text-anchor="middle" fill="#262626">2000</text>
<text x="153.2" y="422.8" font-size="7.26" text-anchor="middle" fill="#262626">Excess natural deaths (ages 1yr +) per million population</text>
<text x="26.3" y="335.5" font-size="7.6" text-anchor="middle" fill="#262626" transform="rotate(-90 26.3 335.5)">Province</text>
</svg>
<div class="lab">横向单组多色柱状图</div>
</div>
<div class="card" style="left:308px;top:228px;width:274px;height:217px">
<svg width="274" height="217" viewBox="308 228 274 217">
<line x1="383.2" y1="391.7" x2="446.7" y2="331.5" stroke="#dcdcdc" stroke-width="0.4"/>
<line x1="446.7" y1="331.5" x2="446.7" y2="257.1" stroke="#dcdcdc" stroke-width="0.4"/>
<line x1="414.8" y1="399.1" x2="478.3" y2="338.9" stroke="#dcdcdc" stroke-width="0.4"/>
<line x1="478.3" y1="338.9" x2="478.3" y2="264.5" stroke="#dcdcdc" stroke-width="0.4"/>
<line x1="446.4" y1="406.6" x2="509.9" y2="346.4" stroke="#dcdcdc" stroke-width="0.4"/>
<line x1="509.9" y1="346.4" x2="509.9" y2="272" stroke="#dcdcdc" stroke-width="0.4"/>
<line x1="365.7" y1="370.8" x2="499.4" y2="402.4" stroke="#dcdcdc" stroke-width="0.4"/>
<line x1="365.7" y1="370.8" x2="365.7" y2="296.4" stroke="#dcdcdc" stroke-width="0.4"/>
<line x1="379.8" y1="357.4" x2="513.5" y2="389" stroke="#dcdcdc" stroke-width="0.4"/>
<line x1="379.8" y1="357.4" x2="379.8" y2="283" stroke="#dcdcdc" stroke-width="0.4"/>
<line x1="393.9" y1="344.1" x2="527.6" y2="375.7" stroke="#dcdcdc" stroke-width="0.4"/>
<line x1="393.9" y1="344.1" x2="393.9" y2="269.7" stroke="#dcdcdc" stroke-width="0.4"/>
<line x1="351.6" y1="365.6" x2="415.1" y2="305.4" stroke="#dcdcdc" stroke-width="0.4"/>
<line x1="415.1" y1="305.4" x2="548.8" y2="337" stroke="#dcdcdc" stroke-width="0.4"/>
<line x1="351.6" y1="347" x2="415.1" y2="286.8" stroke="#dcdcdc" stroke-width="0.4"/>
<line x1="415.1" y1="286.8" x2="548.8" y2="318.4" stroke="#dcdcdc" stroke-width="0.4"/>
<line x1="351.6" y1="328.4" x2="415.1" y2="268.2" stroke="#dcdcdc" stroke-width="0.4"/>
<line x1="415.1" y1="268.2" x2="548.8" y2="299.8" stroke="#dcdcdc" stroke-width="0.4"/>
<line x1="351.6" y1="384.2" x2="415.1" y2="324" stroke="#bbb" stroke-width="0.4"/>
<line x1="415.1" y1="324" x2="548.8" y2="355.6" stroke="#bbb" stroke-width="0.4"/>
<line x1="351.6" y1="384.2" x2="351.6" y2="309.8" stroke="#4a4a4a" stroke-width="0.62"/>
<line x1="351.6" y1="309.8" x2="415.1" y2="249.6" stroke="#4a4a4a" stroke-width="0.62"/>
<line x1="415.1" y1="249.6" x2="415.1" y2="324" stroke="#4a4a4a" stroke-width="0.62"/>
<line x1="415.1" y1="249.6" x2="548.8" y2="281.2" stroke="#4a4a4a" stroke-width="0.62"/>
<line x1="548.8" y1="281.2" x2="548.8" y2="355.6" stroke="#4a4a4a" stroke-width="0.62"/>
<line x1="351.6" y1="384.2" x2="485.3" y2="415.8" stroke="#4a4a4a" stroke-width="0.62"/>
<line x1="485.3" y1="415.8" x2="548.8" y2="355.6" stroke="#4a4a4a" stroke-width="0.62"/>
<path d="M415.1 324L548.2 355.5" fill="none" stroke="#fde725" stroke-width="0.8"/>
<path d="M422.1 325.6V279.5M425.8 326.5V323.4M429 327.3V326.3M430.3 327.6V326.6M484 340.3V338.5M523.8 349.7V349M536.5 352.7V351" fill="none" stroke="#fde725" stroke-width="1.15"/>
<path d="M411.9 327L545 358.5" fill="none" stroke="#dde318" stroke-width="0.8"/>
<path d="M416.4 328.1V324.9M420.8 329.1V324.4M424.6 330V327.8M427.7 330.7V327.4M428.4 330.9V328.3M470.1 340.8V322M475.8 342.1V338.8M506.7 349.4V348.5M511.8 350.6V349.2M519.4 352.4V348.5M524.4 353.6V352.4" fill="none" stroke="#dde318" stroke-width="1.15"/>
<path d="M408.8 330L541.8 361.5" fill="none" stroke="#bade28" stroke-width="0.8"/>
<path d="M415.7 331.7V327.6M419.5 332.6V323M435.9 336.4V334.8M439.7 337.3V317.9M473.2 345.3V339.6M498.5 351.2V349.5M530.1 358.7V354.8" fill="none" stroke="#bade28" stroke-width="1.15"/>
<path d="M405.6 333L538.6 364.5" fill="none" stroke="#95d840" stroke-width="0.8"/>
<path d="M441 341.4V339.5M450.5 343.6V338.3M499.8 355.3V334.9M530.1 362.5V360.5" fill="none" stroke="#95d840" stroke-width="1.15"/>
<path d="M402.4 336L535.5 367.5" fill="none" stroke="#75d054" stroke-width="0.8"/>
<path d="M413.8 338.7V332.3M447.3 346.6V342M463.7 350.5V346.6M468.1 351.6V278.8M474.5 353.1V280.2M487.1 356.1V354.7M526.9 365.5V363M528.2 365.8V362.2" fill="none" stroke="#75d054" stroke-width="1.15"/>
<path d="M399.2 339L532.3 370.5" fill="none" stroke="#56c667" stroke-width="0.8"/>
<path d="M410.6 341.7V331M425.8 345.3V343.2M442.2 349.2V343.6M448.5 350.7V349.3M454.9 352.2V349.7M457.4 352.8V349.4M472.6 356.4V342.3M475.1 357V354.6M479.5 358V324.8M490.9 360.7V358.1M495.9 361.9V360.9M508.6 364.9V363.3" fill="none" stroke="#56c667" stroke-width="1.15"/>
<path d="M396.1 342.1L529.1 373.5" fill="none" stroke="#3dbc74" stroke-width="0.8"/>
<path d="M416.3 346.8V332.6M418.8 347.4V344.4M431.5 350.4V322.6M437.1 351.8V351.2M465.6 358.5V356.2M466.9 358.8V343.8M487.7 363.7V363.1M502.3 367.2V365.8M511.1 369.3V368M512.4 369.6V348.1" fill="none" stroke="#3dbc74" stroke-width="1.15"/>
<path d="M392.9 345.1L525.9 376.5" fill="none" stroke="#29af7f" stroke-width="0.8"/>
<path d="M416.9 350.7V350.2M427 353.1V349.4M433.3 354.6V353M450.4 358.7V357.9M454.8 359.7V335M481.4 366V364.9M490.2 368.1V366.3M499.1 370.2V366.7M509.8 372.7V368.3M518 374.7V370.1" fill="none" stroke="#29af7f" stroke-width="1.15"/>
<path d="M389.7 348.1L522.8 379.5" fill="none" stroke="#20a386" stroke-width="0.8"/>
<path d="M447.2 361.7V292.9M458.6 364.4V361M483.9 370.3V369.7M501 374.4V357.9M511.7 376.9V375.7M512.3 377.1V372.5" fill="none" stroke="#20a386" stroke-width="1.15"/>
<path d="M386.5 351.1L519.6 382.5" fill="none" stroke="#1f968b" stroke-width="0.8"/>
<path d="M412.4 357.2V343.8M440.3 363.8V340.9M440.9 363.9V361.2M442.8 364.4V360.6M464.3 369.5V309.9M471.9 371.3V370.2M472.5 371.4V370M476.9 372.5V369.9" fill="none" stroke="#1f968b" stroke-width="1.15"/>
<path d="M383.4 354.1L516.4 385.6" fill="none" stroke="#238a8d" stroke-width="0.8"/>
<path d="M406.7 359.6V316.9M416.9 362V360.6M425.1 364V350M490.2 379.4V377.9M509.8 384V382.6" fill="none" stroke="#238a8d" stroke-width="1.15"/>
<path d="M380.2 357.1L513.2 388.6" fill="none" stroke="#287d8e" stroke-width="0.8"/>
<path d="M392.8 360.1V299.5M396.6 361V359.2M404.8 362.9V359.4M421.9 367V361.6M457.9 375.5V367.6M464.3 377V374M469.9 378.3V352M495.2 384.3V383.1M500.9 385.6V382.3" fill="none" stroke="#287d8e" stroke-width="1.15"/>
<path d="M377 360.1L510.1 391.6" fill="none" stroke="#2d718e" stroke-width="0.8"/>
<path d="M394.1 364.2V316.9M411.1 368.2V366.2M425.7 371.6V366.2M432.6 373.3V366.1M459.2 379.5V360.7M484.5 385.5V373.4M494.6 387.9V385.4" fill="none" stroke="#2d718e" stroke-width="1.15"/>
<path d="M373.8 363.1L506.9 394.6" fill="none" stroke="#33638d" stroke-width="0.8"/>
<path d="M378.3 364.2V357.7M383.3 365.4V359.3M385.2 365.8V318.2M387.7 366.4V312.7M399.7 369.3V359.1M406.1 370.7V367M411.1 371.9V369.9M423.8 374.9V373.9M429.5 376.3V372.3M490.8 390.8V376.2" fill="none" stroke="#33638d" stroke-width="1.15"/>
<path d="M370.7 366.1L503.7 397.6" fill="none" stroke="#39558c" stroke-width="0.8"/>
<path d="M435.8 381.5V376.2M448.4 384.5V376.2M475.6 390.9V389.6M485.7 393.3V391.2M487 393.6V392.4M492 394.8V388.3M497.1 396V394.5" fill="none" stroke="#39558c" stroke-width="1.15"/>
<path d="M367.5 369.1L500.5 400.6" fill="none" stroke="#404688" stroke-width="0.8"/>
<path d="M383.9 373V371.8M457.2 390.4V384.2M459.8 391V384.9M469.9 393.4V387.5M480.6 395.9V390.5" fill="none" stroke="#404688" stroke-width="1.15"/>
<path d="M364.3 372.2L497.4 403.6" fill="none" stroke="#453781" stroke-width="0.8"/>
<path d="M369.4 373.4V372.3M373.8 374.4V369.4M376.9 375.1V345.7M400.3 380.7V379.1" fill="none" stroke="#453781" stroke-width="1.15"/>
<path d="M361.1 375.2L494.2 406.6" fill="none" stroke="#482576" stroke-width="0.8"/>
<path d="M366.8 376.5V375.8M378.8 379.4V375.4M394 382.9V380.3M402.2 384.9V381.8M427.5 390.9V387.5M449.6 396.1V394.1M469.2 400.7V396.6M471.1 401.2V386.1M475.5 402.2V396.2" fill="none" stroke="#482576" stroke-width="1.15"/>
<path d="M358 378.2L491 409.6" fill="none" stroke="#481467" stroke-width="0.8"/>
<path d="M393.4 386.5V382.4M394 386.7V381.9M407.9 390V388.5M410.4 390.6V389.6M432.5 395.8V394.5M440.1 397.6V396M445.8 398.9V394.3M483.1 407.8V406.1" fill="none" stroke="#481467" stroke-width="1.15"/>
<path d="M354.8 381.2L487.8 412.6" fill="none" stroke="#440154" stroke-width="0.8"/>
<path d="M358.6 382.1V377.5M378.2 386.7V383.8M391.4 389.9V387.2M407.2 393.6V391M414.2 395.2V392.9M416.7 395.8V395M437 400.6V398.9M438.2 400.9V399.3M441.4 401.7V400.5" fill="none" stroke="#440154" stroke-width="1.15"/>
<text x="449.5" y="248.5" font-size="6.49" text-anchor="middle" font-weight="bold" fill="#111">Extracted Spectra Subset</text>
<line x1="349.6" y1="384.2" x2="351.6" y2="384.2" stroke="#4a4a4a" stroke-width="0.5"/>
<text x="347.1" y="386.4" font-size="5.9" text-anchor="end" fill="#262626">0</text>
<line x1="349.6" y1="365.6" x2="351.6" y2="365.6" stroke="#4a4a4a" stroke-width="0.5"/>
<text x="347.1" y="367.8" font-size="5.9" text-anchor="end" fill="#262626">1</text>
<line x1="349.6" y1="347" x2="351.6" y2="347" stroke="#4a4a4a" stroke-width="0.5"/>
<text x="347.1" y="349.2" font-size="5.9" text-anchor="end" fill="#262626">2</text>
<line x1="349.6" y1="328.4" x2="351.6" y2="328.4" stroke="#4a4a4a" stroke-width="0.5"/>
<text x="347.1" y="330.6" font-size="5.9" text-anchor="end" fill="#262626">3</text>
<line x1="349.6" y1="309.8" x2="351.6" y2="309.8" stroke="#4a4a4a" stroke-width="0.5"/>
<text x="347.1" y="312" font-size="5.9" text-anchor="end" fill="#262626">4</text>
<line x1="351.6" y1="384.2" x2="350.6" y2="386.2" stroke="#4a4a4a" stroke-width="0.5"/>
<text x="347.6" y="393.2" font-size="5.9" text-anchor="middle" fill="#262626">500</text>
<line x1="383.2" y1="391.7" x2="382.2" y2="393.7" stroke="#4a4a4a" stroke-width="0.5"/>
<text x="379.2" y="400.7" font-size="5.9" text-anchor="middle" fill="#262626">600</text>
<line x1="414.8" y1="399.1" x2="413.8" y2="401.1" stroke="#4a4a4a" stroke-width="0.5"/>
<text x="410.8" y="408.1" font-size="5.9" text-anchor="middle" fill="#262626">700</text>
<line x1="446.4" y1="406.6" x2="445.4" y2="408.6" stroke="#4a4a4a" stroke-width="0.5"/>
<text x="442.4" y="415.6" font-size="5.9" text-anchor="middle" fill="#262626">800</text>
<line x1="478" y1="414.1" x2="477" y2="416.1" stroke="#4a4a4a" stroke-width="0.5"/>
<text x="474" y="423.1" font-size="5.9" text-anchor="middle" fill="#262626">900</text>
<line x1="485.3" y1="415.8" x2="487.3" y2="416.6" stroke="#4a4a4a" stroke-width="0.5"/>
<text x="491.3" y="421.6" font-size="5.9" text-anchor="middle" fill="#262626">0</text>
<line x1="499.4" y1="402.4" x2="501.4" y2="403.2" stroke="#4a4a4a" stroke-width="0.5"/>
<text x="505.4" y="408.2" font-size="5.9" text-anchor="middle" fill="#262626">5</text>
<line x1="513.5" y1="389" x2="515.5" y2="389.8" stroke="#4a4a4a" stroke-width="0.5"/>
<text x="519.5" y="394.8" font-size="5.9" text-anchor="middle" fill="#262626">10</text>
<line x1="527.6" y1="375.7" x2="529.6" y2="376.5" stroke="#4a4a4a" stroke-width="0.5"/>
<text x="533.6" y="381.5" font-size="5.9" text-anchor="middle" fill="#262626">15</text>
<line x1="541.7" y1="362.3" x2="543.7" y2="363.1" stroke="#4a4a4a" stroke-width="0.5"/>
<text x="547.7" y="368.1" font-size="5.9" text-anchor="middle" fill="#262626">20</text>
<text x="336.3" y="303.3" font-size="5.9" fill="#262626">×10</text>
<text x="346.4" y="300.3" font-size="4.2" fill="#262626">6</text>
<text x="521" y="414" font-size="5.8" text-anchor="middle" fill="#262626">Time</text>
<text x="340" y="353" font-size="5.8" text-anchor="middle" fill="#262626" transform="rotate(-90 340 353)">Ion Spectra</text>
<text x="407" y="422.6" font-size="5.8" text-anchor="middle" fill="#262626">Mass/Charge (M/Z)</text>
</svg>
<div class="lab">三维折线图</div>
</div>
<div class="card" style="left:603px;top:228px;width:274px;height:217px">
<svg width="274" height="217" viewBox="603 228 274 217">
<text x="722.5" y="252.9" font-size="8.25" text-anchor="middle" font-weight="bold" fill="#111">South American Population by Country</text>
<path d="M722.7 342.3 L722.7 269.3 A73 73 0 0 0 718.4 415.2 Z" fill="#084488" stroke="#1d3345" stroke-width="0.45" stroke-linejoin="round"/>
<path d="M722.7 342.3 L718.4 415.2 A73 73 0 0 0 769.2 398.5 Z" fill="#0f6db1" stroke="#1d3345" stroke-width="0.45" stroke-linejoin="round"/>
<path d="M722.7 342.3 L769.2 398.5 A73 73 0 0 0 793.4 360.5 Z" fill="#3a9ac9" stroke="#1d3345" stroke-width="0.45" stroke-linejoin="round"/>
<path d="M722.7 342.3 L793.4 360.5 A73 73 0 0 0 793.4 324.3 Z" fill="#68bdd0" stroke="#1d3345" stroke-width="0.45" stroke-linejoin="round"/>
<path d="M722.7 342.3 L793.4 324.3 A73 73 0 0 0 775.8 292.2 Z" fill="#98d6be" stroke="#1d3345" stroke-width="0.45" stroke-linejoin="round"/>
<path d="M722.7 342.3 L775.8 292.2 A73 73 0 0 0 761.9 280.7 Z" fill="#c6e8c7" stroke="#1d3345" stroke-width="0.45" stroke-linejoin="round"/>
<path d="M722.7 342.3 L761.9 280.7 A73 73 0 0 0 744.5 272.6 Z" fill="#e0f2da" stroke="#1d3345" stroke-width="0.45" stroke-linejoin="round"/>
<path d="M722.7 342.3 L744.5 272.6 A73 73 0 0 0 722.7 269.3 Z" fill="#f4faee" stroke="#1d3345" stroke-width="0.45" stroke-linejoin="round"/>
<text x="634.3" y="343.5" font-size="7.9" text-anchor="middle" fill="#262626">49%</text>
<text x="747.3" y="426.8" font-size="7.9" text-anchor="middle" fill="#262626">12%</text>
<text x="797.3" y="392.8" font-size="7.9" text-anchor="middle" fill="#262626">10%</text>
<text x="808.3" y="345.5" font-size="7.9" text-anchor="middle" fill="#262626">8%</text>
<text x="798.3" y="302.8" font-size="7.9" text-anchor="middle" fill="#262626">8%</text>
<text x="779" y="279.5" font-size="7.9" text-anchor="middle" fill="#262626">4%</text>
<text x="762.3" y="268.8" font-size="7.9" text-anchor="middle" fill="#262626">4%</text>
<text x="735" y="261.8" font-size="7.9" text-anchor="middle" fill="#262626">5%</text>
<rect x="813.9" y="359.9" width="4.2" height="4.2" fill="#084488" stroke="#333" stroke-width="0.4"/>
<text x="820" y="364.2" font-size="6.3" fill="#262626">Brazil</text>
<rect x="813.9" y="367.8" width="4.2" height="4.2" fill="#0f6db1" stroke="#333" stroke-width="0.4"/>
<text x="820" y="372.1" font-size="6.3" fill="#262626">Colombia</text>
<rect x="813.9" y="375.6" width="4.2" height="4.2" fill="#3a9ac9" stroke="#333" stroke-width="0.4"/>
<text x="820" y="379.9" font-size="6.3" fill="#262626">Argentina</text>
<rect x="813.9" y="383.5" width="4.2" height="4.2" fill="#68bdd0" stroke="#333" stroke-width="0.4"/>
<text x="820" y="387.8" font-size="6.3" fill="#262626">Peru</text>
<rect x="813.9" y="391.3" width="4.2" height="4.2" fill="#98d6be" stroke="#333" stroke-width="0.4"/>
<text x="820" y="395.6" font-size="6.3" fill="#262626">Venezuela</text>
<rect x="813.9" y="399.2" width="4.2" height="4.2" fill="#c6e8c7" stroke="#333" stroke-width="0.4"/>
<text x="820" y="403.5" font-size="6.3" fill="#262626">Chile</text>
<rect x="813.9" y="407.1" width="4.2" height="4.2" fill="#e0f2da" stroke="#333" stroke-width="0.4"/>
<text x="820" y="411.4" font-size="6.3" fill="#262626">Ecuador</text>
<rect x="813.9" y="414.9" width="4.2" height="4.2" fill="#f4faee" stroke="#333" stroke-width="0.4"/>
<text x="820" y="419.2" font-size="6.3" fill="#262626">Others</text>
</svg>
<div class="lab" style="left:5px">饼图</div>
</div>
<div class="card" style="left:12px;top:470px;width:274px;height:216px">
<svg width="274" height="216" viewBox="12 470 274 216">
<line x1="59.3" y1="644.7" x2="249.2" y2="644.7" stroke="#e4e4e4" stroke-width="0.5"/>
<line x1="59.3" y1="623.4" x2="249.2" y2="623.4" stroke="#e4e4e4" stroke-width="0.5"/>
<line x1="59.3" y1="602.1" x2="249.2" y2="602.1" stroke="#e4e4e4" stroke-width="0.5"/>
<line x1="59.3" y1="580.8" x2="249.2" y2="580.8" stroke="#e4e4e4" stroke-width="0.5"/>
<line x1="59.3" y1="559.5" x2="249.2" y2="559.5" stroke="#e4e4e4" stroke-width="0.5"/>
<line x1="59.3" y1="538.2" x2="249.2" y2="538.2" stroke="#e4e4e4" stroke-width="0.5"/>
<line x1="59.3" y1="516.9" x2="249.2" y2="516.9" stroke="#e4e4e4" stroke-width="0.5"/>
<clipPath id="c7clip"><rect x="56.3" y="495" width="195.9" height="159"/></clipPath>
<g clip-path="url(#c7clip)">
<polyline points="59.3,559.5 65.8,559.5 65.8,561.5 72.3,561.5 72.3,567 78.9,567 78.9,575.1 85.4,575.1 85.4,584.2 91.9,584.2 91.9,592.8 98.4,592.8 98.4,599.1 105,599.1 105,602 111.5,602 111.5,601 118,601 118,596.3 124.5,596.3 124.5,588.7 131,588.7 131,579.6 137.6,579.6 137.6,570.8 144.1,570.8 144.1,563.8 150.6,563.8 150.6,560 157.1,560 157.1,560 163.6,560 163.6,563.8 170.2,563.8 170.2,570.8 176.7,570.8 176.7,579.6 183.2,579.6 183.2,588.7 189.7,588.7 189.7,596.3 196.3,596.3 196.3,601 202.8,601 202.8,602 209.3,602 209.3,599.1 215.8,599.1 215.8,592.8 222.3,592.8 222.3,584.2 228.9,584.2 228.9,575.1 235.4,575.1 235.4,567 241.9,567 241.9,561.5 248.4,561.5 248.4,559.5" fill="none" stroke="#1c2075" stroke-width="1.0" stroke-linejoin="round" stroke-linejoin="miter"/>
<circle cx="59.3" cy="559.5" r="1.5" fill="#1c2075"/>
<circle cx="65.8" cy="561.5" r="1.5" fill="#1c2075"/>
<circle cx="72.3" cy="567" r="1.5" fill="#1c2075"/>
<circle cx="78.9" cy="575.1" r="1.5" fill="#1c2075"/>
<circle cx="85.4" cy="584.2" r="1.5" fill="#1c2075"/>
<circle cx="91.9" cy="592.8" r="1.5" fill="#1c2075"/>
<circle cx="98.4" cy="599.1" r="1.5" fill="#1c2075"/>
<circle cx="105" cy="602" r="1.5" fill="#1c2075"/>
<circle cx="111.5" cy="601" r="1.5" fill="#1c2075"/>
<circle cx="118" cy="596.3" r="1.5" fill="#1c2075"/>
<circle cx="124.5" cy="588.7" r="1.5" fill="#1c2075"/>
<circle cx="131" cy="579.6" r="1.5" fill="#1c2075"/>
<circle cx="137.6" cy="570.8" r="1.5" fill="#1c2075"/>
<circle cx="144.1" cy="563.8" r="1.5" fill="#1c2075"/>
<circle cx="150.6" cy="560" r="1.5" fill="#1c2075"/>
<circle cx="157.1" cy="560" r="1.5" fill="#1c2075"/>
<circle cx="163.6" cy="563.8" r="1.5" fill="#1c2075"/>
<circle cx="170.2" cy="570.8" r="1.5" fill="#1c2075"/>
<circle cx="176.7" cy="579.6" r="1.5" fill="#1c2075"/>
<circle cx="183.2" cy="588.7" r="1.5" fill="#1c2075"/>
<circle cx="189.7" cy="596.3" r="1.5" fill="#1c2075"/>
<circle cx="196.3" cy="601" r="1.5" fill="#1c2075"/>
<circle cx="202.8" cy="602" r="1.5" fill="#1c2075"/>
<circle cx="209.3" cy="599.1" r="1.5" fill="#1c2075"/>
<circle cx="215.8" cy="592.8" r="1.5" fill="#1c2075"/>
<circle cx="222.3" cy="584.2" r="1.5" fill="#1c2075"/>
<circle cx="228.9" cy="575.1" r="1.5" fill="#1c2075"/>
<circle cx="235.4" cy="567" r="1.5" fill="#1c2075"/>
<circle cx="241.9" cy="561.5" r="1.5" fill="#1c2075"/>
<circle cx="248.4" cy="559.5" r="1.5" fill="#1c2075"/>
<polyline points="59.3,538.2 65.8,538.2 65.8,546.9 72.3,546.9 72.3,569.4 78.9,569.4 78.9,596.6 85.4,596.6 85.4,617.3 91.9,617.3 91.9,623.2 98.4,623.2 98.4,611.7 105,611.7 105,587.7 111.5,587.7 111.5,560.8 118,560.8 118,542.1 124.5,542.1 124.5,539.2 131,539.2 131,553.2 137.6,553.2 137.6,578.5 144.1,578.5 144.1,604.7 150.6,604.7 150.6,621.2 157.1,621.2 157.1,621.2 163.6,621.2 163.6,604.7 170.2,604.7 170.2,578.5 176.7,578.5 176.7,553.2 183.2,553.2 183.2,539.2 189.7,539.2 189.7,542.1 196.3,542.1 196.3,560.8 202.8,560.8 202.8,587.7 209.3,587.7 209.3,611.7 215.8,611.7 215.8,623.2 222.3,623.2 222.3,617.3 228.9,617.3 228.9,596.6 235.4,596.6 235.4,569.4 241.9,569.4 241.9,546.9 248.4,546.9 248.4,538.2" fill="none" stroke="#27aae1" stroke-width="1.0" stroke-linejoin="round" stroke-linejoin="miter"/>
<circle cx="59.3" cy="538.2" r="1.5" fill="#27aae1"/>
<circle cx="65.8" cy="546.9" r="1.5" fill="#27aae1"/>
<circle cx="72.3" cy="569.4" r="1.5" fill="#27aae1"/>
<circle cx="78.9" cy="596.6" r="1.5" fill="#27aae1"/>
<circle cx="85.4" cy="617.3" r="1.5" fill="#27aae1"/>
<circle cx="91.9" cy="623.2" r="1.5" fill="#27aae1"/>
<circle cx="98.4" cy="611.7" r="1.5" fill="#27aae1"/>
<circle cx="105" cy="587.7" r="1.5" fill="#27aae1"/>
<circle cx="111.5" cy="560.8" r="1.5" fill="#27aae1"/>
<circle cx="118" cy="542.1" r="1.5" fill="#27aae1"/>
<circle cx="124.5" cy="539.2" r="1.5" fill="#27aae1"/>
<circle cx="131" cy="553.2" r="1.5" fill="#27aae1"/>
<circle cx="137.6" cy="578.5" r="1.5" fill="#27aae1"/>
<circle cx="144.1" cy="604.7" r="1.5" fill="#27aae1"/>
<circle cx="150.6" cy="621.2" r="1.5" fill="#27aae1"/>
<circle cx="157.1" cy="621.2" r="1.5" fill="#27aae1"/>
<circle cx="163.6" cy="604.7" r="1.5" fill="#27aae1"/>
<circle cx="170.2" cy="578.5" r="1.5" fill="#27aae1"/>
<circle cx="176.7" cy="553.2" r="1.5" fill="#27aae1"/>
<circle cx="183.2" cy="539.2" r="1.5" fill="#27aae1"/>
<circle cx="189.7" cy="542.1" r="1.5" fill="#27aae1"/>
<circle cx="196.3" cy="560.8" r="1.5" fill="#27aae1"/>
<circle cx="202.8" cy="587.7" r="1.5" fill="#27aae1"/>
<circle cx="209.3" cy="611.7" r="1.5" fill="#27aae1"/>
<circle cx="215.8" cy="623.2" r="1.5" fill="#27aae1"/>
<circle cx="222.3" cy="617.3" r="1.5" fill="#27aae1"/>
<circle cx="228.9" cy="596.6" r="1.5" fill="#27aae1"/>
<circle cx="235.4" cy="569.4" r="1.5" fill="#27aae1"/>
<circle cx="241.9" cy="546.9" r="1.5" fill="#27aae1"/>
<circle cx="248.4" cy="538.2" r="1.5" fill="#27aae1"/>
<polyline points="59.3,516.9 65.8,516.9 65.8,518.4 72.3,518.4 72.3,522.8 78.9,522.8 78.9,529.9 85.4,529.9 85.4,539.4 91.9,539.4 91.9,550.9 98.4,550.9 98.4,563.7 105,563.7 105,577.3 111.5,577.3 111.5,591.1 118,591.1 118,604.5 124.5,604.5 124.5,616.7 131,616.7 131,627.2 137.6,627.2 137.6,635.6 144.1,635.6 144.1,641.4 150.6,641.4 150.6,644.3 157.1,644.3 157.1,644.3 163.6,644.3 163.6,641.4 170.2,641.4 170.2,635.6 176.7,635.6 176.7,627.2 183.2,627.2 183.2,616.7 189.7,616.7 189.7,604.5 196.3,604.5 196.3,591.1 202.8,591.1 202.8,577.3 209.3,577.3 209.3,563.7 215.8,563.7 215.8,550.9 222.3,550.9 222.3,539.4 228.9,539.4 228.9,529.9 235.4,529.9 235.4,522.8 241.9,522.8 241.9,518.4 248.4,518.4 248.4,516.9" fill="none" stroke="#fbd02d" stroke-width="1.0" stroke-linejoin="round" stroke-linejoin="miter"/>
<circle cx="59.3" cy="516.9" r="1.7" fill="#fde98a" stroke="#fbd02d" stroke-width="0.8"/>
<circle cx="65.8" cy="518.4" r="1.7" fill="#fde98a" stroke="#fbd02d" stroke-width="0.8"/>
<circle cx="72.3" cy="522.8" r="1.7" fill="#fde98a" stroke="#fbd02d" stroke-width="0.8"/>
<circle cx="78.9" cy="529.9" r="1.7" fill="#fde98a" stroke="#fbd02d" stroke-width="0.8"/>
<circle cx="85.4" cy="539.4" r="1.7" fill="#fde98a" stroke="#fbd02d" stroke-width="0.8"/>
<circle cx="91.9" cy="550.9" r="1.7" fill="#fde98a" stroke="#fbd02d" stroke-width="0.8"/>
<circle cx="98.4" cy="563.7" r="1.7" fill="#fde98a" stroke="#fbd02d" stroke-width="0.8"/>
<circle cx="105" cy="577.3" r="1.7" fill="#fde98a" stroke="#fbd02d" stroke-width="0.8"/>
<circle cx="111.5" cy="591.1" r="1.7" fill="#fde98a" stroke="#fbd02d" stroke-width="0.8"/>
<circle cx="118" cy="604.5" r="1.7" fill="#fde98a" stroke="#fbd02d" stroke-width="0.8"/>
<circle cx="124.5" cy="616.7" r="1.7" fill="#fde98a" stroke="#fbd02d" stroke-width="0.8"/>
<circle cx="131" cy="627.2" r="1.7" fill="#fde98a" stroke="#fbd02d" stroke-width="0.8"/>
<circle cx="137.6" cy="635.6" r="1.7" fill="#fde98a" stroke="#fbd02d" stroke-width="0.8"/>
<circle cx="144.1" cy="641.4" r="1.7" fill="#fde98a" stroke="#fbd02d" stroke-width="0.8"/>
<circle cx="150.6" cy="644.3" r="1.7" fill="#fde98a" stroke="#fbd02d" stroke-width="0.8"/>
<circle cx="157.1" cy="644.3" r="1.7" fill="#fde98a" stroke="#fbd02d" stroke-width="0.8"/>
<circle cx="163.6" cy="641.4" r="1.7" fill="#fde98a" stroke="#fbd02d" stroke-width="0.8"/>
<circle cx="170.2" cy="635.6" r="1.7" fill="#fde98a" stroke="#fbd02d" stroke-width="0.8"/>
<circle cx="176.7" cy="627.2" r="1.7" fill="#fde98a" stroke="#fbd02d" stroke-width="0.8"/>
<circle cx="183.2" cy="616.7" r="1.7" fill="#fde98a" stroke="#fbd02d" stroke-width="0.8"/>
<circle cx="189.7" cy="604.5" r="1.7" fill="#fde98a" stroke="#fbd02d" stroke-width="0.8"/>
<circle cx="196.3" cy="591.1" r="1.7" fill="#fde98a" stroke="#fbd02d" stroke-width="0.8"/>
<circle cx="202.8" cy="577.3" r="1.7" fill="#fde98a" stroke="#fbd02d" stroke-width="0.8"/>
<circle cx="209.3" cy="563.7" r="1.7" fill="#fde98a" stroke="#fbd02d" stroke-width="0.8"/>
<circle cx="215.8" cy="550.9" r="1.7" fill="#fde98a" stroke="#fbd02d" stroke-width="0.8"/>
<circle cx="222.3" cy="539.4" r="1.7" fill="#fde98a" stroke="#fbd02d" stroke-width="0.8"/>
<circle cx="228.9" cy="529.9" r="1.7" fill="#fde98a" stroke="#fbd02d" stroke-width="0.8"/>
<circle cx="235.4" cy="522.8" r="1.7" fill="#fde98a" stroke="#fbd02d" stroke-width="0.8"/>
<circle cx="241.9" cy="518.4" r="1.7" fill="#fde98a" stroke="#fbd02d" stroke-width="0.8"/>
<circle cx="248.4" cy="516.9" r="1.7" fill="#fde98a" stroke="#fbd02d" stroke-width="0.8"/>
<polyline points="59.3,516.9 65.8,516.9 65.8,522.8 72.3,522.8 72.3,539.4 78.9,539.4 78.9,563.7 85.4,563.7 85.4,591.1 91.9,591.1 91.9,616.7 98.4,616.7 98.4,635.6 105,635.6 105,644.3 111.5,644.3 111.5,641.4 118,641.4 118,627.2 124.5,627.2 124.5,604.5 131,604.5 131,577.3 137.6,577.3 137.6,550.9 144.1,550.9 144.1,529.9 150.6,529.9 150.6,518.4 157.1,518.4 157.1,518.4 163.6,518.4 163.6,529.9 170.2,529.9 170.2,550.9 176.7,550.9 176.7,577.3 183.2,577.3 183.2,604.5 189.7,604.5 189.7,627.2 196.3,627.2 196.3,641.4 202.8,641.4 202.8,644.3 209.3,644.3 209.3,635.6 215.8,635.6 215.8,616.7 222.3,616.7 222.3,591.1 228.9,591.1 228.9,563.7 235.4,563.7 235.4,539.4 241.9,539.4 241.9,522.8 248.4,522.8 248.4,516.9" fill="none" stroke="#f18f2b" stroke-width="1.0" stroke-linejoin="round" stroke-linejoin="miter"/>
<rect x="57.7" y="515.3" width="3.2" height="3.2" fill="#f9c27f" stroke="#f18f2b" stroke-width="0.8"/>
<rect x="64.2" y="521.2" width="3.2" height="3.2" fill="#f9c27f" stroke="#f18f2b" stroke-width="0.8"/>
<rect x="70.7" y="537.8" width="3.2" height="3.2" fill="#f9c27f" stroke="#f18f2b" stroke-width="0.8"/>
<rect x="77.3" y="562.1" width="3.2" height="3.2" fill="#f9c27f" stroke="#f18f2b" stroke-width="0.8"/>
<rect x="83.8" y="589.5" width="3.2" height="3.2" fill="#f9c27f" stroke="#f18f2b" stroke-width="0.8"/>
<rect x="90.3" y="615.1" width="3.2" height="3.2" fill="#f9c27f" stroke="#f18f2b" stroke-width="0.8"/>
<rect x="96.8" y="634" width="3.2" height="3.2" fill="#f9c27f" stroke="#f18f2b" stroke-width="0.8"/>
<rect x="103.4" y="642.7" width="3.2" height="3.2" fill="#f9c27f" stroke="#f18f2b" stroke-width="0.8"/>
<rect x="109.9" y="639.8" width="3.2" height="3.2" fill="#f9c27f" stroke="#f18f2b" stroke-width="0.8"/>
<rect x="116.4" y="625.6" width="3.2" height="3.2" fill="#f9c27f" stroke="#f18f2b" stroke-width="0.8"/>
<rect x="122.9" y="602.9" width="3.2" height="3.2" fill="#f9c27f" stroke="#f18f2b" stroke-width="0.8"/>
<rect x="129.4" y="575.7" width="3.2" height="3.2" fill="#f9c27f" stroke="#f18f2b" stroke-width="0.8"/>
<rect x="136" y="549.3" width="3.2" height="3.2" fill="#f9c27f" stroke="#f18f2b" stroke-width="0.8"/>
<rect x="142.5" y="528.3" width="3.2" height="3.2" fill="#f9c27f" stroke="#f18f2b" stroke-width="0.8"/>
<rect x="149" y="516.8" width="3.2" height="3.2" fill="#f9c27f" stroke="#f18f2b" stroke-width="0.8"/>
<rect x="155.5" y="516.8" width="3.2" height="3.2" fill="#f9c27f" stroke="#f18f2b" stroke-width="0.8"/>
<rect x="162" y="528.3" width="3.2" height="3.2" fill="#f9c27f" stroke="#f18f2b" stroke-width="0.8"/>
<rect x="168.6" y="549.3" width="3.2" height="3.2" fill="#f9c27f" stroke="#f18f2b" stroke-width="0.8"/>
<rect x="175.1" y="575.7" width="3.2" height="3.2" fill="#f9c27f" stroke="#f18f2b" stroke-width="0.8"/>
<rect x="181.6" y="602.9" width="3.2" height="3.2" fill="#f9c27f" stroke="#f18f2b" stroke-width="0.8"/>
<rect x="188.1" y="625.6" width="3.2" height="3.2" fill="#f9c27f" stroke="#f18f2b" stroke-width="0.8"/>
<rect x="194.7" y="639.8" width="3.2" height="3.2" fill="#f9c27f" stroke="#f18f2b" stroke-width="0.8"/>
<rect x="201.2" y="642.7" width="3.2" height="3.2" fill="#f9c27f" stroke="#f18f2b" stroke-width="0.8"/>
<rect x="207.7" y="634" width="3.2" height="3.2" fill="#f9c27f" stroke="#f18f2b" stroke-width="0.8"/>
<rect x="214.2" y="615.1" width="3.2" height="3.2" fill="#f9c27f" stroke="#f18f2b" stroke-width="0.8"/>
<rect x="220.7" y="589.5" width="3.2" height="3.2" fill="#f9c27f" stroke="#f18f2b" stroke-width="0.8"/>
<rect x="227.3" y="562.1" width="3.2" height="3.2" fill="#f9c27f" stroke="#f18f2b" stroke-width="0.8"/>
<rect x="233.8" y="537.8" width="3.2" height="3.2" fill="#f9c27f" stroke="#f18f2b" stroke-width="0.8"/>
<rect x="240.3" y="521.2" width="3.2" height="3.2" fill="#f9c27f" stroke="#f18f2b" stroke-width="0.8"/>
<rect x="246.8" y="515.3" width="3.2" height="3.2" fill="#f9c27f" stroke="#f18f2b" stroke-width="0.8"/>
</g>
<rect x="59.3" y="495" width="189.9" height="159" fill="none" stroke="#555" stroke-width="0.5"/>
<line x1="59.3" y1="495.6" x2="60.9" y2="495.6" stroke="#555" stroke-width="0.5"/>
<line x1="249.2" y1="495.6" x2="247.6" y2="495.6" stroke="#555" stroke-width="0.5"/>
<text x="55.8" y="497.6" font-size="5.4" text-anchor="end" fill="#262626">2</text>
<line x1="59.3" y1="516.9" x2="60.9" y2="516.9" stroke="#555" stroke-width="0.5"/>
<line x1="249.2" y1="516.9" x2="247.6" y2="516.9" stroke="#555" stroke-width="0.5"/>
<text x="55.8" y="518.9" font-size="5.4" text-anchor="end" fill="#262626">1.5</text>
<line x1="59.3" y1="538.2" x2="60.9" y2="538.2" stroke="#555" stroke-width="0.5"/>
<line x1="249.2" y1="538.2" x2="247.6" y2="538.2" stroke="#555" stroke-width="0.5"/>
<text x="55.8" y="540.2" font-size="5.4" text-anchor="end" fill="#262626">1</text>
<line x1="59.3" y1="559.5" x2="60.9" y2="559.5" stroke="#555" stroke-width="0.5"/>
<line x1="249.2" y1="559.5" x2="247.6" y2="559.5" stroke="#555" stroke-width="0.5"/>
<text x="55.8" y="561.5" font-size="5.4" text-anchor="end" fill="#262626">0.5</text>
<line x1="59.3" y1="580.8" x2="60.9" y2="580.8" stroke="#555" stroke-width="0.5"/>
<line x1="249.2" y1="580.8" x2="247.6" y2="580.8" stroke="#555" stroke-width="0.5"/>
<text x="55.8" y="582.8" font-size="5.4" text-anchor="end" fill="#262626">0</text>
<line x1="59.3" y1="602.1" x2="60.9" y2="602.1" stroke="#555" stroke-width="0.5"/>
<line x1="249.2" y1="602.1" x2="247.6" y2="602.1" stroke="#555" stroke-width="0.5"/>
<text x="55.8" y="604.1" font-size="5.4" text-anchor="end" fill="#262626">-0.5</text>
<line x1="59.3" y1="623.4" x2="60.9" y2="623.4" stroke="#555" stroke-width="0.5"/>
<line x1="249.2" y1="623.4" x2="247.6" y2="623.4" stroke="#555" stroke-width="0.5"/>
<text x="55.8" y="625.4" font-size="5.4" text-anchor="end" fill="#262626">-1</text>
<line x1="59.3" y1="644.7" x2="60.9" y2="644.7" stroke="#555" stroke-width="0.5"/>
<line x1="249.2" y1="644.7" x2="247.6" y2="644.7" stroke="#555" stroke-width="0.5"/>
<text x="55.8" y="646.7" font-size="5.4" text-anchor="end" fill="#262626">-1.5</text>
<line x1="59.3" y1="654" x2="59.3" y2="652.4" stroke="#555" stroke-width="0.5"/>
<line x1="59.3" y1="495" x2="59.3" y2="496.6" stroke="#555" stroke-width="0.5"/>
<text x="59.3" y="662" font-size="5.4" text-anchor="middle" fill="#262626">0</text>
<line x1="89.4" y1="654" x2="89.4" y2="652.4" stroke="#555" stroke-width="0.5"/>
<line x1="89.4" y1="495" x2="89.4" y2="496.6" stroke="#555" stroke-width="0.5"/>
<text x="89.4" y="662" font-size="5.4" text-anchor="middle" fill="#262626">2</text>
<line x1="119.5" y1="654" x2="119.5" y2="652.4" stroke="#555" stroke-width="0.5"/>
<line x1="119.5" y1="495" x2="119.5" y2="496.6" stroke="#555" stroke-width="0.5"/>
<text x="119.5" y="662" font-size="5.4" text-anchor="middle" fill="#262626">4</text>
<line x1="149.6" y1="654" x2="149.6" y2="652.4" stroke="#555" stroke-width="0.5"/>
<line x1="149.6" y1="495" x2="149.6" y2="496.6" stroke="#555" stroke-width="0.5"/>
<text x="149.6" y="662" font-size="5.4" text-anchor="middle" fill="#262626">6</text>
<line x1="179.7" y1="654" x2="179.7" y2="652.4" stroke="#555" stroke-width="0.5"/>
<line x1="179.7" y1="495" x2="179.7" y2="496.6" stroke="#555" stroke-width="0.5"/>
<text x="179.7" y="662" font-size="5.4" text-anchor="middle" fill="#262626">8</text>
<line x1="209.8" y1="654" x2="209.8" y2="652.4" stroke="#555" stroke-width="0.5"/>
<line x1="209.8" y1="495" x2="209.8" y2="496.6" stroke="#555" stroke-width="0.5"/>
<text x="209.8" y="662" font-size="5.4" text-anchor="middle" fill="#262626">10</text>
<line x1="239.9" y1="654" x2="239.9" y2="652.4" stroke="#555" stroke-width="0.5"/>
<line x1="239.9" y1="495" x2="239.9" y2="496.6" stroke="#555" stroke-width="0.5"/>
<text x="239.9" y="662" font-size="5.4" text-anchor="middle" fill="#262626">12</text>
<text x="153.6" y="671" font-size="5.6" text-anchor="middle" fill="#262626">Point spacing (m)</text>
<text x="43" y="574" font-size="5.4" text-anchor="middle" fill="#262626" transform="rotate(-90 43 574)">MAE (m)</text>
<rect x="83.2" y="500.2" width="161.5" height="8.6" fill="#fff" stroke="#444" stroke-width="0.5"/>
<line x1="84.7" y1="504.5" x2="100.2" y2="504.5" stroke="#1c2075" stroke-width="1.0"/>
<circle cx="92.4" cy="504.5" r="1.5" fill="#1c2075"/>
<text x="103.2" y="506.5" font-size="5.5" fill="#262626">Samp1</text>
<line x1="126" y1="504.5" x2="141.5" y2="504.5" stroke="#27aae1" stroke-width="1.0"/>
<circle cx="133.7" cy="504.5" r="1.5" fill="#27aae1"/>
<text x="144.5" y="506.5" font-size="5.5" fill="#262626">Samp2</text>
<line x1="166" y1="504.5" x2="181.5" y2="504.5" stroke="#fbd02d" stroke-width="1.0"/>
<circle cx="173.7" cy="504.5" r="1.7" fill="#fde98a" stroke="#fbd02d" stroke-width="0.8"/>
<text x="184.5" y="506.5" font-size="5.5" fill="#262626">Samp3</text>
<line x1="205.8" y1="504.5" x2="221.3" y2="504.5" stroke="#f18f2b" stroke-width="1.0"/>
<rect x="211.9" y="502.9" width="3.2" height="3.2" fill="#f9c27f" stroke="#f18f2b" stroke-width="0.8"/>
<text x="224.3" y="506.5" font-size="5.5" fill="#262626">Samp4</text>
</svg>
<div class="lab">阶梯图</div>
</div>
<div class="card" style="left:308px;top:470px;width:274px;height:216px">
<svg width="274" height="216" viewBox="308 470 274 216">
<text x="430" y="494.5" font-size="8.25" text-anchor="middle" font-weight="bold" fill="#111">South American Population by Country</text>
<path d="M430 584.5 L430 511.5 A73 73 0 0 0 425.7 657.4 Z" fill="#084488" stroke="#1d3345" stroke-width="0.45" stroke-linejoin="round"/>
<path d="M430 584.5 L425.7 657.4 A73 73 0 0 0 476.5 640.7 Z" fill="#0f6db1" stroke="#1d3345" stroke-width="0.45" stroke-linejoin="round"/>
<path d="M436.2 588.4 L482.7 644.7 A73 73 0 0 0 506.9 606.6 Z" fill="#3a9ac9" stroke="#1d3345" stroke-width="0.45" stroke-linejoin="round"/>
<path d="M430 584.5 L500.7 602.7 A73 73 0 0 0 500.7 566.5 Z" fill="#68bdd0" stroke="#1d3345" stroke-width="0.45" stroke-linejoin="round"/>
<path d="M436.4 581 L507.1 563 A73 73 0 0 0 489.5 530.9 Z" fill="#98d6be" stroke="#1d3345" stroke-width="0.45" stroke-linejoin="round"/>
<path d="M430 584.5 L483.1 534.4 A73 73 0 0 0 469.2 522.9 Z" fill="#c6e8c7" stroke="#1d3345" stroke-width="0.45" stroke-linejoin="round"/>
<path d="M430 584.5 L469.2 522.9 A73 73 0 0 0 451.8 514.8 Z" fill="#e0f2da" stroke="#1d3345" stroke-width="0.45" stroke-linejoin="round"/>
<path d="M430 584.5 L451.8 514.8 A73 73 0 0 0 430 511.5 Z" fill="#f4faee" stroke="#1d3345" stroke-width="0.45" stroke-linejoin="round"/>
<text x="341.8" y="585.6" font-size="7.9" text-anchor="middle" fill="#262626">49%</text>
<text x="454.3" y="668.6" font-size="7.9" text-anchor="middle" fill="#262626">12%</text>
<text x="511" y="639.2" font-size="7.9" text-anchor="middle" fill="#262626">10%</text>
<text x="515.3" y="587.6" font-size="7.9" text-anchor="middle" fill="#262626">8%</text>
<text x="512" y="541.2" font-size="7.9" text-anchor="middle" fill="#262626">8%</text>
<text x="486.5" y="521.5" font-size="7.9" text-anchor="middle" fill="#262626">4%</text>
<text x="469.6" y="511" font-size="7.9" text-anchor="middle" fill="#262626">4%</text>
<text x="441.8" y="504.2" font-size="7.9" text-anchor="middle" fill="#262626">5%</text>
<rect x="521.9" y="601.9" width="4.2" height="4.2" fill="#084488" stroke="#333" stroke-width="0.4"/>
<text x="528" y="606.2" font-size="6.3" fill="#262626">Brazil</text>
<rect x="521.9" y="609.8" width="4.2" height="4.2" fill="#0f6db1" stroke="#333" stroke-width="0.4"/>
<text x="528" y="614.1" font-size="6.3" fill="#262626">Colombia</text>
<rect x="521.9" y="617.6" width="4.2" height="4.2" fill="#3a9ac9" stroke="#333" stroke-width="0.4"/>
<text x="528" y="621.9" font-size="6.3" fill="#262626">Argentina</text>
<rect x="521.9" y="625.5" width="4.2" height="4.2" fill="#68bdd0" stroke="#333" stroke-width="0.4"/>
<text x="528" y="629.8" font-size="6.3" fill="#262626">Peru</text>
<rect x="521.9" y="633.3" width="4.2" height="4.2" fill="#98d6be" stroke="#333" stroke-width="0.4"/>
<text x="528" y="637.6" font-size="6.3" fill="#262626">Venezuela</text>
<rect x="521.9" y="641.2" width="4.2" height="4.2" fill="#c6e8c7" stroke="#333" stroke-width="0.4"/>
<text x="528" y="645.5" font-size="6.3" fill="#262626">Chile</text>
<rect x="521.9" y="649.1" width="4.2" height="4.2" fill="#e0f2da" stroke="#333" stroke-width="0.4"/>
<text x="528" y="653.4" font-size="6.3" fill="#262626">Ecuador</text>
<rect x="521.9" y="656.9" width="4.2" height="4.2" fill="#f4faee" stroke="#333" stroke-width="0.4"/>
<text x="528" y="661.2" font-size="6.3" fill="#262626">Others</text>
</svg>
<div class="lab">偏移饼图</div>
</div>
<div class="card" style="left:603px;top:470px;width:274px;height:216px">
<svg width="274" height="216" viewBox="603 470 274 216">
<rect x="639.3" y="505.7" width="180.7" height="139.3" fill="#fff" stroke="#555" stroke-width="0.5"/>
<circle cx="764.7" cy="551.7" r="12.7" fill="#fde725" fill-opacity="0.7"/>
<circle cx="756.7" cy="572.3" r="12.7" fill="#e5e419" fill-opacity="0.7"/>
<circle cx="655" cy="532.3" r="12.3" fill="#ece51b" fill-opacity="0.7"/>
<circle cx="733.3" cy="571.7" r="12.3" fill="#8ed645" fill-opacity="0.7"/>
<circle cx="710" cy="620" r="12.3" fill="#d8e219" fill-opacity="0.7"/>
<circle cx="771.7" cy="575.7" r="11.7" fill="#6ece58" fill-opacity="0.7"/>
<circle cx="694" cy="609" r="11.7" fill="#6ece58" fill-opacity="0.7"/>
<circle cx="780" cy="589" r="11.7" fill="#86d549" fill-opacity="0.7"/>
<circle cx="710" cy="530" r="11.3" fill="#b0dd2f" fill-opacity="0.7"/>
<circle cx="725" cy="601" r="11.3" fill="#9bd93c" fill-opacity="0.7"/>
<circle cx="662.7" cy="546.7" r="11" fill="#86d549" fill-opacity="0.7"/>
<circle cx="671" cy="555" r="11" fill="#5ec962" fill-opacity="0.7"/>
<circle cx="741" cy="538.3" r="11" fill="#6ece58" fill-opacity="0.7"/>
<circle cx="804" cy="606.7" r="11" fill="#58c765" fill-opacity="0.7"/>
<circle cx="803.3" cy="566.7" r="10.7" fill="#4ec36b" fill-opacity="0.7"/>
<circle cx="662.7" cy="610" r="10.7" fill="#58c765" fill-opacity="0.7"/>
<circle cx="788.3" cy="625" r="10.7" fill="#4ec36b" fill-opacity="0.7"/>
<circle cx="717.7" cy="575" r="10.3" fill="#22a884" fill-opacity="0.7"/>
<circle cx="756.7" cy="631.7" r="10.3" fill="#44bf70" fill-opacity="0.7"/>
<circle cx="780" cy="561" r="10" fill="#26ad81" fill-opacity="0.7"/>
<circle cx="694" cy="598.3" r="9" fill="#1fa188" fill-opacity="0.7"/>
<circle cx="796" cy="591.7" r="8.7" fill="#1e9c89" fill-opacity="0.7"/>
<circle cx="741.7" cy="566.7" r="8.3" fill="#287d8e" fill-opacity="0.7"/>
<circle cx="678.3" cy="529" r="8" fill="#2c738e" fill-opacity="0.7"/>
<circle cx="797.3" cy="596.7" r="8" fill="#1f958b" fill-opacity="0.7"/>
<circle cx="670.7" cy="519" r="7.3" fill="#2e6f8e" fill-opacity="0.7"/>
<circle cx="686.7" cy="582.7" r="7.3" fill="#355f8d" fill-opacity="0.7"/>
<circle cx="749.3" cy="585.7" r="6.7" fill="#38588c" fill-opacity="0.7"/>
<circle cx="717.3" cy="589.3" r="6.7" fill="#365d8d" fill-opacity="0.7"/>
<circle cx="725" cy="595" r="6.7" fill="#32648e" fill-opacity="0.7"/>
<circle cx="772.7" cy="619.3" r="6.3" fill="#3b528b" fill-opacity="0.7"/>
<circle cx="686.7" cy="610" r="5.7" fill="#463480" fill-opacity="0.7"/>
<circle cx="701.7" cy="575.7" r="5.3" fill="#433e85" fill-opacity="0.7"/>
<circle cx="655" cy="588.3" r="5" fill="#443a83" fill-opacity="0.7"/>
<circle cx="734" cy="593.3" r="4.3" fill="#46307e" fill-opacity="0.7"/>
<circle cx="702.3" cy="595.7" r="4.3" fill="#482475" fill-opacity="0.7"/>
<circle cx="764.7" cy="543.3" r="4.3" fill="#460b5e" fill-opacity="0.7"/>
<circle cx="788.3" cy="593.3" r="4" fill="#471063" fill-opacity="0.7"/>
<circle cx="749" cy="571.7" r="2" fill="#46085c" fill-opacity="0.7"/>
<circle cx="678.3" cy="572.7" r="0.7" fill="#471365" fill-opacity="0.7"/>
<line x1="638.9" y1="645" x2="638.9" y2="643.4" stroke="#555" stroke-width="0.5"/>
<line x1="638.9" y1="505.7" x2="638.9" y2="507.3" stroke="#555" stroke-width="0.5"/>
<text x="638.9" y="652.5" font-size="5.2" text-anchor="middle" fill="#262626">0</text>
<line x1="654.6" y1="645" x2="654.6" y2="643.4" stroke="#555" stroke-width="0.5"/>
<line x1="654.6" y1="505.7" x2="654.6" y2="507.3" stroke="#555" stroke-width="0.5"/>
<text x="654.6" y="652.5" font-size="5.2" text-anchor="middle" fill="#262626">2</text>
<line x1="670.3" y1="645" x2="670.3" y2="643.4" stroke="#555" stroke-width="0.5"/>
<line x1="670.3" y1="505.7" x2="670.3" y2="507.3" stroke="#555" stroke-width="0.5"/>
<text x="670.3" y="652.5" font-size="5.2" text-anchor="middle" fill="#262626">4</text>
<line x1="686" y1="645" x2="686" y2="643.4" stroke="#555" stroke-width="0.5"/>
<line x1="686" y1="505.7" x2="686" y2="507.3" stroke="#555" stroke-width="0.5"/>
<text x="686" y="652.5" font-size="5.2" text-anchor="middle" fill="#262626">6</text>
<line x1="701.7" y1="645" x2="701.7" y2="643.4" stroke="#555" stroke-width="0.5"/>
<line x1="701.7" y1="505.7" x2="701.7" y2="507.3" stroke="#555" stroke-width="0.5"/>
<text x="701.7" y="652.5" font-size="5.2" text-anchor="middle" fill="#262626">8</text>
<line x1="717.4" y1="645" x2="717.4" y2="643.4" stroke="#555" stroke-width="0.5"/>
<line x1="717.4" y1="505.7" x2="717.4" y2="507.3" stroke="#555" stroke-width="0.5"/>
<text x="717.4" y="652.5" font-size="5.2" text-anchor="middle" fill="#262626">10</text>
<line x1="733.1" y1="645" x2="733.1" y2="643.4" stroke="#555" stroke-width="0.5"/>
<line x1="733.1" y1="505.7" x2="733.1" y2="507.3" stroke="#555" stroke-width="0.5"/>
<text x="733.1" y="652.5" font-size="5.2" text-anchor="middle" fill="#262626">12</text>
<line x1="748.8" y1="645" x2="748.8" y2="643.4" stroke="#555" stroke-width="0.5"/>
<line x1="748.8" y1="505.7" x2="748.8" y2="507.3" stroke="#555" stroke-width="0.5"/>
<text x="748.8" y="652.5" font-size="5.2" text-anchor="middle" fill="#262626">14</text>
<line x1="764.5" y1="645" x2="764.5" y2="643.4" stroke="#555" stroke-width="0.5"/>
<line x1="764.5" y1="505.7" x2="764.5" y2="507.3" stroke="#555" stroke-width="0.5"/>
<text x="764.5" y="652.5" font-size="5.2" text-anchor="middle" fill="#262626">16</text>
<line x1="780.2" y1="645" x2="780.2" y2="643.4" stroke="#555" stroke-width="0.5"/>
<line x1="780.2" y1="505.7" x2="780.2" y2="507.3" stroke="#555" stroke-width="0.5"/>
<text x="780.2" y="652.5" font-size="5.2" text-anchor="middle" fill="#262626">18</text>
<line x1="795.9" y1="645" x2="795.9" y2="643.4" stroke="#555" stroke-width="0.5"/>
<line x1="795.9" y1="505.7" x2="795.9" y2="507.3" stroke="#555" stroke-width="0.5"/>
<text x="795.9" y="652.5" font-size="5.2" text-anchor="middle" fill="#262626">20</text>
<line x1="811.6" y1="645" x2="811.6" y2="643.4" stroke="#555" stroke-width="0.5"/>
<line x1="811.6" y1="505.7" x2="811.6" y2="507.3" stroke="#555" stroke-width="0.5"/>
<text x="811.6" y="652.5" font-size="5.2" text-anchor="middle" fill="#262626">22</text>
<line x1="639.3" y1="645" x2="640.9" y2="645" stroke="#555" stroke-width="0.5"/>
<line x1="820" y1="645" x2="818.4" y2="645" stroke="#555" stroke-width="0.5"/>
<text x="636.3" y="646.9" font-size="5.2" text-anchor="end" fill="#262626">0</text>
<line x1="639.3" y1="621.8" x2="640.9" y2="621.8" stroke="#555" stroke-width="0.5"/>
<line x1="820" y1="621.8" x2="818.4" y2="621.8" stroke="#555" stroke-width="0.5"/>
<text x="636.3" y="623.7" font-size="5.2" text-anchor="end" fill="#262626">0.2</text>
<line x1="639.3" y1="598.6" x2="640.9" y2="598.6" stroke="#555" stroke-width="0.5"/>
<line x1="820" y1="598.6" x2="818.4" y2="598.6" stroke="#555" stroke-width="0.5"/>
<text x="636.3" y="600.5" font-size="5.2" text-anchor="end" fill="#262626">0.4</text>
<line x1="639.3" y1="575.3" x2="640.9" y2="575.3" stroke="#555" stroke-width="0.5"/>
<line x1="820" y1="575.3" x2="818.4" y2="575.3" stroke="#555" stroke-width="0.5"/>
<text x="636.3" y="577.2" font-size="5.2" text-anchor="end" fill="#262626">0.6</text>
<line x1="639.3" y1="552.1" x2="640.9" y2="552.1" stroke="#555" stroke-width="0.5"/>
<line x1="820" y1="552.1" x2="818.4" y2="552.1" stroke="#555" stroke-width="0.5"/>
<text x="636.3" y="554" font-size="5.2" text-anchor="end" fill="#262626">0.8</text>
<line x1="639.3" y1="528.9" x2="640.9" y2="528.9" stroke="#555" stroke-width="0.5"/>
<line x1="820" y1="528.9" x2="818.4" y2="528.9" stroke="#555" stroke-width="0.5"/>
<text x="636.3" y="530.8" font-size="5.2" text-anchor="end" fill="#262626">1</text>
<line x1="639.3" y1="505.7" x2="640.9" y2="505.7" stroke="#555" stroke-width="0.5"/>
<line x1="820" y1="505.7" x2="818.4" y2="505.7" stroke="#555" stroke-width="0.5"/>
<text x="636.3" y="507.6" font-size="5.2" text-anchor="end" fill="#262626">1.2</text>
<text x="729.3" y="504.2" font-size="6" text-anchor="middle" font-weight="bold" fill="#111">BubbleChart</text>
<text x="729.3" y="659.7" font-size="5.4" text-anchor="middle" fill="#262626">XAxis</text>
<text x="627.5" y="575" font-size="5.4" text-anchor="middle" fill="#262626" transform="rotate(-90 627.5 575)">YAxis</text>
<circle cx="839.3" cy="523.3" r="12.3" fill="#666"/>
<circle cx="840" cy="548.3" r="9" fill="#666"/>
<circle cx="840" cy="562.7" r="0.6" fill="#666"/>
<line x1="855.7" y1="523.3" x2="855.7" y2="562.7" stroke="#555" stroke-width="0.5"/>
<line x1="855.7" y1="523.3" x2="858.3" y2="523.3" stroke="#555" stroke-width="0.5"/>
<line x1="855.7" y1="562.7" x2="858.3" y2="562.7" stroke="#555" stroke-width="0.5"/>
<text x="860" y="525.4" font-size="4.4" fill="#262626">494</text>
<text x="860" y="564.4" font-size="4.4" fill="#262626">45</text>
<linearGradient id="virV" x1="0" y1="0" x2="0" y2="1"><stop offset="0%" stop-color="#fde725"/><stop offset="10%" stop-color="#bddf26"/><stop offset="20%" stop-color="#7ad151"/><stop offset="30%" stop-color="#44bf70"/><stop offset="40%" stop-color="#22a884"/><stop offset="50%" stop-color="#21918c"/><stop offset="60%" stop-color="#2a788e"/><stop offset="70%" stop-color="#355f8d"/><stop offset="80%" stop-color="#414487"/><stop offset="90%" stop-color="#482475"/><stop offset="100%" stop-color="#440154"/></linearGradient>
<rect x="834.3" y="576.7" width="8.3" height="68.3" fill="url(#virV)" stroke="#555" stroke-width="0.4"/>
<line x1="841.2" y1="591" x2="842.7" y2="591" stroke="#555" stroke-width="0.4"/>
<text x="845.7" y="592.6" font-size="4.6" fill="#262626">400</text>
<line x1="841.2" y1="606.3" x2="842.7" y2="606.3" stroke="#555" stroke-width="0.4"/>
<text x="845.7" y="607.9" font-size="4.6" fill="#262626">300</text>
<line x1="841.2" y1="621.7" x2="842.7" y2="621.7" stroke="#555" stroke-width="0.4"/>
<text x="845.7" y="623.3" font-size="4.6" fill="#262626">200</text>
<line x1="841.2" y1="637" x2="842.7" y2="637" stroke="#555" stroke-width="0.4"/>
<text x="845.7" y="638.6" font-size="4.6" fill="#262626">100</text>
</svg>
<div class="lab" style="left:5px">气泡图</div>
</div>
<div class="card" style="left:12px;top:712px;width:274px;height:217px">
<svg width="274" height="217" viewBox="12 712 274 217">
<text x="136.6" y="734.4" font-size="6.4" text-anchor="middle" font-weight="bold" fill="#111">BubbleMatrix Plot</text>
<rect x="51.9" y="735.9" width="169.5" height="20" fill="none" stroke="#777" stroke-width="0.5"/>
<line x1="67.3" y1="735.9" x2="67.3" y2="756" stroke="#e2e2e2" stroke-width="0.5"/>
<line x1="82.7" y1="735.9" x2="82.7" y2="756" stroke="#e2e2e2" stroke-width="0.5"/>
<line x1="98.1" y1="735.9" x2="98.1" y2="756" stroke="#e2e2e2" stroke-width="0.5"/>
<line x1="113.5" y1="735.9" x2="113.5" y2="756" stroke="#e2e2e2" stroke-width="0.5"/>
<line x1="128.9" y1="735.9" x2="128.9" y2="756" stroke="#e2e2e2" stroke-width="0.5"/>
<line x1="144.4" y1="735.9" x2="144.4" y2="756" stroke="#e2e2e2" stroke-width="0.5"/>
<line x1="159.8" y1="735.9" x2="159.8" y2="756" stroke="#e2e2e2" stroke-width="0.5"/>
<line x1="175.2" y1="735.9" x2="175.2" y2="756" stroke="#e2e2e2" stroke-width="0.5"/>
<line x1="190.6" y1="735.9" x2="190.6" y2="756" stroke="#e2e2e2" stroke-width="0.5"/>
<line x1="206" y1="735.9" x2="206" y2="756" stroke="#e2e2e2" stroke-width="0.5"/>
<circle cx="241.4" cy="746" r="6.3" fill="#666"/>
</svg>
</div>
<div class="card" style="left:308px;top:712px;width:274px;height:217px">
<svg width="274" height="217" viewBox="308 712 274 217">
<text x="449.2" y="745.2" font-size="9.05" text-anchor="middle" font-weight="bold" fill="#111">Histogram Plot</text>
</svg>
</div>
<div class="card" style="left:603px;top:712px;width:274px;height:217px">
<svg width="274" height="217" viewBox="603 712 274 217">
<text x="743.5" y="738.7" font-size="6.7" text-anchor="middle" font-weight="bold" fill="#111">Ride counts based on ride length and the age of the rider</text>
<path d="M691.7 743 L694 741 L723 743.5" fill="none" stroke="#888" stroke-width="0.5"/>
</svg>
</div>
</body></html>
